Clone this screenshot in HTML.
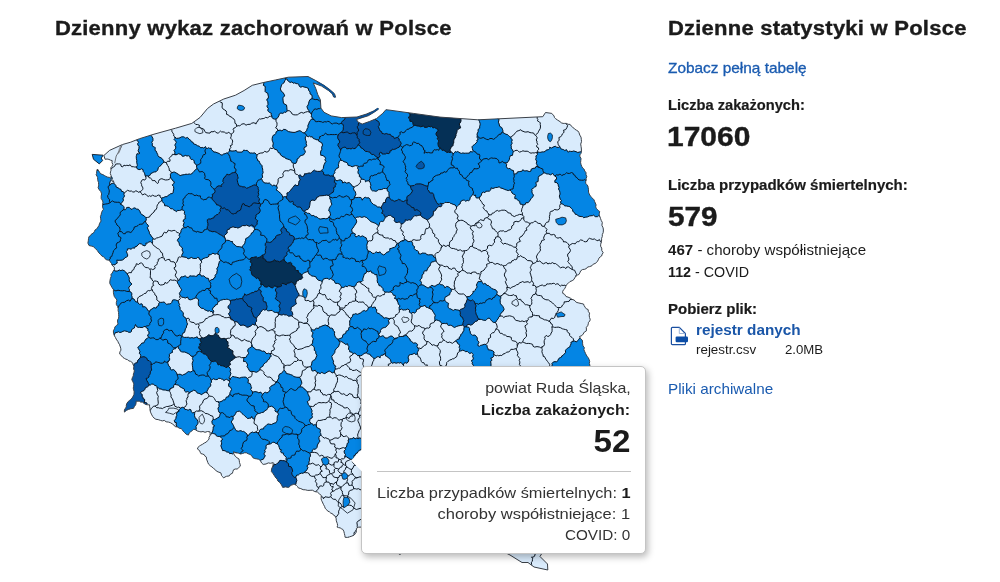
<!DOCTYPE html>
<html lang="pl">
<head>
<meta charset="utf-8">
<title>Dzienny wykaz zachorowań w Polsce</title>
<style>
html,body{margin:0;padding:0;background:#fff;}
body{width:1000px;height:582px;position:relative;overflow:hidden;font-family:"Liberation Sans","DejaVu Sans",sans-serif;color:#1b1b1b;}
.t{position:absolute;white-space:nowrap;line-height:1;margin:0;}
h2.t{font-size:20px;font-weight:bold;letter-spacing:0.2px;color:#1b1b1b;-webkit-text-stroke:0.35px #1b1b1b;}
.b{font-weight:bold;}
.lbl{font-size:14.5px;font-weight:bold;-webkit-text-stroke:0.2px #1b1b1b;}
.big{font-size:28px;font-weight:bold;-webkit-text-stroke:0.4px #1b1b1b;}
.lnk{color:#1a5bb0;}
#map{position:absolute;left:0;top:0;}
#tip{position:absolute;left:361px;top:366px;width:282.5px;height:186px;background:#fff;border:1px solid #c4c4c4;border-radius:5px;box-shadow:2px 3px 7px rgba(0,0,0,.28);}
#tip .r{position:absolute;right:14px;white-space:nowrap;line-height:1;font-size:15px;color:#333;}
#tip hr{position:absolute;left:15px;right:14px;top:103.5px;margin:0;border:0;border-top:1px solid #c4c4c4;}
#arr{position:absolute;left:350px;top:449px;}
</style>
</head>
<body>
<h2 class="t" id="h1" style="left:55px;top:18px;transform:scaleX(1.102);transform-origin:1px 0;">Dzienny wykaz zachorowań w Polsce</h2>
<h2 class="t" id="h2" style="left:668px;top:18px;transform:scaleX(1.102);transform-origin:1px 0;">Dzienne statystyki w Polsce</h2>
<a class="t lnk" id="l1" style="left:668px;top:61px;font-size:14.5px;-webkit-text-stroke:0.3px #1a5bb0;transform:scaleX(1.0615);transform-origin:0 0;">Zobacz pełną tabelę</a>
<div class="t lbl" id="a1" style="left:668px;top:98px;transform:scaleX(1.011);transform-origin:0 0;">Liczba zakażonych:</div>
<div class="t big" id="a2" style="left:667px;top:123px;transform:scaleX(1.07);transform-origin:0 0;">17060</div>
<div class="t lbl" id="a3" style="left:668px;top:178px;transform:scaleX(1.037);transform-origin:0 0;">Liczba przypadków śmiertelnych:</div>
<div class="t big" id="a4" style="left:668px;top:203px;transform:scaleX(1.06);transform-origin:0 0;">579</div>
<div class="t" id="a5" style="left:668px;top:243px;font-size:14.5px;transform:scaleX(1.041);transform-origin:0 0;"><span class="b">467</span> - choroby współistniejące</div>
<div class="t" id="a6" style="left:668px;top:265px;font-size:14.5px;transform:scaleX(0.985);transform-origin:0 0;"><span class="b">112</span> - COVID</div>
<div class="t lbl" id="a7" style="left:668px;top:302px;transform:scaleX(1.033);transform-origin:0 0;">Pobierz plik:</div>
<svg id="ico" style="position:absolute;left:670px;top:325px;" width="20" height="22" viewBox="0 0 20 22"><path d="M2.4 2.4h6.9l6.1 6.1v10.2a1 1 0 0 1-1 1h-12a1 1 0 0 1-1-1v-15.3a1 1 0 0 1 1-1z" fill="#fff" stroke="#1a4fa0" stroke-width="1.2"/><path d="M9.3 2.6v5.9h5.9" fill="none" stroke="#9db4d8" stroke-width="1"/><rect x="5.6" y="11.6" width="12.4" height="5.7" rx="1.2" fill="#0b4da6"/></svg>
<a class="t lnk b" id="a8" style="left:696px;top:322px;font-size:15px;color:#1a56a8;transform:scaleX(1.02);transform-origin:0 0;">rejestr danych</a>
<div class="t" id="a9" style="left:696px;top:344px;font-size:12px;transform:scaleX(1.113);transform-origin:0 0;">rejestr.csv</div>
<div class="t" id="a10" style="left:785px;top:344px;font-size:12px;transform:scaleX(1.10);transform-origin:0 0;">2.0MB</div>
<a class="t lnk" id="a11" style="left:668px;top:382px;font-size:14.5px;transform:scaleX(1.052);transform-origin:0 0;">Pliki archiwalne</a>
<svg id="map" width="1000" height="582" viewBox="0 0 1000 582">
<defs><clipPath id="pl"><path d="M103.9,155.5L109.7,150.3L122.5,144.5L130.3,142.3L139.5,138.7L154.0,134.2L175.6,128.2L191.8,123.4L200.0,117.5L207.5,108.5L213.5,104.0L223.8,99.0L235.5,95.2L244.1,90.5L252.3,85.3L263.1,82.6L275.8,79.9L288.4,77.2L308.0,76.5L315.8,80.6L324.0,85.3L330.2,89.9L334.5,93.7L335.6,97.2L333.6,97.0L332.4,93.9L328.7,90.7L321.6,86.1L313.2,82.9L315.8,88.6L317.8,94.7L320.4,99.9L320.9,108.1L324.0,112.3L331.2,115.9L341.5,117.6L357.0,117.0L366.3,114.1L373.5,111.0L377.8,108.2L378.4,109.3L374.0,112.3L368.4,115.7L361.1,118.0L356.5,119.5L358.0,122.0L362.2,124.1L369.4,121.5L376.6,118.5L382.8,113.3L385.9,109.7L390.0,110.2L413.3,113.4L440.0,117.1L477.9,119.8L542.8,116.7L545.5,112.5L551.8,113.4L552.6,114.6L554.0,115.7L554.4,117.4L555.5,118.6L557.6,120.1L560.0,121.6L561.3,122.8L563.1,123.4L564.7,123.4L566.4,123.4L568.1,124.3L570.1,124.4L571.1,125.9L572.6,127.0L574.5,129.0L576.4,130.2L577.9,131.0L578.9,132.5L579.8,135.1L581.0,137.1L581.3,139.3L581.5,141.7L580.7,144.1L581.1,146.7L581.4,149.0L581.4,151.9L580.9,153.6L579.8,154.9L580.0,156.7L581.0,158.5L580.8,160.5L580.6,162.7L581.1,164.7L581.7,166.3L582.8,168.2L584.3,169.4L584.7,171.0L586.0,172.6L586.0,174.6L586.8,176.7L586.1,178.5L586.2,180.1L585.7,181.7L585.7,183.3L586.9,184.7L587.9,186.0L588.2,187.8L588.5,189.3L588.5,192.1L589.1,193.6L589.7,195.0L590.8,196.4L591.9,197.7L594.0,199.8L594.6,201.5L595.3,203.0L596.1,204.9L595.7,206.9L596.4,208.5L597.5,209.5L598.5,210.7L599.7,211.5L599.3,213.2L599.2,215.0L599.9,216.7L600.5,218.4L601.2,220.4L602.3,222.4L601.9,225.3L603.1,227.8L603.4,230.0L603.2,232.6L602.3,234.6L602.3,236.5L601.6,238.3L601.6,239.9L601.4,241.9L600.7,244.2L600.6,246.2L601.7,248.1L601.8,250.6L603.2,252.7L602.2,254.1L601.6,256.0L600.2,256.9L599.0,258.1L598.3,259.8L597.5,261.2L596.5,262.5L595.1,263.5L593.3,264.1L592.0,265.7L589.7,266.6L587.6,267.0L586.6,268.4L584.7,269.3L582.6,269.5L580.7,270.8L579.9,272.7L578.9,274.5L577.4,275.1L575.9,276.3L574.8,277.7L574.0,279.4L572.2,280.7L569.9,281.6L567.8,283.7L566.5,284.7L565.7,286.5L564.9,288.5L563.6,289.7L562.7,291.3L562.7,293.3L564.6,294.3L566.0,296.5L568.0,297.1L570.3,298.1L572.0,299.4L574.0,300.0L575.3,301.1L576.2,302.3L578.9,303.0L581.1,303.5L583.5,304.0L584.1,305.6L585.1,307.2L586.3,308.8L588.1,309.5L588.4,311.7L589.6,313.1L589.2,315.1L589.5,317.5L590.2,319.3L589.8,321.0L588.5,322.3L588.3,323.8L587.7,325.8L586.3,327.3L586.4,329.0L586.4,330.9L584.3,332.1L583.2,334.0L581.9,335.6L579.5,336.5L580.6,338.7L582.2,340.0L582.6,342.1L582.6,343.8L583.0,345.9L584.3,347.5L583.9,349.7L584.7,351.6L585.5,353.4L586.3,355.0L587.0,356.2L588.0,357.4L589.0,359.2L589.7,361.4L589.3,363.4L589.9,365.3L589.6,367.0L590.0,368.5L590.1,370.5L589.1,372.3L589.0,374.6L589.7,376.8L590.4,378.8L592.0,380.0L600.0,400.0L607.0,420.0L600.0,440.0L585.0,470.0L570.0,500.0L560.0,530.0L545.0,548.0L540.0,556.5L547.5,564.0L547.8,570.0L534.0,567.0L528.0,562.5L522.0,562.5L510.0,555.0L490.0,545.0L470.0,548.0L450.0,540.0L430.0,545.0L415.0,540.0L400.0,554.5L385.0,545.0L375.0,535.0L361.0,527.1L358.4,527.2L356.4,528.3L356.4,530.4L356.2,532.2L355.3,533.7L354.1,535.1L351.9,536.1L349.4,536.9L347.5,537.4L345.1,537.3L344.8,535.3L344.4,533.6L343.8,531.2L342.8,529.4L341.3,528.7L340.2,527.9L338.5,527.6L337.1,527.1L337.6,525.5L337.3,523.6L336.3,520.8L336.1,518.1L334.9,515.8L333.4,515.1L332.5,513.7L330.8,513.2L329.4,511.8L327.7,511.1L326.5,509.5L325.2,508.4L324.7,506.7L323.4,504.3L322.3,501.9L321.5,500.3L321.1,498.6L321.2,497.1L321.3,495.4L319.4,493.9L317.4,492.0L314.8,491.6L312.4,490.2L310.1,490.3L307.8,490.4L305.3,489.8L303.1,489.7L300.8,488.6L298.3,487.9L297.6,486.6L296.5,485.5L294.0,484.0L292.5,484.8L290.8,485.2L289.9,486.5L288.4,487.4L285.5,486.9L282.7,487.4L281.5,484.9L279.8,482.6L277.7,480.8L277.2,479.1L276.0,478.0L275.0,476.7L274.0,475.1L272.7,473.1L271.4,471.6L271.5,469.1L272.5,466.8L273.1,465.0L273.2,462.6L270.5,463.3L268.3,462.9L266.0,464.0L263.2,464.4L261.6,463.0L260.6,460.9L258.9,459.3L256.9,458.9L254.8,458.6L253.1,457.9L251.8,455.9L250.1,454.4L248.2,453.8L246.7,452.9L244.8,452.7L242.5,453.5L240.5,454.0L238.2,453.0L235.9,452.9L233.5,451.7L233.8,454.0L235.2,456.2L236.9,457.7L238.9,458.9L239.3,460.8L239.5,462.6L240.1,464.2L240.3,466.2L238.8,467.6L237.2,469.0L235.2,469.0L233.5,469.8L232.9,471.6L232.4,473.3L230.5,474.1L229.3,475.9L226.5,476.3L225.0,477.0L223.6,477.9L222.6,476.7L221.6,475.6L220.9,472.9L218.1,471.9L216.5,471.2L215.4,469.8L213.4,468.3L211.9,466.9L210.3,465.8L208.6,464.2L207.8,462.5L207.3,461.0L206.5,459.1L206.4,457.1L205.1,456.3L204.3,454.8L202.8,454.1L200.9,453.6L200.2,452.2L199.6,450.6L197.4,449.0L198.1,447.2L199.4,446.1L200.8,445.2L202.5,444.3L204.4,443.0L206.3,442.1L207.6,440.5L209.1,439.1L209.0,437.4L210.0,435.8L210.2,433.8L210.0,431.9L207.5,431.5L205.0,432.3L203.0,431.5L201.0,431.9L199.2,431.5L197.1,430.9L195.5,429.8L193.8,429.2L192.3,430.6L190.7,431.7L189.2,433.0L188.4,435.1L186.0,434.1L184.3,432.2L183.1,431.1L182.3,429.7L181.1,428.5L179.4,428.3L177.3,426.9L175.2,426.7L173.9,425.0L172.2,423.8L170.4,422.7L168.6,422.1L166.1,421.8L164.3,420.4L162.3,420.9L160.5,420.4L158.2,419.6L155.9,419.3L154.1,418.1L152.7,416.5L151.4,414.1L150.5,412.1L150.0,410.0L150.0,408.1L149.5,406.3L149.6,404.8L147.7,404.8L145.7,404.5L144.0,403.4L142.4,402.1L140.6,402.1L139.2,401.1L137.8,401.3L136.1,401.2L136.1,402.9L135.7,404.7L134.4,406.6L133.4,408.4L130.9,408.7L128.5,409.4L126.4,410.4L124.4,412.1L124.4,410.0L125.4,408.3L126.3,407.0L126.3,405.1L126.9,403.3L128.2,401.5L129.4,400.5L130.7,399.4L132.1,398.1L132.9,396.5L133.9,394.7L134.1,393.0L134.1,391.2L133.6,389.8L133.3,388.2L133.5,386.6L133.8,384.8L133.6,383.2L132.6,381.3L131.8,379.6L132.4,377.5L133.3,375.9L133.4,373.9L134.1,372.2L134.3,370.5L133.6,369.0L133.9,366.3L133.0,364.6L132.8,363.0L130.5,361.3L128.8,360.9L127.6,359.7L125.9,359.2L124.6,358.5L123.0,357.5L121.9,356.1L119.7,354.1L119.9,351.9L120.9,350.2L120.8,348.7L120.4,347.0L119.4,344.3L118.5,343.0L117.9,341.5L116.2,339.1L115.5,337.6L114.5,336.0L113.5,333.4L113.4,330.7L114.5,328.8L114.9,327.0L116.4,325.4L118.1,324.2L117.6,322.1L117.6,320.0L118.6,318.2L118.8,316.2L118.6,314.5L118.6,312.5L118.1,310.5L118.2,308.7L117.6,306.4L116.4,304.7L116.3,302.5L117.0,300.0L115.7,298.4L114.2,296.3L113.7,294.1L113.4,292.3L113.4,289.5L112.0,287.5L110.8,285.3L109.8,283.4L109.9,280.9L110.4,278.5L111.2,276.4L111.0,274.3L112.2,273.1L113.1,271.3L114.4,269.4L114.3,267.1L112.0,265.2L111.5,263.5L110.5,262.2L109.8,260.9L108.3,260.1L106.8,259.9L105.3,259.0L104.6,257.6L103.3,256.7L101.8,256.0L100.8,254.7L98.9,252.9L97.5,250.7L95.6,248.8L94.5,247.9L93.6,246.6L91.4,246.1L89.0,245.5L87.9,243.1L88.3,240.8L88.5,238.6L89.0,236.5L90.6,235.6L91.4,234.1L93.4,233.1L94.4,231.5L95.1,229.9L96.8,228.9L97.9,227.1L98.9,225.7L99.6,223.3L101.0,221.1L100.7,218.8L100.4,216.7L101.1,214.8L101.5,212.8L102.3,210.8L103.4,209.4L102.6,207.0L102.6,204.5L103.0,202.1L102.2,200.1L101.2,198.5L101.2,196.2L101.6,193.9L100.8,191.6L99.2,189.7L98.1,187.7L98.6,185.9L98.6,184.3L98.5,182.4L97.9,180.8L97.7,179.2L97.6,177.5L97.0,176.1L96.1,174.8L96.7,173.3L96.6,171.6L97.4,169.0L98.5,170.5L99.5,172.2L100.7,173.8L102.8,174.6L104.5,175.5L105.9,176.4L107.8,177.2L109.7,177.4L110.8,178.8L111.5,180.7L112.7,181.6L114.2,182.5L112.7,180.0L110.8,178.3L111.1,175.6L110.3,173.5L110.5,171.9L111.0,170.3L110.9,167.7L112.0,166.3L112.9,164.5L112.0,162.6L112.2,160.6L110.6,160.2L108.9,159.4L107.1,159.0L105.1,159.3Z"/></clipPath></defs>
<g clip-path="url(#pl)" stroke-linejoin="round">
<rect x="80" y="70" width="540" height="512" fill="#d9ebfc"/>
<path d="M152.1,136.8L151.2,135.9L150.9,134.2L150.1,132.5L149.0,130.9L147.6,129.7L147.8,128.2L148.9,126.1L148.0,124.4L145.8,123.9L145.5,122.3L145.3,120.5L144.1,121.3L142.6,121.9L140.5,120.8L139.4,121.2L138.4,122.4L136.3,123.0L134.5,123.3L133.1,124.9L130.7,124.7L129.4,126.6L129.0,128.6L130.5,130.6L131.6,131.8L131.2,133.8L131.1,136.1L132.0,137.6L133.2,138.3L133.9,140.2L135.7,139.4L137.2,140.3L138.6,142.3L137.7,143.5L137.8,144.9L139.1,146.5L138.9,148.5L138.2,150.3L138.6,152.3L140.0,153.0L138.5,153.9L137.0,153.7L136.5,155.3L136.3,156.4L136.4,158.8L136.8,160.4L136.7,162.4L137.2,164.3L137.3,165.7L136.4,167.0L137.3,168.9L138.9,169.6L140.3,169.5L141.2,168.7L143.1,169.7L143.2,171.4L144.2,172.5L144.7,173.8L145.3,176.0L147.0,175.9L148.3,176.0L149.8,175.5L150.8,173.5L152.1,173.0L153.1,172.3L154.6,171.9L156.0,171.8L157.7,170.1L158.3,167.7L159.5,166.4L161.0,165.4L161.9,164.1L162.6,163.3L164.1,162.1L163.5,160.9L162.6,159.2L161.0,157.8L159.0,157.0L157.9,155.6L157.7,154.5L156.8,152.8L156.3,151.2L155.2,150.6L155.0,149.0L155.3,147.8L154.6,147.1L152.8,146.5L152.1,145.0L152.5,143.7L151.7,142.3L152.9,140.6L152.9,138.5ZM175.0,152.1L174.7,153.7L176.0,154.8L177.4,154.3L178.8,153.6L179.9,154.2L181.2,154.4L182.2,156.2L183.8,156.2L185.3,155.4L187.0,156.0L188.4,155.7L189.9,156.5L190.3,158.4L191.2,159.5L192.6,159.3L194.2,160.9L194.3,163.1L195.8,164.0L196.5,165.5L196.6,167.1L197.2,168.5L195.7,169.4L194.1,171.3L193.0,172.6L192.0,173.5L190.7,174.3L189.4,174.0L187.4,174.4L186.0,174.2L184.4,174.6L182.0,175.0L180.1,175.6L178.5,174.4L176.4,173.1L174.4,172.1L173.2,172.2L171.5,172.9L170.4,174.2L170.5,176.4L170.7,178.0L171.7,178.9L172.6,180.7L174.4,181.8L173.8,183.7L172.2,184.9L173.5,186.5L173.8,188.8L173.3,191.1L173.1,192.9L172.2,193.6L170.7,193.7L169.5,194.6L168.5,195.0L167.1,196.7L165.1,196.7L163.8,197.5L161.5,198.0L161.9,199.9L162.1,201.3L163.3,202.8L164.5,203.8L164.6,205.7L166.7,205.8L168.6,206.6L169.9,207.8L170.8,208.8L172.4,208.7L173.9,210.1L175.1,210.6L176.6,211.7L177.3,210.4L179.4,210.5L181.7,209.8L183.5,210.2L184.6,211.7L184.3,213.5L185.4,215.5L185.1,217.2L185.6,218.5L184.1,219.2L183.0,221.1L184.2,222.4L183.7,224.0L183.2,225.8L184.5,227.7L182.3,228.3L181.1,230.4L180.9,232.1L179.7,233.9L179.0,235.3L179.8,236.7L179.7,237.2L178.0,239.0L177.4,240.5L178.1,241.7L179.1,242.5L179.3,244.2L179.6,245.3L180.7,246.5L182.6,248.0L182.0,250.0L182.8,251.4L183.1,252.8L182.3,254.0L181.7,255.5L181.8,256.6L184.0,257.0L186.3,257.4L188.1,258.8L189.9,258.2L191.3,257.4L193.2,258.4L195.1,258.5L196.6,258.4L197.5,257.4L198.9,257.7L199.5,259.2L200.6,260.2L201.9,260.1L202.7,258.7L204.4,258.2L205.5,257.7L207.2,257.5L209.0,256.2L208.8,254.5L210.1,254.8L211.4,254.3L212.9,253.2L215.1,254.2L216.3,253.6L217.8,254.1L219.3,255.0L219.3,257.0L219.6,258.9L220.9,260.4L219.3,261.5L219.1,263.1L218.5,264.1L218.5,265.2L218.0,266.8L216.7,268.9L217.5,270.0L216.9,271.8L217.0,273.4L215.6,274.5L215.1,275.5L215.3,277.1L213.8,278.1L213.4,279.3L211.1,279.8L209.3,281.4L208.8,280.0L208.4,278.4L206.1,278.1L205.0,276.8L203.2,275.7L201.6,276.4L200.9,274.9L199.5,274.4L197.9,274.6L197.1,276.1L195.5,276.4L194.2,276.0L191.7,276.1L189.8,275.8L188.4,277.6L186.6,277.1L185.1,275.7L184.0,276.5L182.5,276.8L181.0,276.9L180.0,278.6L179.6,280.0L177.9,280.5L177.3,281.6L177.7,283.5L178.9,284.7L179.6,287.0L181.0,288.4L181.6,289.9L180.5,291.5L179.4,293.4L180.1,295.6L181.9,297.2L183.8,297.5L185.5,298.0L187.5,297.0L188.1,298.1L188.7,299.3L190.2,299.8L191.7,299.5L193.7,298.6L195.9,297.8L197.7,298.8L198.6,299.9L198.4,301.5L198.3,302.8L198.4,305.1L199.9,307.1L201.5,308.3L203.4,308.4L204.4,309.6L206.1,310.3L208.0,311.2L209.6,310.7L210.7,311.7L212.1,311.3L213.0,313.1L213.8,311.1L212.3,309.2L213.5,307.2L215.0,306.2L215.5,304.8L217.3,304.5L217.6,303.2L218.2,301.6L219.5,301.3L220.4,300.2L222.1,299.9L223.6,299.4L225.6,299.5L226.9,299.1L228.5,299.6L230.4,300.5L232.1,300.1L233.9,299.9L235.1,299.9L236.2,298.8L238.0,299.3L239.3,298.7L241.1,298.6L242.6,298.5L243.2,296.3L244.4,295.6L244.6,293.8L246.2,295.3L247.2,294.8L248.9,294.3L250.5,293.4L252.1,292.6L253.7,292.6L254.8,291.3L257.2,291.3L258.6,289.5L260.1,290.0L261.3,291.0L260.6,293.2L261.5,294.8L262.1,296.2L263.3,297.4L263.2,298.9L263.1,300.0L263.1,300.2L263.7,301.7L265.9,302.0L266.4,304.3L267.0,306.5L266.8,307.7L266.4,309.5L267.5,310.7L268.7,310.8L270.1,310.6L272.1,310.4L273.5,311.8L275.4,312.5L277.3,312.2L278.2,313.4L279.1,311.8L279.8,310.7L280.0,308.3L279.0,306.4L279.5,304.8L280.4,303.3L279.8,301.9L278.6,301.0L276.7,300.0L275.1,298.2L276.5,297.1L276.2,295.2L276.6,294.2L277.0,292.6L275.9,291.7L275.3,290.0L276.1,288.5L277.1,287.3L278.2,286.9L276.2,286.5L274.8,285.9L273.7,286.5L272.6,288.0L270.6,287.3L268.8,285.9L267.0,287.1L264.7,286.7L263.6,285.7L262.9,284.6L260.7,284.2L260.9,282.8L261.2,281.3L259.5,280.7L259.0,278.6L257.6,277.9L256.4,278.6L255.4,277.4L254.0,276.2L252.2,275.1L251.4,273.2L251.4,271.6L249.7,269.9L250.6,268.7L250.3,266.9L251.6,265.5L251.9,263.2L250.1,261.9L250.7,260.4L250.1,259.2L251.2,257.6L253.7,257.4L254.8,257.1L256.3,256.8L257.6,257.9L259.5,257.3L261.4,256.4L262.3,255.0L264.2,254.8L265.5,252.8L265.3,250.6L265.7,248.6L266.1,246.7L265.3,245.5L265.3,243.4L266.5,242.4L268.0,242.0L269.7,242.5L270.9,242.2L272.8,240.7L274.0,238.9L275.6,238.2L275.6,236.9L276.6,235.5L278.2,235.0L280.4,234.5L281.6,233.3L281.9,232.1L280.7,230.9L281.2,229.1L282.6,227.6L283.8,226.2L284.1,227.9L286.2,229.0L286.5,231.3L288.6,232.2L289.7,233.7L289.6,235.0L291.0,235.4L292.4,235.6L294.0,236.8L294.4,238.2L294.0,239.4L293.3,241.4L292.7,243.0L291.5,243.8L290.7,245.7L288.7,246.6L288.1,248.4L289.3,250.1L288.5,250.6L287.6,251.6L286.7,252.6L287.0,254.6L286.1,255.9L284.2,257.2L284.1,258.2L284.2,259.7L284.9,261.3L286.1,262.1L287.4,263.2L289.1,262.8L290.6,262.4L291.8,263.5L291.6,265.3L293.2,266.1L294.4,266.6L295.2,267.7L295.2,269.3L296.2,270.4L298.3,270.6L298.3,272.4L299.9,273.3L301.8,274.8L303.5,273.3L304.9,272.5L306.6,271.9L308.2,271.5L308.5,272.7L309.1,274.1L310.3,274.5L311.4,275.9L313.6,276.2L315.8,276.7L316.7,278.7L318.6,280.3L320.6,280.7L322.3,281.6L323.1,279.3L325.0,278.5L326.3,278.4L328.0,278.4L328.9,279.5L330.9,278.5L331.2,278.6L332.5,280.1L334.1,280.5L334.6,281.9L335.5,283.4L337.6,283.4L339.6,284.0L340.5,285.5L341.5,286.9L341.1,288.1L342.2,287.5L343.8,287.4L345.4,286.2L347.3,286.7L348.6,285.6L350.7,285.9L352.0,286.5L353.8,286.6L355.6,285.8L356.5,283.5L357.9,282.0L359.9,281.8L361.8,281.6L363.0,280.4L362.6,279.1L363.3,277.4L363.9,275.4L364.4,273.7L366.0,273.2L366.7,271.3L368.8,271.8L370.9,270.8L371.7,272.8L373.7,273.2L374.9,274.7L377.0,274.6L376.9,275.9L377.1,277.4L377.4,279.1L377.2,280.7L377.7,283.0L378.7,283.9L379.0,285.6L380.6,285.8L381.7,287.2L383.0,288.6L383.2,290.5L384.0,291.4L385.3,292.1L387.4,292.1L388.5,292.3L390.2,291.9L391.8,292.5L392.6,293.6L393.5,295.3L395.1,295.3L395.4,296.7L394.5,298.5L396.5,298.9L397.2,300.9L398.1,302.8L398.3,304.2L400.2,305.9L399.1,307.0L399.2,308.3L399.3,310.1L401.5,309.0L403.1,310.1L404.2,309.8L405.8,309.9L407.7,309.0L409.5,310.1L409.4,312.2L411.4,313.3L413.0,312.3L414.6,313.2L416.3,311.4L416.5,309.6L418.6,308.8L420.0,308.0L420.3,306.5L422.7,306.3L424.0,305.7L425.2,305.4L426.1,307.2L427.8,307.6L429.9,308.7L431.9,309.5L432.8,311.3L433.7,312.7L434.7,314.3L435.3,315.5L434.7,317.3L434.9,319.2L434.8,320.9L436.5,319.9L438.3,320.5L440.2,321.2L441.1,322.8L442.0,323.6L444.2,323.4L445.7,323.6L447.1,323.1L447.3,324.5L448.4,325.4L450.4,325.2L451.9,325.7L452.9,326.5L454.4,327.5L456.3,326.6L458.1,325.9L460.2,325.5L462.6,325.1L462.9,324.0L463.1,322.6L463.8,320.7L463.1,319.2L462.5,317.3L460.9,316.6L460.2,314.8L460.4,312.9L459.7,310.5L457.7,310.0L456.3,309.8L454.9,309.4L453.7,310.4L452.2,309.9L450.9,309.0L449.6,308.7L448.3,307.7L448.0,306.2L448.2,304.8L448.6,303.4L447.6,303.1L446.5,302.0L444.7,300.4L444.8,298.1L445.7,296.5L446.9,296.4L448.0,295.3L449.6,294.8L450.0,292.8L451.2,291.6L451.3,289.1L450.1,288.4L448.7,286.9L446.6,286.4L444.9,287.9L444.3,286.4L442.7,284.9L440.5,284.7L439.5,283.3L438.7,284.3L437.2,284.7L436.1,285.5L435.0,286.3L433.3,286.0L431.9,285.2L430.7,286.2L429.6,287.0L428.1,288.1L426.8,287.4L424.8,286.1L423.1,285.0L421.1,284.8L421.3,283.6L421.4,282.3L420.5,281.0L419.8,280.1L421.6,278.4L422.0,276.8L422.1,274.9L423.8,273.5L423.7,271.7L425.0,270.7L426.6,271.0L427.5,268.9L428.5,267.0L429.9,266.0L430.5,264.4L430.8,263.1L431.7,261.9L433.2,261.8L434.3,261.3L436.1,260.9L435.8,259.1L435.5,257.6L433.8,257.1L432.8,255.0L430.8,254.7L428.6,254.9L426.7,254.6L425.8,253.3L424.1,253.2L422.1,253.1L420.9,254.1L418.6,253.7L418.6,251.8L417.6,250.9L415.9,250.3L414.2,248.5L414.5,246.6L412.7,245.3L412.6,243.3L411.7,241.5L410.4,241.3L408.9,241.7L407.0,241.0L406.3,239.9L404.6,239.5L403.9,240.8L402.1,240.8L399.9,241.9L398.8,243.2L397.4,243.3L396.2,245.0L395.9,246.3L394.7,247.2L392.7,247.8L391.1,248.5L389.9,248.5L389.7,250.5L388.9,251.7L386.6,252.4L385.1,254.2L383.5,254.9L381.8,253.9L380.5,253.0L380.1,251.9L378.0,252.8L376.4,251.9L375.3,252.4L374.2,253.5L372.2,253.2L370.6,251.6L368.2,251.0L367.0,248.9L367.0,246.6L366.7,245.4L367.1,243.9L367.8,241.7L366.7,239.7L366.2,237.9L364.5,237.1L362.7,235.9L360.4,236.7L359.2,235.7L358.1,235.5L357.3,236.5L355.9,236.9L354.9,235.8L355.4,234.1L353.5,233.1L352.3,232.2L351.8,231.1L351.8,229.0L353.1,227.9L354.0,226.3L354.8,225.2L355.6,224.0L356.7,221.9L356.3,219.7L355.4,218.4L356.7,217.0L358.4,217.1L359.8,216.6L361.8,217.4L362.9,217.1L364.2,216.5L365.6,217.2L366.8,217.6L368.5,219.4L369.8,220.7L370.9,221.6L372.3,222.2L374.4,222.9L375.9,223.6L377.0,224.5L378.7,225.8L379.4,224.0L379.7,222.6L381.1,221.2L382.8,221.5L384.0,220.6L384.3,219.3L385.1,218.1L385.2,216.9L384.4,216.2L383.9,214.7L383.0,213.5L381.5,212.9L382.8,212.0L382.7,210.2L381.5,209.1L381.3,207.7L379.4,207.0L377.7,207.1L375.8,205.5L374.8,205.0L373.4,204.4L371.6,202.6L370.4,201.0L370.2,199.5L368.8,197.8L366.8,197.9L365.4,197.3L364.1,197.7L362.8,199.0L362.3,200.2L361.6,198.6L360.9,197.5L358.4,197.4L356.1,197.6L354.5,196.7L355.8,194.9L355.7,193.5L355.4,191.9L353.8,190.0L353.5,188.1L354.5,187.0L352.3,186.2L351.3,184.4L350.0,183.4L349.1,182.5L346.7,183.2L344.8,182.0L342.6,183.0L342.1,180.8L340.2,179.8L338.4,180.3L337.0,180.9L334.9,179.6L334.4,180.8L334.4,182.4L335.7,183.0L336.2,184.4L335.1,185.3L335.4,186.9L333.5,187.6L333.8,189.5L333.5,190.8L333.3,192.1L332.0,192.8L330.5,193.7L328.9,195.5L329.9,197.1L329.9,199.2L331.0,200.0L330.9,201.9L331.8,204.1L331.3,205.4L330.3,206.3L329.3,208.4L328.7,210.8L329.9,211.6L330.2,213.2L330.6,215.0L329.1,216.8L328.0,218.2L326.9,218.6L325.5,218.8L324.1,218.4L321.8,218.8L320.2,219.1L318.6,218.5L317.0,216.9L314.8,216.8L313.9,215.4L311.6,215.8L310.8,214.7L310.0,213.7L308.6,213.3L307.4,213.4L306.6,212.4L305.1,212.4L304.8,211.1L303.3,211.2L302.2,209.7L301.0,207.6L299.2,206.9L297.3,207.1L296.4,206.0L295.1,205.1L293.0,204.1L293.4,202.5L292.7,201.3L290.7,202.1L289.2,201.6L288.2,199.6L286.5,198.5L286.3,196.9L284.7,196.6L282.8,197.3L282.2,195.5L281.4,194.1L280.3,193.1L278.6,191.6L277.5,190.6L276.1,190.0L277.1,188.4L277.2,187.1L276.4,186.0L275.3,185.8L274.0,185.0L272.3,185.9L271.4,185.2L270.3,183.8L269.4,183.0L267.9,183.3L266.3,183.0L265.0,183.1L263.1,181.9L262.2,180.2L261.5,178.5L262.7,177.1L262.4,176.0L262.2,174.6L263.1,172.5L262.7,170.5L262.7,169.0L262.2,167.5L262.0,165.7L261.3,164.7L260.1,163.8L259.7,162.7L259.2,161.2L257.5,160.5L257.5,159.1L256.5,158.1L256.9,156.4L256.9,155.1L256.4,154.5L254.9,152.9L252.7,153.2L251.6,153.0L250.1,153.1L248.7,152.1L247.3,150.4L245.4,150.5L243.6,150.1L243.2,151.1L242.0,152.1L239.9,152.2L238.4,152.1L237.4,152.2L236.2,150.4L234.4,150.9L232.1,151.1L230.1,150.8L229.5,149.1L229.5,151.1L228.4,152.3L227.5,153.0L226.4,153.0L225.1,153.7L223.4,154.1L222.1,155.2L220.8,154.8L219.4,153.6L217.1,152.7L215.1,152.0L213.8,152.1L212.8,150.7L211.5,149.8L211.2,148.3L209.7,148.4L208.7,147.7L207.8,148.4L206.2,148.4L205.5,146.5L203.8,148.1L202.2,147.4L200.8,147.9L199.4,146.3L197.4,145.7L195.9,144.6L193.6,143.9L193.0,142.3L191.4,141.8L190.7,140.3L189.1,139.2L187.5,137.4L185.7,138.2L184.6,137.4L183.4,136.8L181.4,136.9L179.9,137.8L178.6,138.2L176.5,138.4L174.9,137.0L174.9,138.6L174.1,139.5L175.7,141.1L176.3,142.7L175.4,143.8L174.9,145.3L175.9,147.0L175.4,148.9L174.0,150.4ZM212.1,194.5L214.2,193.4L215.2,191.3L214.4,189.3L215.8,187.8L216.9,186.9L218.0,186.0L219.5,185.8L221.6,186.5L221.1,185.2L222.3,183.9L223.8,182.6L222.8,181.5L223.2,179.6L223.8,177.9L225.0,177.0L226.0,175.6L226.9,174.2L228.4,174.7L229.9,174.5L231.9,173.0L233.5,172.6L235.3,172.1L236.2,173.2L237.4,174.6L237.6,176.3L238.2,178.0L237.2,179.5L237.4,180.8L237.7,182.5L238.2,183.9L239.2,186.0L241.5,186.4L242.9,186.9L244.4,186.8L245.5,187.3L246.5,188.4L248.6,187.5L249.9,186.9L251.2,186.4L253.3,185.3L254.9,184.9L256.5,185.6L258.2,187.3L258.1,188.8L258.7,190.5L258.2,192.2L258.7,194.5L257.8,196.6L258.6,197.8L259.5,198.7L259.2,200.1L258.7,201.3L259.9,203.5L260.6,204.1L260.2,206.4L259.2,207.6L259.8,209.2L260.3,210.4L259.8,211.9L259.2,213.0L257.7,213.8L255.9,215.1L256.0,216.8L255.2,218.1L256.3,219.7L257.7,220.7L257.0,222.2L257.2,224.1L255.9,225.4L255.2,226.6L254.2,227.5L254.5,229.5L253.6,231.1L252.9,232.5L251.5,233.0L251.0,234.4L250.2,235.3L249.4,236.4L247.8,237.5L245.7,238.7L245.5,240.7L245.0,241.8L245.0,243.3L244.0,244.2L243.1,245.4L241.8,247.3L239.4,246.7L236.9,246.6L235.7,245.8L235.0,244.9L233.3,243.9L232.6,242.8L232.5,241.5L230.9,241.6L229.7,240.7L228.0,240.3L226.5,240.3L225.6,240.8L225.2,238.5L223.7,236.8L221.7,235.4L220.4,234.7L218.7,233.7L217.6,233.2L216.6,232.2L214.3,231.5L212.1,231.7L210.8,231.1L209.4,231.0L208.6,229.7L207.2,228.9L207.4,226.6L207.9,225.4L207.9,223.6L207.4,221.5L207.4,219.7L208.7,219.0L210.7,219.0L212.1,218.3L213.9,217.8L214.4,216.2L215.7,215.7L216.5,214.6L217.9,214.5L219.0,213.4L219.5,212.1L220.5,211.3L220.1,209.5L221.1,207.5L220.9,206.1L219.4,206.1L218.4,204.9L216.7,204.9L215.7,202.8L214.2,201.6L213.5,200.4L212.3,199.6L212.0,197.8L212.6,195.9ZM81.9,181.2L80.8,182.2L81.1,184.3L82.2,185.6L82.0,187.4L81.5,188.8L80.2,189.9L81.7,191.9L81.8,193.8L81.8,195.7L81.5,197.3L81.6,198.9L82.7,200.0L83.9,200.6L83.3,203.0L83.9,204.9L84.8,206.1L85.7,208.0L87.1,209.5L88.3,211.3L88.2,212.8L86.9,214.1L86.4,215.8L86.1,217.7L86.3,219.7L84.8,221.6L83.0,222.6L80.7,222.2L79.3,223.0L79.1,224.4L79.6,226.7L78.8,228.3L77.1,229.8L76.5,231.8L76.2,233.8L75.5,235.2L74.3,235.9L73.6,237.0L73.5,238.4L72.6,240.4L72.4,242.4L73.1,244.0L73.9,245.6L74.2,247.1L75.4,247.8L74.5,249.4L75.4,251.5L76.1,252.9L75.6,254.5L75.7,256.4L77.6,257.4L77.6,258.8L76.8,260.2L78.2,262.2L79.3,263.8L81.4,263.8L82.9,263.6L84.2,263.1L85.6,264.2L87.1,265.6L87.6,266.7L88.4,267.8L89.3,269.8L91.2,269.9L92.9,270.9L94.0,272.3L95.5,271.5L96.9,271.6L96.7,273.1L95.6,273.9L94.7,275.2L94.1,276.2L93.3,277.3L93.6,278.8L94.6,280.6L94.7,282.8L95.9,284.5L96.0,285.8L96.6,287.0L96.1,288.7L96.6,289.5L96.3,291.0L96.4,292.3L97.3,294.2L98.0,296.1L98.0,298.4L97.1,299.7L97.6,301.2L97.4,302.3L99.5,303.5L99.7,305.6L100.6,306.5L100.3,308.2L101.5,310.0L102.0,312.3L102.7,314.5L102.0,315.9L101.8,317.0L101.1,318.6L102.4,320.6L100.8,321.7L100.0,322.4L99.1,323.6L100.2,324.9L99.8,326.4L100.4,328.1L101.7,329.1L101.1,330.7L100.6,332.3L100.3,333.9L101.5,335.8L103.9,336.1L105.2,337.3L106.7,335.8L108.5,336.0L110.0,336.6L111.1,335.8L112.2,335.8L113.6,335.9L114.7,334.1L115.4,332.5L117.1,332.4L118.3,331.7L119.8,332.5L121.3,332.2L122.9,331.4L124.4,330.8L125.5,331.1L127.4,331.5L128.5,332.2L130.3,332.3L131.4,331.6L131.6,329.6L133.2,328.6L134.4,328.0L134.8,326.3L135.5,324.5L136.7,326.7L138.3,327.4L139.7,327.3L141.0,327.5L142.9,327.4L143.8,326.6L145.4,326.5L146.7,328.2L148.1,328.8L147.8,330.6L148.9,331.7L149.1,333.7L147.6,334.9L147.9,336.2L148.8,337.1L147.2,338.4L145.9,339.1L145.3,340.1L144.5,341.3L143.9,342.9L141.9,343.1L140.9,344.2L139.6,346.0L137.8,347.3L138.4,348.6L139.4,350.3L140.0,351.7L139.2,353.2L140.2,354.0L140.8,355.7L140.2,357.8L141.9,357.0L144.0,356.7L145.2,357.2L146.8,358.2L147.6,360.4L149.1,360.6L150.1,361.7L151.3,362.7L151.0,364.6L151.3,365.7L151.2,367.1L151.5,368.9L151.6,370.1L150.3,371.8L150.3,373.3L150.1,374.4L148.8,375.4L149.0,377.0L147.5,378.1L146.1,378.4L146.8,380.6L147.9,382.2L148.3,383.3L149.0,384.8L150.4,385.0L151.6,384.1L153.5,384.1L154.7,385.5L156.3,385.7L156.9,386.6L157.2,388.2L158.3,387.6L159.5,389.1L161.0,388.9L162.8,389.9L165.3,390.0L167.1,390.5L168.5,390.9L169.8,389.1L171.5,388.1L173.6,387.3L173.6,385.8L174.5,384.4L176.4,384.7L178.6,385.1L179.8,386.7L181.1,387.3L181.9,387.9L183.1,388.3L184.3,389.0L184.5,390.9L185.8,392.1L187.8,391.6L189.1,392.4L189.9,392.9L190.5,391.7L192.0,391.3L193.6,390.2L195.6,390.7L197.0,392.8L198.7,393.4L200.1,393.7L201.2,394.7L203.2,393.5L205.3,392.2L207.2,392.9L206.9,391.2L207.8,389.8L208.5,387.8L210.3,386.5L210.8,385.1L210.4,383.3L211.6,382.1L211.2,380.4L212.3,379.7L213.2,378.7L215.5,379.6L217.5,379.5L218.4,378.3L220.3,378.4L221.6,379.1L222.7,379.0L223.8,380.7L225.2,379.8L226.5,379.0L227.5,380.1L229.3,380.6L229.6,382.6L228.6,384.0L228.7,386.3L230.5,387.2L231.6,389.3L230.6,391.5L230.0,392.7L229.8,394.6L228.8,395.2L228.7,396.8L226.5,397.0L225.7,398.6L225.1,399.9L223.5,399.9L222.1,401.1L219.7,402.0L217.7,401.6L219.2,403.4L218.9,404.8L219.1,406.6L218.0,408.1L218.4,410.3L218.9,412.1L220.4,413.0L219.8,415.3L219.1,417.2L217.6,417.9L215.9,419.0L214.5,419.6L213.1,419.4L211.9,421.3L212.2,423.4L213.4,425.1L214.8,425.8L213.2,426.9L213.2,428.8L212.8,430.9L211.8,432.9L213.8,433.7L215.6,434.1L216.2,435.7L217.4,436.3L219.8,436.5L221.2,437.6L222.7,439.0L222.0,440.0L220.9,440.8L221.6,442.6L221.6,444.0L220.9,445.7L221.6,447.9L222.2,449.1L222.6,450.6L224.0,450.5L225.4,451.0L226.9,452.1L228.6,452.0L229.7,453.7L231.0,453.4L232.5,453.9L234.1,452.5L236.3,452.6L236.9,454.1L238.7,454.3L240.4,455.4L241.5,456.5L241.8,458.6L242.4,460.1L242.8,461.3L243.7,462.6L245.0,463.8L246.6,464.0L247.4,464.9L247.4,466.6L248.4,468.1L249.4,470.1L250.1,471.5L251.0,472.4L251.1,472.8L252.9,471.7L253.8,472.6L255.4,472.2L257.0,470.4L258.2,469.0L259.7,467.9L260.2,465.9L259.7,464.3L258.9,463.5L259.3,461.2L261.1,459.9L263.3,459.2L264.4,457.2L265.3,455.5L264.0,454.5L264.2,453.2L265.3,451.8L264.5,450.0L266.2,448.5L265.9,446.0L266.9,444.5L269.1,444.1L270.8,443.7L272.4,442.5L274.0,442.1L275.4,443.2L277.3,443.8L278.6,445.4L279.3,447.5L279.8,449.3L281.6,449.9L280.6,451.1L281.3,452.7L283.6,453.2L283.5,454.5L284.6,455.8L286.4,457.4L285.9,459.1L286.8,460.5L286.5,462.2L287.7,462.8L288.6,463.8L288.5,466.3L291.0,466.7L292.1,468.9L292.7,471.2L291.6,472.8L292.1,474.6L293.3,476.3L294.1,477.4L295.7,477.1L296.8,475.0L298.3,475.0L299.5,473.9L301.6,473.1L303.0,473.3L304.0,472.5L304.8,471.8L306.1,470.9L307.1,469.4L307.9,467.5L306.8,465.8L308.2,464.9L309.0,464.0L308.8,462.0L309.5,460.6L309.4,459.0L309.4,457.7L310.2,456.8L310.5,455.0L309.8,453.1L311.2,452.5L312.3,451.5L312.3,450.1L313.4,449.2L315.4,449.2L317.0,447.4L317.4,445.0L318.6,442.9L320.0,441.1L319.1,439.5L318.8,437.6L319.6,436.0L320.9,435.2L320.8,433.8L320.0,432.3L320.5,430.6L320.1,429.2L318.0,428.1L316.5,427.3L316.4,425.2L314.8,424.6L313.4,425.5L312.8,424.0L311.2,423.5L309.7,421.6L309.8,419.2L311.9,418.0L312.5,416.7L311.8,415.3L312.5,413.8L311.7,412.7L312.0,410.7L311.2,408.7L310.5,407.4L309.9,406.3L308.3,404.8L308.0,403.0L307.2,401.8L308.3,400.8L309.6,400.1L309.7,397.6L309.0,396.1L308.2,394.4L307.8,393.3L307.7,391.8L305.8,390.6L305.1,389.3L304.0,388.9L302.6,387.1L301.1,386.9L299.9,386.9L300.9,384.8L301.7,383.5L301.7,381.9L300.8,379.8L300.5,378.6L299.1,377.3L296.9,377.3L295.2,376.9L293.9,376.6L292.6,375.4L290.4,374.5L288.7,374.0L286.3,373.5L285.7,371.6L284.0,370.3L282.9,371.5L281.5,373.4L279.7,373.9L278.6,376.1L278.9,377.9L277.8,379.9L277.1,381.3L275.5,382.1L275.5,382.5L274.7,384.5L273.2,384.9L271.0,386.2L269.6,387.7L270.1,389.5L269.5,390.9L268.3,392.3L266.9,392.9L265.5,392.3L264.4,392.5L262.8,394.3L261.4,393.3L260.8,392.1L258.8,392.8L257.1,392.0L255.0,391.6L254.0,391.9L252.5,392.1L251.9,390.9L250.6,389.4L251.6,387.8L251.0,386.5L250.8,385.3L250.1,383.6L247.8,382.7L248.3,381.0L248.4,379.8L247.3,378.6L246.5,377.5L245.2,377.1L243.4,377.2L241.3,377.4L239.7,378.1L238.2,377.7L236.2,377.2L234.5,376.9L232.6,376.4L231.6,377.4L230.5,378.2L230.2,379.7L229.0,377.9L229.8,376.4L230.4,375.1L230.9,373.2L230.0,371.7L230.6,369.6L230.0,368.1L228.7,366.6L227.0,366.8L226.3,367.9L225.3,366.8L223.9,366.2L222.3,365.7L220.8,365.7L219.5,364.5L218.1,364.9L217.4,362.9L216.4,361.7L215.1,360.9L213.5,361.6L211.3,361.3L209.6,359.7L208.3,357.9L208.1,356.4L207.0,355.6L205.4,354.2L203.2,353.7L201.8,352.3L201.3,350.0L199.5,349.1L198.7,347.5L199.2,346.4L200.0,345.5L199.5,343.9L201.5,342.6L200.3,340.8L200.5,338.8L198.2,338.6L197.2,336.8L195.2,337.6L193.7,338.1L191.9,337.6L189.9,338.1L188.6,337.3L186.4,337.4L184.2,337.4L182.9,336.9L181.9,336.3L182.3,334.7L183.1,332.9L184.5,332.4L184.9,331.0L185.4,328.8L186.3,327.8L186.6,325.9L187.6,323.9L186.9,322.7L186.7,321.3L186.2,319.0L185.5,317.7L184.0,317.0L182.9,315.0L183.5,314.0L182.9,312.4L181.7,311.1L180.1,309.5L180.0,307.1L179.0,305.7L179.6,304.5L178.7,303.0L178.6,301.3L177.5,300.7L175.4,299.9L174.1,299.8L172.6,300.1L171.8,302.4L171.0,303.5L169.4,303.9L167.9,304.0L166.8,304.5L165.3,303.2L164.1,302.0L162.3,302.3L160.7,302.4L159.6,302.3L158.6,303.9L158.8,305.4L157.2,306.2L156.1,308.2L153.9,307.6L152.0,309.0L150.3,309.9L149.7,311.3L148.1,310.9L147.1,309.0L145.6,307.1L144.0,306.6L142.8,307.1L142.6,305.2L141.8,303.8L139.5,304.3L138.0,303.0L137.6,302.0L135.9,301.9L135.1,301.0L134.0,299.0L132.2,298.5L132.0,296.5L131.6,295.3L131.9,293.8L130.8,291.9L129.2,291.5L129.5,289.7L128.8,288.4L128.9,287.0L130.6,285.4L131.9,284.0L131.1,283.1L129.8,282.1L129.1,279.8L129.4,278.2L128.8,276.9L128.4,275.8L127.1,273.9L125.7,272.0L124.2,270.7L122.2,270.0L120.9,270.7L119.5,270.0L117.6,270.9L116.0,271.2L114.8,270.9L114.3,269.7L113.2,268.5L111.4,269.0L109.8,267.8L111.5,266.5L112.1,264.9L113.6,264.6L115.0,264.9L115.6,263.8L117.2,263.1L117.0,261.5L116.8,260.0L118.0,260.3L119.8,260.3L122.2,260.1L123.9,259.1L125.0,257.6L126.4,257.1L127.5,256.4L127.7,254.8L127.1,253.4L126.3,251.4L127.5,250.3L127.3,249.0L129.4,248.7L131.3,249.2L132.6,247.8L134.6,248.2L135.1,246.7L137.0,246.2L138.0,244.8L139.7,243.5L141.7,244.1L142.8,245.2L145.0,245.9L145.9,244.7L145.8,243.2L147.3,243.1L148.4,242.3L150.2,241.5L151.4,242.5L152.3,243.1L152.6,241.7L152.3,240.5L153.2,238.8L152.4,237.2L151.1,236.3L150.8,235.1L149.5,233.7L149.4,232.3L148.9,231.2L148.1,229.5L147.3,227.7L148.3,226.8L148.2,225.2L146.4,223.5L145.9,222.5L145.4,221.0L146.3,220.1L146.1,218.4L145.9,217.7L144.4,216.1L142.9,215.1L141.9,214.6L140.7,213.5L139.8,211.2L138.4,209.3L136.3,209.0L135.0,207.9L133.4,208.1L132.2,209.3L131.0,209.2L129.3,207.4L127.9,207.4L126.7,207.5L126.3,208.6L125.4,209.7L123.4,209.7L124.2,208.0L123.7,206.5L122.4,205.1L120.7,204.5L121.3,203.1L122.3,202.1L123.4,200.5L123.0,198.1L123.8,197.3L124.5,195.9L123.8,194.3L124.2,193.0L123.1,191.5L121.6,191.5L121.0,189.5L119.6,188.9L118.0,187.8L116.1,187.0L115.8,185.4L115.1,184.4L113.8,183.4L112.2,183.4L110.7,184.0L109.9,185.1L109.6,183.1L110.1,181.8L110.7,180.5L112.2,178.8L111.9,177.1L110.6,176.3L110.1,174.8L109.0,173.9L108.9,172.0L107.1,171.8L105.2,170.4L104.3,171.1L102.8,171.6L100.9,171.7L99.8,170.5L98.0,170.7L96.6,169.9L96.2,168.3L94.5,167.8L93.1,167.6L91.9,166.5L90.2,164.9L88.1,163.8L86.5,162.6L85.0,162.9L84.0,164.9L83.0,165.8L81.5,166.5L81.4,168.5L80.2,169.6L79.1,170.8L78.7,172.7L79.6,174.0L79.8,175.4L80.2,176.8L81.7,177.3L81.8,179.5ZM275.9,422.8L274.1,423.2L272.9,423.8L271.4,424.5L269.8,424.3L268.2,424.0L267.1,424.5L266.3,425.5L264.8,426.7L263.6,427.7L263.7,428.9L261.7,429.0L260.3,429.5L259.3,430.6L259.5,431.9L258.0,432.9L255.7,432.2L253.7,432.6L252.3,432.0L250.8,432.9L249.7,433.6L249.1,434.8L247.6,436.0L247.0,434.1L245.3,432.6L243.6,431.4L242.3,431.5L241.0,430.7L239.3,430.9L238.3,431.3L236.2,430.7L235.3,429.2L234.1,427.3L233.6,425.8L232.6,424.1L231.3,422.1L232.0,420.4L233.2,419.4L233.1,417.6L232.8,416.5L234.3,415.7L235.6,413.6L236.2,412.0L237.5,411.5L239.6,411.0L240.9,412.3L241.9,413.4L243.2,414.4L244.6,415.8L246.3,417.3L247.6,418.5L249.5,418.2L251.0,418.0L251.7,416.4L252.5,418.3L254.6,419.4L255.0,417.0L255.9,415.5L257.0,414.0L258.2,413.5L259.7,413.4L261.4,412.6L263.7,412.2L264.6,410.8L266.5,410.0L267.5,408.6L268.1,407.3L269.7,406.6L271.6,406.2L273.0,407.0L273.9,407.7L275.3,409.2L275.0,410.8L276.0,412.0L277.9,411.7L277.6,412.8L278.6,414.1L277.4,416.2L277.2,418.4L277.2,420.3L276.6,421.4L276.3,422.0ZM190.8,372.0L189.4,371.7L188.4,371.5L186.9,372.7L185.1,374.1L183.6,374.5L182.3,375.3L180.1,374.2L178.6,374.4L177.0,374.4L176.4,372.5L174.9,370.6L173.3,369.5L171.8,370.1L170.2,369.1L170.3,367.5L168.8,365.9L167.9,363.7L167.7,361.9L169.0,361.0L169.8,359.0L169.0,357.3L169.5,356.1L169.4,354.3L170.7,353.0L172.5,352.4L172.2,350.5L174.0,348.8L175.5,348.8L176.3,347.4L178.3,346.3L178.4,348.5L180.0,349.6L180.2,351.0L181.7,351.8L182.8,352.0L184.7,352.0L186.9,352.9L188.9,353.9L190.1,354.8L191.1,356.2L193.2,356.4L192.4,358.6L193.2,360.3L192.7,361.8L192.2,363.3L192.4,365.6L192.7,367.7L192.9,369.9L194.4,370.9L192.7,370.7ZM176.1,418.5L175.0,419.5L174.3,420.7L174.9,422.4L176.4,422.6L176.2,424.9L176.9,427.1L175.9,428.8L174.8,430.1L174.2,431.2L172.0,431.6L170.9,432.9L170.1,434.0L169.1,434.6L168.4,436.4L169.8,438.1L168.9,438.9L167.7,440.0L168.6,441.3L168.7,442.3L169.5,444.3L171.0,445.3L172.8,445.8L174.3,447.6L175.5,448.6L177.0,449.9L178.7,449.5L180.1,449.4L182.4,448.9L184.1,450.0L184.7,448.3L186.4,446.5L187.5,445.1L188.8,444.8L190.8,445.1L192.3,443.4L192.9,442.5L192.9,441.0L194.3,440.6L194.7,439.2L193.6,437.6L193.0,435.9L193.9,433.8L193.1,432.0L194.4,431.2L196.1,429.7L196.2,427.9L195.9,426.3L197.2,424.7L198.0,423.2L197.9,421.3L196.9,419.3L195.0,417.8L194.5,415.4L194.6,413.7L194.7,412.3L192.7,412.9L191.1,411.5L191.0,409.9L189.8,409.3L188.1,410.3L186.5,409.5L184.9,409.4L183.8,407.5L182.2,407.3L180.7,408.1L179.3,409.6L178.1,411.7L176.6,413.1L176.6,414.6L176.8,415.7L176.0,416.9ZM248.2,368.3L249.2,370.2L249.9,371.3L251.7,371.4L254.1,371.6L256.2,372.3L258.4,371.3L259.8,369.7L260.0,368.3L261.1,367.3L262.8,366.3L263.7,364.2L265.4,362.7L266.9,361.8L267.5,360.3L269.5,358.9L269.7,357.2L271.2,356.4L270.8,355.0L269.8,353.7L268.5,353.2L267.2,353.6L266.0,353.4L265.2,351.9L263.9,351.1L262.2,351.3L261.2,350.7L260.0,350.0L257.7,349.7L256.0,349.7L255.0,348.9L254.2,347.8L252.5,346.9L251.8,344.6L251.5,346.8L249.4,348.2L248.0,349.2L247.7,351.1L248.4,352.4L248.5,353.7L247.1,355.4L245.8,357.5L243.9,357.5L243.6,359.8L243.5,361.5L245.3,361.3L246.6,362.8L247.7,364.9L247.0,366.5ZM293.0,54.8L291.9,55.3L290.7,56.0L289.0,56.8L287.1,57.5L285.7,58.2L284.6,60.2L284.0,61.6L282.5,61.8L280.2,62.8L278.1,62.2L277.4,60.5L276.1,61.5L274.6,61.5L273.4,60.8L272.2,60.3L270.1,61.0L269.2,61.9L268.5,63.3L266.7,64.7L265.6,66.4L263.8,67.2L262.3,66.3L260.3,66.0L260.8,67.5L262.1,68.0L263.9,68.5L263.8,70.8L263.6,72.8L263.1,74.8L264.1,76.3L264.6,78.7L264.8,80.1L264.2,81.7L263.7,83.7L263.4,85.4L265.3,86.5L265.2,88.3L265.2,90.0L265.2,91.7L265.8,92.3L267.7,93.1L268.1,95.1L268.5,96.9L268.1,98.6L266.9,99.1L267.1,100.7L267.9,101.8L267.9,103.3L268.1,104.4L267.3,105.3L267.1,106.8L268.4,108.6L267.7,110.1L268.4,111.5L269.7,112.5L271.4,113.3L271.2,114.6L271.9,116.1L271.9,117.2L272.8,118.5L274.6,119.1L276.0,119.1L277.9,117.6L278.9,115.7L279.2,114.1L280.9,113.0L282.8,113.4L284.5,112.1L285.9,112.4L287.2,110.9L286.9,109.0L286.8,107.3L286.5,105.0L285.1,104.3L283.5,103.4L283.1,100.9L282.9,98.6L283.2,97.3L284.6,95.9L284.1,94.2L282.7,92.2L281.2,91.2L280.4,88.9L280.9,87.2L281.6,84.8L282.6,83.6L284.0,82.8L284.9,80.6L285.7,79.2L285.1,78.2L285.6,78.8L287.2,79.2L287.6,80.6L288.9,81.5L290.1,82.5L291.8,81.9L293.3,83.2L294.8,82.8L296.1,83.6L297.3,83.6L298.8,84.3L299.2,85.9L300.4,87.2L302.7,86.5L304.7,87.2L306.2,87.4L308.5,88.5L308.5,90.1L309.4,91.1L310.0,92.3L310.1,93.9L312.0,95.2L312.2,96.9L312.0,98.6L310.0,99.6L309.2,101.2L308.6,103.3L308.2,104.8L307.0,106.6L307.6,108.8L308.8,110.5L309.5,112.0L310.2,113.1L311.4,114.1L311.5,115.4L311.2,116.9L312.6,117.7L313.0,119.2L311.4,119.1L310.5,120.4L309.4,121.9L308.7,123.9L307.9,125.5L308.0,127.4L306.9,129.1L307.0,130.4L305.6,131.4L304.3,133.1L302.7,132.6L301.8,131.8L299.9,130.7L298.2,131.1L296.1,131.9L295.1,132.4L293.0,132.4L290.8,132.1L288.5,131.6L286.9,130.6L285.9,129.7L283.5,129.3L282.0,131.0L280.1,130.1L277.7,130.7L276.2,131.8L275.8,133.4L274.9,134.7L273.5,135.1L272.6,136.5L272.2,138.5L272.2,140.1L272.5,141.2L273.3,143.1L273.0,145.0L272.7,146.2L273.5,147.7L274.7,149.3L276.9,149.8L277.8,151.4L278.3,152.6L279.9,153.0L280.5,154.9L282.0,156.0L283.2,157.0L284.3,156.8L285.5,158.4L287.4,159.0L289.5,159.7L291.1,160.5L291.5,161.7L292.3,162.9L294.4,163.4L295.9,163.3L296.5,162.0L297.1,160.6L297.0,159.0L298.1,158.7L299.1,157.4L300.2,156.0L301.8,155.4L303.9,154.6L304.5,153.1L305.4,152.3L304.8,150.4L303.8,149.0L304.6,147.0L305.9,146.9L306.7,145.4L306.1,143.4L306.4,141.9L305.7,140.3L305.2,138.0L305.7,136.5L306.6,135.8L308.2,136.8L309.7,136.0L310.8,137.0L312.2,136.6L313.3,138.5L314.9,139.0L317.0,139.9L318.5,139.6L318.6,141.1L320.1,141.9L321.8,142.8L322.6,145.1L321.6,147.2L321.9,149.3L320.8,151.1L320.5,153.2L320.9,155.4L321.9,155.2L323.4,155.9L324.7,156.6L325.6,158.4L324.9,159.9L326.0,161.4L325.0,162.8L324.1,164.7L323.4,166.9L323.4,168.4L322.3,169.5L321.8,170.7L323.6,172.4L323.5,174.3L325.4,175.1L327.1,175.1L328.8,175.0L330.1,176.2L331.4,175.8L333.2,176.3L333.4,174.6L334.9,172.6L334.6,171.5L335.3,170.1L336.6,168.3L338.2,167.9L338.6,166.5L338.4,164.3L338.8,163.3L339.0,161.7L340.6,160.3L342.5,160.6L344.0,161.7L345.9,162.2L347.5,163.1L348.1,165.3L350.3,165.8L352.1,166.8L354.0,166.0L355.6,165.6L357.8,166.0L358.3,166.3L357.5,168.1L358.6,169.9L358.0,171.6L358.1,173.5L359.5,174.6L359.3,176.6L361.0,177.4L361.3,179.2L362.8,179.3L364.3,179.5L365.2,180.4L365.5,181.8L366.8,180.9L368.9,180.8L370.0,182.1L370.4,183.3L370.9,185.4L370.3,186.8L370.8,188.1L371.2,189.7L372.4,190.8L373.9,190.8L375.9,191.3L377.4,190.7L378.3,189.7L379.8,189.6L381.7,189.5L383.7,188.5L385.6,188.6L387.2,188.6L387.3,190.9L389.1,192.2L388.9,193.4L389.0,194.9L389.3,197.4L390.4,199.3L391.3,200.0L392.9,200.3L394.1,201.4L396.1,200.7L397.5,200.2L398.4,199.4L400.4,200.0L401.8,201.2L403.7,201.5L405.6,200.3L407.3,200.1L406.7,198.1L407.3,196.2L409.5,195.1L410.5,193.8L412.1,191.9L412.7,190.3L411.5,189.9L411.0,188.4L410.3,186.0L412.0,185.8L414.2,185.5L415.2,184.5L416.7,184.0L418.8,183.9L420.6,183.9L422.9,184.6L424.8,185.5L426.2,186.0L427.9,186.0L427.6,187.8L427.5,189.6L428.9,190.9L429.5,192.5L431.0,193.2L432.4,192.8L433.6,194.5L434.0,196.9L434.9,199.1L435.8,200.8L436.5,202.3L437.1,203.4L439.0,204.5L440.2,203.3L441.7,203.6L443.8,203.6L445.1,202.3L446.3,202.5L448.0,202.5L449.5,202.5L450.8,203.5L451.9,203.7L453.2,204.4L455.1,204.9L456.5,206.9L457.6,205.8L458.8,204.7L460.1,203.9L460.5,202.2L461.3,200.9L463.1,200.1L464.5,200.2L465.8,201.3L467.1,200.3L468.7,200.7L470.0,199.5L470.0,197.9L471.1,196.3L472.2,195.4L472.8,194.3L474.0,195.5L475.6,195.0L475.6,196.5L476.4,198.0L478.3,197.9L480.0,196.9L481.4,195.1L481.8,193.1L483.3,192.0L484.9,192.7L485.9,191.2L487.3,191.2L489.4,191.1L490.8,189.8L491.0,187.8L492.9,188.5L495.2,187.6L497.6,187.4L499.1,186.7L500.6,187.9L503.0,188.6L504.6,189.4L506.5,190.0L508.2,190.6L509.9,190.0L511.6,191.7L512.0,193.0L513.4,194.1L514.9,194.6L515.4,195.7L514.8,197.1L514.9,198.7L516.6,198.7L517.3,199.7L518.5,200.9L519.7,201.3L519.9,203.0L520.5,204.3L521.9,204.3L523.0,205.0L525.2,204.5L525.9,202.7L528.1,202.7L529.3,201.4L530.2,200.1L531.2,198.5L532.6,197.1L533.5,195.2L532.4,193.5L531.8,191.9L532.1,190.6L531.6,189.3L533.5,188.0L534.7,186.9L536.0,186.5L536.3,184.4L535.8,182.9L536.5,181.8L538.0,181.7L538.2,179.8L538.3,177.4L539.0,176.0L540.7,175.2L542.6,174.1L543.7,172.7L545.2,173.0L546.1,173.7L547.3,173.9L548.7,174.0L550.7,174.8L552.7,173.4L553.7,174.9L554.8,176.1L556.5,177.2L556.5,179.3L555.0,180.1L554.8,182.3L556.9,182.7L558.1,184.2L558.4,185.9L559.1,187.4L558.5,189.0L559.6,190.9L559.9,192.3L560.1,194.1L559.3,196.0L559.9,198.0L560.3,199.3L561.5,200.4L560.5,202.0L561.1,203.7L562.8,204.0L563.7,205.0L564.9,205.9L566.3,205.9L568.4,206.4L569.9,206.7L571.4,208.5L572.6,209.5L572.8,211.4L573.8,212.1L574.9,213.1L575.3,214.3L576.9,214.6L577.8,215.4L579.0,216.2L581.1,216.6L582.5,216.5L583.5,217.7L585.6,217.2L587.8,216.8L589.3,216.0L591.0,215.7L592.3,215.7L593.6,215.1L595.2,216.6L597.4,216.7L598.8,215.6L599.8,216.4L601.3,216.1L602.6,215.0L604.1,213.3L605.8,212.7L607.1,212.4L608.5,212.2L610.3,211.5L612.3,211.7L611.8,209.8L612.3,208.8L613.6,207.9L613.9,205.9L612.4,204.3L611.6,202.3L610.6,200.7L611.5,198.4L611.1,197.1L611.4,195.7L611.9,194.1L610.8,192.7L609.0,192.1L608.1,190.0L607.8,188.2L606.4,186.4L604.5,186.5L603.4,185.6L601.7,184.8L600.6,183.4L600.6,182.1L599.3,181.0L599.1,179.4L600.1,178.4L601.0,176.3L600.3,174.9L601.9,174.4L602.5,173.0L601.1,171.6L600.5,169.2L600.9,167.8L601.5,166.3L602.6,164.7L602.3,163.2L600.1,162.5L599.7,160.7L598.0,159.1L598.1,156.7L597.0,155.8L596.3,154.9L596.8,152.7L595.9,150.4L594.5,150.4L592.8,149.8L590.9,148.4L588.6,148.5L588.2,150.4L587.1,151.5L585.5,151.4L583.3,151.1L581.8,150.5L580.8,151.9L579.2,152.1L577.8,152.5L576.1,151.7L573.7,151.0L572.1,151.5L570.7,151.4L569.1,151.2L568.3,152.3L567.3,151.2L566.6,149.7L564.8,150.5L563.3,149.5L562.2,149.3L560.7,148.7L559.7,146.5L558.3,147.5L556.6,147.2L555.2,146.2L553.1,147.1L551.3,148.1L549.7,147.2L549.7,148.6L548.3,149.7L546.2,150.1L545.3,151.4L543.7,151.9L542.1,151.9L540.9,152.3L539.7,152.4L538.2,152.1L537.0,152.8L537.5,154.4L535.9,156.0L536.2,157.6L535.7,159.7L536.8,161.1L536.3,163.3L537.2,165.1L537.4,166.6L539.0,167.3L537.3,166.6L536.1,166.4L535.3,168.1L533.0,168.4L531.1,169.3L531.0,171.1L529.2,171.6L526.9,170.7L524.8,171.0L522.7,169.8L521.9,171.3L519.7,171.5L517.3,172.0L516.8,173.7L515.1,173.9L514.0,174.3L513.7,172.5L513.4,170.5L511.4,170.1L510.0,168.4L508.4,168.7L507.3,168.3L506.3,166.3L506.7,164.4L505.3,163.1L505.3,162.9L507.1,162.9L508.1,161.5L509.3,159.7L509.6,157.6L510.3,155.7L512.5,155.3L512.8,153.2L513.3,151.6L512.2,149.5L511.1,148.0L511.4,146.5L510.9,145.1L512.1,143.4L511.6,141.7L512.3,139.7L511.1,138.9L510.9,137.3L509.3,136.3L508.5,135.5L507.4,134.5L505.9,134.3L504.9,133.6L503.3,133.0L502.9,131.9L502.8,130.2L502.4,129.1L501.7,127.5L499.7,126.4L499.1,124.0L498.4,122.2L498.7,120.9L499.0,119.1L497.4,118.6L497.0,116.9L497.0,114.7L497.4,113.0L498.4,111.7L499.7,111.6L500.3,109.8L499.7,108.8L499.3,107.3L498.8,105.2L496.5,104.2L495.3,103.6L494.0,102.8L492.8,102.8L491.2,102.5L489.4,104.0L487.9,105.2L485.6,105.1L484.3,104.0L483.5,103.2L481.4,102.2L480.2,103.5L478.8,103.5L477.0,104.4L477.2,106.2L476.4,107.5L478.3,108.8L478.8,110.2L478.3,111.5L477.8,112.9L478.5,114.1L477.3,114.9L477.5,116.6L478.1,118.4L478.8,120.0L479.4,121.3L480.1,123.3L480.2,124.9L479.7,126.2L479.7,128.2L478.1,129.4L478.2,131.8L477.4,133.0L477.0,135.0L477.3,135.4L477.0,137.7L478.5,139.1L476.8,140.2L477.3,141.4L476.2,142.9L474.5,144.6L473.1,145.5L472.0,146.8L472.4,148.5L472.7,150.0L473.4,151.0L472.3,152.0L470.3,151.5L469.5,153.1L467.9,153.2L465.5,153.2L464.0,153.3L463.0,152.9L461.4,153.4L460.2,153.0L458.8,152.2L457.7,151.5L456.6,152.1L455.2,151.6L454.4,152.8L453.0,154.0L452.3,152.5L451.1,152.0L450.0,152.7L448.6,152.1L446.7,152.5L445.2,151.0L443.5,150.2L442.1,150.4L441.4,149.6L440.6,148.2L439.2,147.4L438.4,146.2L438.2,144.8L438.0,143.3L438.5,141.6L438.6,140.1L437.1,138.8L437.9,137.4L437.3,136.2L436.2,135.0L436.1,133.0L437.1,131.8L438.0,130.8L437.8,129.3L436.3,128.5L434.6,127.5L432.9,127.9L431.7,126.3L430.2,126.9L428.9,126.2L426.9,127.3L424.5,127.4L423.5,125.8L422.0,126.5L420.3,126.7L419.1,126.1L417.0,125.9L415.0,125.2L413.6,125.5L413.2,124.4L412.8,122.7L411.8,121.5L409.9,121.2L409.8,119.1L408.1,117.5L409.8,116.5L410.1,114.4L408.4,112.8L408.4,110.9L407.9,109.4L407.2,108.1L407.4,106.2L407.9,104.1L408.4,102.7L408.3,101.5L409.1,100.1L408.3,98.8L406.1,98.4L404.6,99.2L403.4,99.3L402.6,97.4L401.6,96.9L400.1,96.4L398.2,95.1L397.5,93.7L396.9,92.4L395.4,93.2L394.2,93.5L392.3,92.4L391.4,93.4L389.5,93.7L387.5,93.7L385.5,94.2L383.8,95.1L382.6,94.8L381.3,94.0L379.8,94.7L378.8,96.6L377.4,97.8L375.5,98.0L373.4,97.7L372.0,98.3L370.9,99.4L369.5,99.4L368.5,98.0L366.4,98.3L366.4,100.4L367.9,102.2L368.8,102.9L369.6,104.5L371.1,106.3L371.0,108.4L372.5,108.6L373.3,110.2L372.8,112.3L373.8,113.1L373.5,114.7L374.6,115.9L375.4,117.2L375.1,118.8L376.1,120.3L377.9,121.0L379.0,122.5L379.4,124.1L379.2,125.3L378.3,126.6L378.9,128.1L379.6,129.7L380.0,131.0L381.6,131.6L382.0,133.5L383.5,133.6L384.7,134.1L386.2,133.5L388.3,134.3L390.4,134.4L391.4,136.2L393.4,136.6L394.4,138.6L396.0,137.8L397.3,137.4L399.1,138.8L399.3,140.6L400.4,141.7L401.2,143.5L400.1,145.6L399.1,147.2L397.2,147.9L396.1,148.7L394.9,149.2L393.4,149.5L392.4,149.0L391.5,150.7L390.0,150.8L389.7,153.0L388.1,153.7L386.9,153.1L385.5,153.9L383.5,154.0L382.1,154.0L381.8,152.7L380.3,152.2L379.2,154.2L380.1,155.7L379.2,157.3L378.0,157.8L375.9,156.5L374.9,155.7L373.7,154.5L372.1,154.5L370.5,153.5L369.9,152.0L368.6,151.8L367.3,151.5L365.5,151.4L364.0,150.0L362.8,148.6L361.2,148.0L360.2,146.1L358.2,144.7L357.6,146.1L356.4,146.9L355.3,148.5L353.7,148.6L352.4,148.1L351.1,148.9L349.3,148.5L346.8,148.8L345.2,147.0L343.7,147.4L342.3,147.9L341.1,148.8L340.8,150.0L340.0,148.9L339.2,147.4L338.0,145.7L338.2,143.7L339.5,142.8L339.6,141.1L339.0,140.0L338.0,138.9L337.6,137.1L338.0,135.6L338.6,134.1L339.7,133.3L341.3,132.1L343.1,130.5L343.3,129.0L343.3,127.8L343.5,126.4L343.2,124.9L342.5,123.9L340.8,123.4L341.5,122.5L342.3,121.2L344.3,119.8L344.9,118.6L345.4,117.5L344.9,116.1L344.0,115.1L343.7,113.4L343.6,111.5L344.4,109.4L345.8,109.1L346.9,108.2L346.7,105.9L347.9,103.7L349.4,102.2L351.5,101.7L352.8,100.0L353.5,97.9L353.4,96.0L354.4,94.7L353.1,93.9L352.0,93.3L350.2,92.8L348.7,91.4L346.4,91.6L346.0,90.2L344.5,89.7L344.8,87.6L344.4,85.8L343.6,84.4L342.8,82.9L340.8,82.4L339.6,81.4L339.6,79.6L337.5,79.0L336.1,78.4L334.8,77.3L334.6,75.1L335.0,73.3L334.5,71.9L332.9,70.4L330.7,70.2L329.3,69.6L328.0,70.0L326.5,68.9L324.9,68.0L323.5,67.8L323.6,66.2L323.0,65.0L322.2,63.9L321.0,63.4L319.1,63.7L317.5,62.4L317.4,61.3L317.1,59.9L316.0,58.1L314.4,59.9L312.6,59.2L311.0,60.2L309.8,58.9L308.7,58.4L307.1,58.1L305.2,58.4L303.7,56.8L302.9,55.4L301.1,55.5L299.8,55.6L297.8,56.1L296.5,55.4L294.9,55.7ZM312.7,343.0L311.2,344.8L312.9,345.6L313.6,346.5L314.4,347.8L314.3,350.3L315.9,351.6L315.7,353.2L316.9,355.3L316.0,357.6L315.3,359.4L313.6,360.3L312.1,361.5L311.7,363.8L311.4,365.3L310.1,366.7L311.4,367.5L311.4,369.1L312.2,371.0L313.7,370.8L315.2,370.2L316.1,371.7L318.0,372.7L320.2,373.6L321.8,372.3L323.4,373.3L324.8,373.6L325.9,372.9L327.0,372.2L328.0,371.5L329.2,371.0L330.8,371.8L332.2,372.9L334.4,371.9L334.7,370.1L335.4,369.1L335.1,367.2L336.0,366.2L334.5,365.7L334.1,364.6L333.2,362.8L333.6,361.1L333.0,360.2L332.4,358.8L332.1,357.4L331.7,356.3L333.2,354.6L334.7,352.6L335.0,350.4L336.2,348.7L337.1,347.8L338.5,346.7L339.0,345.1L339.6,343.5L340.0,342.2L338.8,340.9L340.4,341.2L341.9,341.8L343.9,343.1L345.8,344.5L347.5,343.7L348.0,345.4L349.0,346.8L348.4,349.1L349.5,350.4L349.7,351.8L351.9,352.2L353.1,353.8L354.8,353.1L356.6,354.6L357.7,355.7L359.1,355.5L360.8,355.8L362.2,355.0L364.1,353.5L366.2,352.8L367.5,353.7L368.5,354.0L370.2,354.4L370.6,355.7L372.2,356.6L373.7,358.4L375.3,358.3L377.1,356.8L378.6,356.7L380.1,357.9L380.2,356.3L381.9,355.1L383.1,355.2L384.0,353.8L385.2,354.0L385.6,356.0L386.8,356.4L388.1,357.5L389.7,358.7L390.5,359.8L390.8,361.2L391.2,362.4L392.8,363.3L394.0,362.5L396.2,363.2L398.2,362.6L399.8,363.1L401.0,362.3L402.2,363.9L403.3,365.0L403.8,363.5L405.1,362.6L406.7,363.2L408.1,362.1L408.8,359.8L408.1,357.9L408.5,356.2L409.0,355.1L410.3,354.6L412.2,354.4L413.1,353.9L414.5,353.2L415.4,354.4L417.5,354.1L417.3,352.7L417.8,351.5L418.8,349.6L418.0,348.2L416.9,346.4L417.6,344.7L416.7,343.5L415.4,342.9L413.4,343.1L411.7,341.5L410.4,340.9L410.0,339.1L409.0,338.5L408.1,337.2L407.0,335.7L405.7,335.5L404.5,335.8L403.0,336.4L400.8,336.5L399.0,336.6L398.1,337.5L396.7,338.1L395.7,338.2L394.2,338.4L393.2,337.1L392.3,336.3L390.9,336.0L389.7,336.6L388.2,337.4L387.3,338.0L385.0,338.0L384.0,336.5L382.9,335.7L380.6,336.6L379.1,335.7L378.6,334.7L379.6,332.9L380.6,331.9L380.4,330.7L381.1,329.2L383.0,327.8L384.4,327.6L385.8,327.2L386.8,326.1L387.9,324.6L389.2,323.4L388.9,322.0L388.3,320.8L389.0,319.5L391.0,318.2L389.4,318.7L387.1,318.1L385.7,317.7L383.9,318.3L382.5,316.2L380.6,315.3L379.1,313.4L377.5,313.4L376.5,311.8L376.8,309.7L375.6,309.0L375.5,307.4L373.9,307.1L372.7,307.9L371.4,306.3L370.2,307.1L368.4,307.5L367.8,309.8L365.8,311.3L364.4,310.4L362.3,311.4L360.8,312.8L358.6,313.8L357.2,314.4L355.8,313.6L354.7,314.2L352.9,314.4L352.4,316.7L350.6,318.2L350.9,319.6L349.6,320.7L349.8,323.1L349.6,325.2L350.7,326.6L349.5,326.9L348.7,328.3L348.6,330.1L347.2,330.8L346.2,331.2L345.6,333.5L344.3,334.0L343.1,334.5L342.6,336.0L342.3,337.6L341.0,338.2L339.8,338.6L338.1,339.3L336.6,338.5L335.6,337.2L334.8,335.9L334.4,333.7L334.7,332.0L333.2,330.3L333.0,329.0L331.8,328.2L329.9,328.2L329.0,326.5L327.0,325.9L325.8,325.0L324.0,325.3L322.0,326.0L320.8,326.7L319.5,326.8L318.6,328.5L316.5,328.2L315.2,328.9L314.6,330.2L312.8,329.9L311.3,329.1L311.3,331.2L313.1,332.7L312.4,334.5L311.9,336.2L312.4,337.4L313.5,338.8L312.6,340.9ZM344.4,453.1L345.5,454.5L344.7,456.6L346.6,456.8L348.1,458.0L349.5,458.4L350.3,459.4L352.6,459.2L354.0,457.8L353.9,455.6L355.2,455.3L355.6,453.7L357.2,453.1L357.6,451.9L358.7,451.1L359.8,449.8L361.4,449.9L363.0,448.5L364.9,448.3L366.5,448.3L366.7,447.6L365.1,446.4L365.0,444.8L365.3,443.1L364.4,442.0L363.1,441.1L362.3,439.1L361.0,438.7L360.0,437.8L358.2,438.6L356.5,438.1L355.0,439.0L353.5,437.2L352.8,438.5L351.3,438.7L349.7,438.9L348.1,440.4L348.6,442.6L347.3,443.2L347.0,444.9L346.4,447.1L344.9,448.1L345.6,449.4L344.1,450.9ZM475.4,290.2L474.3,291.2L472.9,291.5L473.1,292.6L472.3,293.9L471.2,295.1L469.8,296.3L468.0,296.7L466.4,296.7L467.3,298.0L467.3,299.3L469.1,300.0L470.1,300.8L471.3,300.6L472.6,299.9L473.7,300.9L474.5,301.8L475.0,303.8L476.1,305.9L475.4,308.0L475.7,309.9L475.5,311.6L475.8,312.7L476.1,314.1L477.1,315.9L477.9,318.0L478.6,318.9L480.2,319.4L481.6,319.5L483.4,320.2L485.8,320.4L486.8,319.4L487.5,318.5L489.0,318.1L490.1,318.6L490.6,319.6L491.5,320.8L493.2,322.3L495.0,322.5L496.2,321.7L496.8,320.3L498.1,318.8L498.6,317.2L500.2,316.1L500.1,314.8L500.8,313.3L502.3,312.2L503.1,311.0L504.0,309.9L503.8,308.4L502.8,306.4L501.6,305.0L500.5,303.8L500.3,302.5L500.2,301.0L500.0,299.9L500.7,298.5L500.8,296.0L498.9,296.1L497.9,294.8L496.7,294.8L496.8,293.3L497.3,292.1L496.4,290.5L495.0,289.6L493.4,289.2L491.7,288.5L491.0,287.6L489.7,286.7L488.3,285.4L486.9,285.5L486.1,284.1L484.6,283.4L483.4,284.2L482.4,282.6L481.7,281.4L480.0,281.7L478.3,281.4L477.2,283.4L476.4,285.1L477.0,286.3L476.8,287.8L475.5,289.0ZM460.7,351.0L462.7,350.2L464.3,350.7L465.7,351.7L467.3,351.4L468.4,352.5L469.9,353.5L471.6,352.6L472.3,353.6L473.3,354.5L472.5,356.3L473.4,358.1L472.9,359.8L471.2,360.8L472.5,362.1L472.2,363.6L473.5,365.7L473.1,367.1L472.0,368.5L472.9,369.6L472.7,371.1L473.8,372.1L474.2,373.2L476.6,373.3L477.8,375.5L479.7,375.2L481.2,374.9L482.7,374.6L484.2,374.3L486.3,374.9L488.5,374.5L490.4,373.8L491.8,373.5L491.9,372.0L490.4,370.8L490.5,369.5L490.6,367.7L491.0,365.3L490.9,363.4L490.6,361.3L491.9,360.4L491.5,359.2L490.7,358.1L492.1,357.8L493.3,356.9L493.9,355.6L493.6,354.2L494.1,352.0L492.5,350.7L490.1,350.0L488.2,349.8L488.0,348.2L487.2,347.5L487.0,345.6L486.0,344.5L484.2,344.3L481.9,345.2L480.6,345.3L479.6,346.3L477.9,345.6L478.0,344.1L478.9,342.5L478.4,341.2L477.1,340.0L477.4,338.2L476.4,336.4L474.9,335.1L472.5,335.3L471.6,334.4L470.4,333.5L470.1,331.2L469.4,330.2L469.6,328.6L468.6,327.1L466.2,326.9L464.4,326.7L463.8,328.8L464.0,330.7L462.9,331.6L462.5,333.3L460.7,334.6L460.7,336.2L459.3,337.0L459.3,339.0L457.1,339.4L455.4,341.2L457.2,342.0L457.5,343.4L458.7,344.0L459.6,345.3L459.2,347.6L460.0,348.8L459.4,350.2ZM585.2,338.1L583.6,338.1L581.3,337.7L579.7,338.1L578.7,339.6L577.5,340.7L576.4,342.0L574.7,341.0L573.2,341.3L570.9,342.3L571.1,343.8L570.2,345.7L569.8,347.0L568.4,347.6L567.4,348.3L566.1,349.6L565.4,350.6L565.6,352.4L564.3,353.9L563.1,355.3L561.7,356.0L561.4,357.2L560.3,357.6L558.8,358.5L557.7,360.7L556.5,362.0L555.0,361.6L553.2,362.1L551.9,363.6L552.5,365.3L551.4,366.1L549.6,366.8L550.1,368.5L549.0,370.1L550.2,371.7L550.8,373.2L552.8,373.5L554.0,373.8L555.6,373.4L557.6,373.4L559.7,374.4L562.0,374.9L562.9,375.9L564.7,376.1L566.7,376.5L567.8,377.4L569.7,378.7L570.9,376.6L572.8,376.3L574.1,375.3L574.0,374.0L574.8,372.0L577.1,371.0L579.2,372.3L580.9,371.5L582.9,372.0L584.2,373.3L585.8,373.2L586.6,371.9L588.4,372.1L590.3,371.5L591.9,372.1L593.1,373.5L594.3,374.2L596.0,373.8L597.2,371.9L598.7,370.7L600.3,369.5L602.0,369.9L602.9,371.5L605.2,371.5L604.9,369.5L605.2,367.3L604.3,365.6L603.0,365.0L603.8,363.0L605.2,362.2L605.1,361.1L605.4,359.6L606.0,357.6L605.3,355.7L607.0,355.2L607.5,353.5L607.4,351.9L606.1,351.0L606.3,348.7L606.4,346.8L605.9,345.3L605.6,344.1L604.3,342.8L602.4,343.0L601.4,341.9L601.2,340.3L600.2,338.6L598.4,339.3L597.1,338.6L596.0,339.0L595.0,337.9L593.5,337.4L592.3,337.5L590.9,337.6L589.1,336.6L587.9,337.1L587.1,338.6Z" fill="#0485e4" fill-rule="evenodd" stroke="#0485e4" stroke-width="0.4"/>
<path d="M237.6,176.3L237.4,174.6L236.2,173.2L235.3,172.1L233.5,172.6L231.9,173.0L229.9,174.5L228.4,174.7L226.9,174.2L226.0,175.6L225.0,177.0L223.8,177.9L223.2,179.6L222.8,181.5L223.8,182.6L222.3,183.9L221.1,185.2L221.6,186.5L219.5,185.8L218.0,186.0L216.9,186.9L215.8,187.8L214.4,189.3L215.2,191.3L214.2,193.4L212.1,194.5L212.6,195.9L212.0,197.8L212.3,199.6L213.5,200.4L214.2,201.6L215.7,202.8L216.7,204.9L218.4,204.9L219.4,206.1L220.9,206.1L221.1,207.5L220.1,209.5L220.5,211.3L219.5,212.1L219.0,213.4L217.9,214.5L216.5,214.6L215.7,215.7L214.4,216.2L213.9,217.8L212.1,218.3L210.7,219.0L208.7,219.0L207.4,219.7L207.4,221.5L207.9,223.6L207.9,225.4L207.4,226.6L207.2,228.9L208.6,229.7L209.4,231.0L210.8,231.1L212.1,231.7L214.3,231.5L216.6,232.2L217.6,233.2L218.7,233.7L220.4,234.7L221.7,235.4L223.7,236.8L225.2,238.5L224.5,236.9L224.5,235.5L226.0,234.0L227.3,232.9L226.9,231.0L227.7,229.4L229.3,229.3L229.9,227.8L231.4,227.5L233.0,226.7L234.9,227.5L236.5,227.5L237.9,228.0L239.2,227.5L240.5,226.9L241.8,226.0L242.7,225.5L245.2,225.7L246.5,225.1L248.1,225.8L249.8,226.3L250.3,225.9L251.1,226.0L252.4,227.1L254.2,227.5L255.2,226.6L255.9,225.4L257.2,224.1L257.0,222.2L257.7,220.7L256.3,219.7L255.2,218.1L256.0,216.8L255.9,215.1L257.7,213.8L259.2,213.0L259.8,211.9L260.3,210.4L259.8,209.2L259.2,207.6L260.2,206.4L260.6,204.1L259.9,203.5L258.7,201.3L259.2,200.1L259.5,198.7L258.6,197.8L257.8,196.6L258.7,194.5L258.2,192.2L258.7,190.5L258.1,188.8L258.2,187.3L256.5,185.6L254.9,184.9L253.3,185.3L251.2,186.4L249.9,186.9L248.6,187.5L246.5,188.4L245.5,187.3L244.4,186.8L242.9,186.9L241.5,186.4L239.2,186.0L238.2,183.9L237.7,182.5L237.4,180.8L237.2,179.5L238.2,178.0ZM270.7,242.2L269.8,242.5L269.8,242.5ZM239.3,298.7L238.0,299.3L236.2,298.8L235.1,299.9L233.9,299.9L232.1,300.1L230.4,300.5L230.5,302.8L230.1,304.2L229.2,305.3L228.0,306.3L228.2,308.2L229.7,309.1L230.1,310.4L230.0,312.1L228.5,313.6L229.0,314.7L229.9,316.1L230.5,317.1L230.4,318.8L232.2,319.2L233.8,320.8L234.3,321.3L234.6,322.1L235.9,321.6L236.1,321.6L237.2,320.8L236.1,321.6L237.8,322.3L238.6,323.5L240.0,325.2L241.3,325.4L243.1,324.9L245.4,325.9L246.7,327.0L248.0,327.2L250.0,326.3L251.5,325.5L252.7,324.1L254.3,325.0L255.7,324.9L255.3,322.7L256.5,321.4L256.6,319.7L256.4,318.5L257.2,316.6L258.8,315.3L259.7,314.2L260.6,312.4L261.8,310.9L263.2,309.3L264.5,310.1L266.4,309.5L266.8,307.7L267.0,306.5L266.4,304.3L265.9,302.0L263.7,301.7L263.1,300.2L263.1,300.0L263.2,298.9L263.3,297.4L262.1,296.2L261.5,294.8L260.6,293.2L261.3,291.0L260.1,290.0L258.6,289.5L257.2,291.3L254.8,291.3L253.7,292.6L252.1,292.6L250.5,293.4L248.9,294.3L247.2,294.8L246.2,295.3L244.6,293.8L244.4,295.6L243.2,296.3L242.6,298.5L241.1,298.6ZM135.5,363.1L133.8,364.5L133.7,366.3L132.6,367.6L131.9,368.7L130.6,369.1L128.8,370.9L127.6,371.5L126.4,372.9L125.3,373.9L124.0,374.0L123.1,375.6L120.9,375.7L119.3,376.6L117.2,376.7L117.8,378.3L117.1,379.4L116.9,380.6L117.3,382.1L116.9,384.1L117.5,385.7L117.4,387.0L116.0,387.6L115.3,389.1L115.7,391.1L115.4,393.0L113.9,394.4L111.7,395.2L111.1,397.0L110.7,398.7L110.0,400.7L109.8,402.2L108.0,402.8L107.4,404.3L108.8,406.2L109.8,407.7L109.2,409.4L108.9,410.8L109.2,412.0L108.7,413.3L108.6,415.4L107.8,416.5L108.1,418.5L107.6,420.1L108.7,422.0L109.7,423.1L111.1,423.2L112.7,423.8L114.3,425.1L113.8,427.3L115.1,428.5L116.5,428.3L116.8,430.5L118.4,431.2L120.4,431.7L121.8,430.9L123.3,431.0L124.2,432.3L125.9,430.7L127.9,431.2L129.8,430.9L131.9,431.4L132.0,432.9L133.6,434.0L134.2,432.5L135.5,432.0L137.8,432.3L139.2,432.8L140.9,432.7L143.2,432.4L145.0,431.9L146.0,430.1L144.9,428.8L144.6,426.9L144.4,425.5L144.4,424.3L145.2,422.2L144.8,421.0L145.0,419.4L144.6,417.6L146.6,417.4L147.5,415.5L148.1,413.6L148.2,412.2L149.4,411.3L148.5,410.2L147.9,408.5L148.0,407.3L147.7,405.9L146.9,404.7L147.1,403.3L145.8,402.5L144.0,402.4L144.6,401.0L144.6,399.3L143.0,398.5L142.8,397.1L142.0,396.2L142.3,394.6L140.4,393.1L141.3,391.6L142.5,391.2L144.0,390.5L144.8,389.4L145.5,387.5L147.2,387.0L148.6,386.0L149.0,384.8L148.3,383.3L147.9,382.2L146.8,380.6L146.1,378.4L147.5,378.1L149.0,377.0L148.8,375.4L150.1,374.4L150.3,373.3L150.3,371.8L151.6,370.1L151.5,368.9L151.2,367.1L151.3,365.7L151.0,364.6L151.3,362.7L150.1,361.7L149.1,360.6L147.6,360.4L146.8,358.2L145.2,357.2L144.0,356.7L141.9,357.0L140.2,357.8L139.0,359.0L138.0,360.0L137.5,361.1L137.3,362.6ZM250.9,473.9L251.0,475.5L250.0,476.8L248.6,476.9L248.3,478.8L249.4,479.8L249.2,481.3L249.4,482.9L249.5,484.4L251.6,485.3L252.3,486.4L252.8,487.9L253.9,488.0L255.4,487.8L257.0,488.9L258.1,490.0L259.5,491.2L261.7,491.9L263.2,493.5L264.0,494.5L265.5,495.2L267.5,495.0L269.4,494.6L271.6,495.1L273.0,496.3L273.6,498.0L274.8,499.4L276.3,498.9L277.5,499.8L278.8,500.1L280.6,499.6L282.0,499.5L284.3,499.8L285.9,499.6L287.3,500.1L288.7,499.0L290.5,499.1L290.5,497.0L291.5,495.2L293.1,494.6L294.4,494.3L295.1,493.1L294.7,491.4L294.9,490.2L294.5,488.8L295.6,487.0L294.8,485.4L295.9,484.1L296.0,482.9L296.8,480.5L296.3,478.6L295.7,477.1L294.1,477.4L293.3,476.3L292.1,474.6L291.6,472.8L292.7,471.2L292.1,468.9L291.0,466.7L288.5,466.3L288.6,463.8L287.7,462.8L286.5,462.2L285.8,461.1L284.3,460.7L282.5,460.6L281.1,460.4L279.7,460.5L279.0,462.1L277.7,462.9L276.0,464.6L274.0,464.2L273.4,466.4L271.3,467.0L269.7,466.6L268.2,466.3L267.3,465.7L266.0,465.8L264.6,465.6L263.3,467.1L262.2,468.2L260.5,469.3L258.3,469.7L257.0,470.4L255.4,472.2L253.8,472.6L252.9,471.7L251.1,472.8ZM343.3,129.0L343.1,130.5L341.3,132.1L339.7,133.3L338.6,134.1L338.0,135.6L337.6,137.1L338.0,138.9L339.0,140.0L339.6,141.1L339.5,142.8L338.2,143.7L338.0,145.7L339.2,147.4L340.0,148.9L340.8,150.0L341.1,148.8L342.3,147.9L343.7,147.4L345.2,147.0L346.8,148.8L349.3,148.5L351.1,148.9L352.4,148.1L353.7,148.6L355.3,148.5L356.4,146.9L357.6,146.1L358.2,144.7L360.2,146.1L361.2,148.0L362.8,148.6L364.0,150.0L365.5,151.4L367.3,151.5L368.6,151.8L369.9,152.0L370.5,153.5L372.1,154.5L373.7,154.5L374.9,155.7L375.9,156.5L378.0,157.8L379.2,157.3L380.1,155.7L379.2,154.2L380.3,152.2L381.8,152.7L382.1,154.0L383.5,154.0L385.5,153.9L386.9,153.1L388.1,153.7L389.7,153.0L390.0,150.8L391.5,150.7L392.4,149.0L393.4,149.5L394.9,149.2L396.1,148.7L397.2,147.9L399.1,147.2L400.1,145.6L401.2,143.5L400.4,141.7L399.3,140.6L399.1,138.8L397.3,137.4L396.0,137.8L394.4,138.6L393.4,136.6L391.4,136.2L390.4,134.4L388.3,134.3L386.2,133.5L384.7,134.1L383.5,133.6L382.0,133.5L381.6,131.6L380.0,131.0L379.6,129.7L378.9,128.1L378.3,126.6L379.2,125.3L379.4,124.1L379.0,122.5L377.9,121.0L376.1,120.3L375.1,118.8L375.4,117.2L374.6,115.9L373.5,114.7L373.8,113.1L372.8,112.3L373.3,110.2L372.5,108.6L371.0,108.4L371.1,106.3L369.6,104.5L368.8,102.9L367.9,102.2L366.4,100.4L366.4,98.3L365.5,98.1L364.4,97.5L363.6,96.4L362.1,96.3L360.8,95.5L359.7,95.6L358.3,94.8L355.9,95.5L354.4,94.7L353.4,96.0L353.5,97.9L352.8,100.0L351.5,101.7L349.4,102.2L347.9,103.7L346.7,105.9L346.9,108.2L345.8,109.1L344.4,109.4L343.6,111.5L343.7,113.4L344.0,115.1L344.9,116.1L345.4,117.5L344.9,118.6L344.3,119.8L342.3,121.2L341.5,122.5L340.8,123.4L342.5,123.9L343.2,124.9L343.5,126.4L343.3,127.8ZM310.9,173.2L309.1,173.0L307.5,173.4L306.0,173.9L304.6,173.7L304.2,175.6L302.6,176.5L301.3,176.5L300.5,174.9L298.5,175.5L299.1,176.9L299.2,178.1L300.5,180.0L299.0,181.1L298.8,182.8L298.5,185.2L296.9,185.7L295.3,184.8L294.1,185.7L293.3,187.2L291.8,188.6L290.7,190.3L289.3,191.6L288.4,192.5L286.9,193.1L287.2,195.2L286.3,196.9L286.5,198.5L288.2,199.6L289.2,201.6L290.7,202.1L292.7,201.3L293.4,202.5L293.0,204.1L295.1,205.1L296.4,206.0L297.3,207.1L299.2,206.9L301.0,207.6L302.2,209.7L303.3,211.2L304.8,211.1L305.8,209.8L307.8,209.5L308.5,208.5L309.4,207.1L309.7,205.5L309.9,204.2L310.1,202.0L311.0,200.6L312.9,200.0L314.8,200.6L316.2,199.0L316.5,197.5L318.1,196.9L319.7,195.8L322.0,195.7L324.4,195.5L326.5,195.1L328.9,195.5L330.5,193.7L332.0,192.8L333.3,192.1L333.5,190.8L333.8,189.5L333.5,187.6L335.4,186.9L335.1,185.3L336.2,184.4L335.7,183.0L334.4,182.4L334.4,180.8L334.9,179.6L334.8,177.5L333.2,176.3L331.4,175.8L330.1,176.2L328.8,175.0L327.1,175.1L325.4,175.1L323.5,174.3L323.6,172.4L321.8,170.7L320.0,171.4L317.6,171.4L315.7,171.1L314.5,170.2L312.7,171.2L311.6,172.4ZM410.5,193.8L409.5,195.1L407.3,196.2L406.7,198.1L407.3,200.1L405.6,200.3L403.7,201.5L401.8,201.2L400.4,200.0L398.4,199.4L397.5,200.2L396.1,200.7L394.1,201.4L392.9,200.3L391.3,200.0L390.4,199.3L389.3,197.4L387.2,197.3L386.0,199.2L385.4,200.9L385.7,202.3L383.4,202.7L382.6,204.9L381.6,206.2L381.3,207.7L381.5,209.1L382.7,210.2L382.8,212.0L381.5,212.9L383.0,213.5L383.9,214.7L384.4,216.2L385.2,216.9L387.1,216.7L388.1,215.5L389.5,215.5L390.7,215.3L392.2,216.9L394.2,217.7L394.7,219.1L394.2,220.3L394.8,221.6L396.0,222.4L397.6,222.5L399.1,221.8L400.2,222.6L401.3,223.9L402.9,223.7L404.0,222.5L405.1,221.4L405.3,219.7L407.4,220.4L409.0,219.6L410.5,220.1L411.6,219.3L412.5,217.6L413.6,216.8L414.8,215.5L416.4,215.9L417.5,215.6L418.8,215.3L420.3,215.0L421.8,216.8L423.8,218.0L425.8,219.0L427.4,220.1L428.3,219.1L429.7,218.6L431.3,216.8L432.6,216.0L433.2,214.8L433.4,212.9L433.4,211.1L434.7,211.0L435.9,210.0L436.1,208.8L437.5,207.8L438.7,206.5L440.9,206.7L442.0,205.6L441.7,203.6L440.2,203.3L439.0,204.5L437.1,203.4L436.5,202.3L435.8,200.8L434.9,199.1L434.0,196.9L433.6,194.5L432.4,192.8L431.0,193.2L429.5,192.5L428.9,190.9L427.5,189.6L427.6,187.8L427.9,186.0L426.2,186.0L424.8,185.5L422.9,184.6L420.6,183.9L418.8,183.9L416.7,184.0L415.2,184.5L414.2,185.5L412.0,185.8L410.3,186.0L411.0,188.4L411.5,189.9L412.7,190.3L412.1,191.9ZM265.3,243.4L265.3,245.5L266.1,246.7L265.7,248.6L265.3,250.6L265.5,252.8L264.2,254.8L262.3,255.0L263.3,257.0L262.6,258.4L263.9,258.7L265.6,259.8L265.8,261.1L267.4,261.8L269.2,262.1L270.9,261.9L273.1,261.1L274.6,259.7L275.9,261.1L277.8,261.2L279.6,261.8L281.2,261.0L282.8,259.9L284.2,259.7L284.1,258.2L284.2,257.2L286.1,255.9L287.0,254.6L286.7,252.6L287.6,251.6L288.5,250.6L289.3,250.1L288.1,248.4L288.7,246.6L290.7,245.7L291.5,243.8L292.7,243.0L293.3,241.4L294.0,239.4L294.4,238.2L294.0,236.8L292.4,235.6L291.0,235.4L289.6,235.0L289.7,233.7L288.6,232.2L286.5,231.3L286.2,229.0L284.1,227.9L283.8,226.2L282.6,227.6L281.2,229.1L280.7,230.9L281.9,232.1L281.6,233.3L280.4,234.5L278.2,235.0L276.6,235.5L275.6,236.9L275.6,238.2L274.0,238.9L272.8,240.7L270.9,242.2L271.6,242.0L269.8,242.5L268.0,242.0L266.5,242.4ZM297.2,291.1L296.7,289.9L296.1,288.5L295.7,287.4L295.4,285.7L294.4,285.0L294.0,283.5L292.8,282.8L291.3,281.9L289.2,282.9L287.2,283.3L286.2,284.9L284.1,283.7L282.1,283.4L281.3,284.4L281.6,286.0L280.3,286.6L278.2,286.9L277.1,287.3L276.1,288.5L275.3,290.0L275.9,291.7L277.0,292.6L276.6,294.2L276.2,295.2L276.5,297.1L275.1,298.2L276.7,300.0L278.6,301.0L279.8,301.9L280.4,303.3L279.5,304.8L279.0,306.4L280.0,308.3L279.8,310.7L279.1,311.8L278.2,313.4L278.6,314.0L280.0,314.6L282.1,315.1L283.2,314.2L284.8,314.9L286.4,314.8L287.5,315.5L288.9,316.3L290.0,315.9L291.8,315.9L292.7,314.7L292.5,312.5L291.6,311.3L290.6,310.2L291.2,309.2L291.1,307.6L292.8,306.3L294.5,305.3L295.4,304.3L296.5,303.7L295.7,302.1L295.7,300.8L295.6,299.0L296.7,298.1L297.5,296.8L298.5,295.8L299.1,294.1L298.0,292.7ZM463.8,320.7L463.1,322.6L462.9,324.0L462.6,325.1L464.4,326.7L466.2,326.9L467.3,324.7L469.1,324.3L470.3,325.1L472.2,324.6L473.9,323.0L475.2,321.5L477.2,321.0L478.2,319.5L480.2,319.4L478.6,318.9L477.9,318.0L477.1,315.9L476.1,314.1L475.8,312.7L475.5,311.6L475.7,309.9L475.4,308.0L476.1,305.9L475.0,303.8L474.5,301.8L473.7,300.9L472.6,299.9L471.3,300.6L470.1,300.8L469.1,300.0L467.3,299.3L466.6,300.7L466.3,302.3L464.8,304.3L464.9,306.7L463.7,308.3L461.7,309.0L460.6,309.3L459.7,310.5L460.4,312.9L460.2,314.8L460.9,316.6L462.5,317.3L463.1,319.2Z" fill="#0457a9" fill-rule="evenodd" stroke="#0457a9" stroke-width="0.4"/>
<path d="M265.8,261.1L265.6,259.8L263.9,258.7L262.6,258.4L263.3,257.0L262.3,255.0L261.4,256.4L259.5,257.3L257.6,257.9L256.3,256.8L254.8,257.1L253.7,257.4L251.2,257.6L250.1,259.2L250.7,260.4L250.1,261.9L251.9,263.2L251.6,265.5L250.3,266.9L250.6,268.7L249.7,269.9L251.4,271.6L251.4,273.2L252.2,275.1L254.0,276.2L255.4,277.4L256.4,278.6L257.6,277.9L259.0,278.6L259.5,280.7L261.2,281.3L260.9,282.8L260.7,284.2L262.9,284.6L263.6,285.7L264.7,286.7L267.0,287.1L268.8,285.9L270.6,287.3L272.6,288.0L273.7,286.5L274.8,285.9L276.2,286.5L278.2,286.9L280.3,286.6L281.6,286.0L281.3,284.4L282.1,283.4L284.1,283.7L286.2,284.9L287.2,283.3L289.2,282.9L291.3,281.9L292.8,282.8L294.0,283.5L294.4,285.0L295.8,284.2L296.2,282.4L296.6,281.0L298.4,280.6L299.3,279.4L301.4,279.2L302.8,277.2L302.0,276.3L301.8,274.8L299.9,273.3L298.3,272.4L298.3,270.6L296.2,270.4L295.2,269.3L295.2,267.7L294.4,266.6L293.2,266.1L291.6,265.3L291.8,263.5L290.6,262.4L289.1,262.8L287.4,263.2L286.1,262.1L284.9,261.3L284.2,259.7L282.8,259.9L281.2,261.0L279.6,261.8L277.8,261.2L275.9,261.1L274.6,259.7L273.1,261.1L270.9,261.9L269.2,262.1L267.4,261.8ZM219.0,337.3L218.5,335.4L217.0,334.9L215.5,333.1L214.2,334.6L213.0,335.8L210.9,335.7L208.7,334.8L206.8,336.4L205.2,337.3L203.7,338.0L201.3,337.6L200.5,338.8L200.3,340.8L201.5,342.6L199.5,343.9L200.0,345.5L199.2,346.4L198.7,347.5L199.5,349.1L201.3,350.0L201.8,352.3L203.2,353.7L205.4,354.2L207.0,355.6L208.1,356.4L208.3,357.9L209.6,359.7L211.3,361.3L213.5,361.6L215.1,360.9L216.4,361.7L217.4,362.9L218.1,364.9L219.5,364.5L220.8,365.7L222.3,365.7L223.9,366.2L225.3,366.8L226.3,367.9L227.0,366.8L228.7,366.6L229.1,365.1L230.6,364.6L229.7,362.7L230.6,360.8L232.5,360.1L233.6,358.7L235.7,357.5L234.5,355.8L233.1,354.9L232.7,353.1L233.0,351.0L230.9,349.9L229.3,348.4L227.8,348.2L227.6,347.0L228.7,345.7L227.9,344.6L228.0,343.3L227.9,341.7L226.7,341.1L226.0,338.9L225.8,338.9L224.1,338.3L221.8,338.8L220.2,338.1ZM428.1,96.6L426.8,94.9L425.6,94.6L424.0,95.1L422.1,94.2L420.4,95.3L419.4,96.0L417.8,96.2L416.6,95.5L414.6,95.2L412.3,95.1L410.7,95.2L410.2,97.5L408.3,98.8L409.1,100.1L408.3,101.5L408.4,102.7L407.9,104.1L407.4,106.2L407.2,108.1L407.9,109.4L408.4,110.9L408.4,112.8L410.1,114.4L409.8,116.5L408.1,117.5L409.8,119.1L409.9,121.2L411.8,121.5L412.8,122.7L413.2,124.4L413.6,125.5L415.0,125.2L417.0,125.9L419.1,126.1L420.3,126.7L422.0,126.5L423.5,125.8L424.5,127.4L426.9,127.3L428.9,126.2L430.2,126.9L431.7,126.3L432.9,127.9L434.6,127.5L436.3,128.5L437.8,129.3L438.0,130.8L437.1,131.8L436.1,133.0L436.2,135.0L437.3,136.2L437.9,137.4L437.1,138.8L438.6,140.1L438.5,141.6L438.0,143.3L438.2,144.8L438.4,146.2L439.2,147.4L440.6,148.2L441.4,149.6L442.1,150.4L443.5,150.2L445.2,151.0L446.7,152.5L448.6,152.1L450.0,152.7L451.1,152.0L450.2,150.9L450.1,149.4L450.9,148.0L451.1,146.8L453.1,145.6L453.0,143.9L453.7,143.1L453.7,140.8L454.1,139.2L455.4,137.4L455.7,136.1L456.2,135.0L455.9,134.3L456.8,132.3L457.0,130.6L457.9,129.5L458.9,128.6L460.7,127.8L459.8,125.7L459.3,123.9L460.7,122.0L461.0,120.0L460.5,118.3L460.1,116.0L460.1,114.5L460.8,113.2L461.7,111.1L463.3,109.4L463.7,107.9L464.6,106.4L465.1,104.4L462.8,103.9L460.6,103.1L458.6,104.0L456.3,103.8L454.4,102.5L453.1,102.7L452.0,101.7L451.2,100.0L449.2,99.6L448.3,99.9L446.8,101.5L445.1,102.1L443.0,102.7L441.0,101.5L440.5,100.2L439.4,99.3L437.2,98.8L435.6,98.9L433.8,100.2L431.8,100.5L429.5,99.5L428.3,98.3Z" fill="#053056" fill-rule="evenodd" stroke="#053056" stroke-width="0.4"/>
<path d="M558.9,137.5L560.6,136.9L561.8,135.3L562.3,134.0L563.3,133.2L564.1,132.0L563.4,130.3L565.7,129.6L566.9,127.6L567.6,125.6L566.4,124.0L567.0,122.6L568.2,121.2L569.1,120.1L570.5,120.0L571.6,118.0L571.7,116.3L572.2,114.7L574.2,113.6L574.2,111.4M260.3,66.0L260.8,67.5L262.1,68.0L263.9,68.5L263.8,70.8L263.6,72.8L263.1,74.8L264.1,76.3L264.6,78.7L264.8,80.1L264.2,81.7L263.7,83.7L263.4,85.4L265.3,86.5L265.2,88.3L265.2,90.0L265.2,91.7M280.2,62.8L280.6,64.6L282.0,66.6L281.0,68.0L280.7,69.5L281.4,70.8L281.4,72.0L281.6,73.9L283.5,74.8M265.8,92.3L265.2,91.7M280.4,88.9L280.9,87.2L281.6,84.8L282.6,83.6L284.0,82.8L284.9,80.6L285.7,79.2L285.1,78.1L285.0,76.5L283.5,74.8M413.6,125.5L415.0,125.2L417.0,125.9L419.1,126.1L420.3,126.7L422.0,126.5L423.5,125.8L424.5,127.4L426.9,127.3M413.6,125.5L413.2,124.4L412.8,122.7L411.8,121.5L409.9,121.2L409.8,119.1L408.1,117.5L409.8,116.5L410.1,114.4L408.4,112.8L408.4,110.9L407.9,109.4L407.2,108.1L407.4,106.2L407.9,104.1M407.9,104.1L408.4,102.7L408.3,101.5L409.1,100.1L408.3,98.8M426.9,127.3L428.9,126.2M366.4,98.3L366.4,100.4L367.9,102.2L368.8,102.9L369.6,104.5L371.1,106.3L371.0,108.4L372.5,108.6L373.3,110.2L372.8,112.3L373.8,113.1L373.5,114.7L374.6,115.9L375.4,117.2L375.1,118.8L376.1,120.3L377.9,121.0L379.0,122.5M505.3,163.1L506.7,164.4L506.3,166.3L507.3,168.3L508.4,168.7L510.0,168.4L511.4,170.1L513.4,170.5L513.7,172.5L514.0,174.3M514.0,174.3L514.3,176.8L513.5,178.3L514.0,180.2M514.0,180.2L513.7,181.6L514.6,183.2L513.8,184.5L513.7,185.7L513.4,187.2L513.0,189.0L511.5,189.2L509.9,190.0M491.0,187.8L492.9,188.5L495.2,187.6L497.6,187.4L499.1,186.7L500.6,187.9L503.0,188.6L504.6,189.4L506.5,190.0L508.2,190.6M508.2,190.6L509.9,190.0M533.5,188.0L534.7,186.9L536.0,186.5L536.3,184.4L535.8,182.9L536.5,181.8L538.0,181.7L538.2,179.8L538.3,177.4L539.0,176.0L540.7,175.2L542.6,174.1L543.7,172.7M543.7,172.7L542.9,170.6L542.8,169.0L540.6,168.2L539.0,167.3M539.0,167.3L537.3,166.6L536.1,166.4L535.3,168.1L533.0,168.4L531.1,169.3L531.0,171.1L529.2,171.6L526.9,170.7L524.8,171.0L522.7,169.8L521.9,171.3L519.7,171.5L517.3,172.0L516.8,173.7L515.1,173.9L514.0,174.3M566.6,172.7L565.6,173.6L564.3,174.6L563.1,174.7L561.9,175.7L560.8,174.5L559.7,174.3L558.0,175.2L556.6,174.7M585.5,151.4L583.3,151.1L581.8,150.5L580.8,151.9L579.2,152.1L577.8,152.5L576.1,151.7L573.7,151.0L572.1,151.5L570.7,151.4L569.1,151.2L568.3,152.3L567.3,151.2L566.6,149.7L564.8,150.5L563.3,149.5M558.9,137.5L559.1,138.9L559.2,140.1L557.7,141.9L558.0,143.4L558.3,144.8L559.7,146.5M592.8,149.8L590.9,148.4L588.6,148.5L588.2,150.4L587.1,151.5L585.5,151.4M559.7,146.5L560.7,148.7L562.2,149.3L563.3,149.5M465.1,104.4L464.6,106.4L463.7,107.9L463.3,109.4L461.7,111.1L460.8,113.2L460.1,114.5L460.1,116.0L460.5,118.3L461.0,120.0L460.7,122.0L459.3,123.9L459.8,125.7L460.7,127.8L458.9,128.6L457.9,129.5L457.0,130.6L456.8,132.3L455.9,134.3M477.0,104.4L477.2,106.2L476.4,107.5L478.3,108.8L478.8,110.2L478.3,111.5L477.8,112.9L478.5,114.1L477.3,114.9L477.5,116.6L478.1,118.4L478.8,120.0L479.4,121.3L480.1,123.3L480.2,124.9L479.7,126.2L479.7,128.2L478.1,129.4L478.2,131.8L477.4,133.0L477.0,135.0M455.9,134.3L456.2,135.0M473.4,151.0L472.3,152.0L470.3,151.5L469.5,153.1L467.9,153.2L465.5,153.2L464.0,153.3L463.0,152.9L461.4,153.4L460.2,153.0L458.8,152.2L457.7,151.5L456.6,152.1L455.2,151.6L454.4,152.8L453.0,154.0M473.4,151.0L472.7,150.0L472.4,148.5L472.0,146.8L473.1,145.5L474.5,144.6L476.2,142.9L477.3,141.4L476.8,140.2L478.5,139.1L477.0,137.7L477.3,135.4M477.0,135.0L477.3,135.4M453.0,154.0L452.3,152.5L451.1,152.0M456.2,135.0L455.7,136.1L455.4,137.4L454.1,139.2L453.7,140.8L453.7,143.1L453.0,143.9L453.1,145.6L451.1,146.8L450.9,148.0L450.1,149.4L450.2,150.9L451.1,152.0M428.9,126.2L430.2,126.9L431.7,126.3L432.9,127.9L434.6,127.5L436.3,128.5L437.8,129.3L438.0,130.8M438.0,130.8L437.1,131.8L436.1,133.0L436.2,135.0L437.3,136.2L437.9,137.4L437.1,138.8L438.6,140.1L438.5,141.6L438.0,143.3M477.3,135.4L478.6,137.5L480.1,138.3L482.0,138.0L483.2,137.4L485.1,138.6L486.7,139.4L488.3,139.7L489.9,138.5L492.0,138.5M498.8,105.2L499.3,107.3L499.7,108.8L500.3,109.8L499.7,111.6L498.4,111.7L497.4,113.0L497.0,114.7L497.0,116.9L497.4,118.6L499.0,119.1L498.7,120.9L498.4,122.2L499.1,124.0L499.7,126.4L501.7,127.5L502.4,129.1L502.8,130.2L502.9,131.9M492.0,138.5L493.4,139.4L495.1,138.4L496.5,136.9L497.9,135.9L498.9,134.4L501.0,134.1L501.5,132.5L502.9,131.9M481.9,160.6L480.0,159.4L479.4,158.0L479.9,155.9L479.4,154.3L477.3,154.2L476.0,152.3L474.9,151.8L473.4,151.0M481.9,160.6L483.2,159.0L484.9,158.7L486.9,158.5L488.4,159.6L490.3,158.3L491.5,157.9L493.3,158.3M481.9,160.6L480.3,162.4L479.1,163.0L478.1,163.7L479.5,165.7L479.6,167.4L478.4,168.4M505.3,163.1L505.3,162.9M493.3,158.3L494.8,158.2L496.9,158.7L498.4,160.2L498.8,161.7L499.1,163.0L500.8,162.5L502.6,161.3L503.4,162.5L505.3,162.9M561.5,200.4L560.5,202.0L561.1,203.7M561.1,203.7L562.8,204.0L563.7,205.0L564.9,205.9L566.3,205.9L568.4,206.4L569.9,206.7L571.4,208.5L572.6,209.5M586.7,181.1L587.7,179.6L589.2,179.0L590.8,179.0L592.8,178.6L594.9,178.1L596.8,176.9L598.0,178.1L600.1,178.4M554.8,176.1L556.6,174.7M554.8,176.1L556.5,177.2L556.5,179.3L555.0,180.1L554.8,182.3L556.9,182.7L558.1,184.2L558.4,185.9L559.1,187.4L558.5,189.0L559.6,190.9L559.9,192.3L560.1,194.1L559.3,196.0L559.9,198.0L560.3,199.3L561.5,200.4M566.6,172.7L567.9,173.4L569.7,173.4L571.5,172.5L573.2,173.3L573.4,174.6L575.0,175.3L575.5,176.9L577.0,177.6L577.8,178.9L579.0,179.9L581.3,180.2L583.4,180.2L584.7,179.6L586.7,181.1M379.2,125.3L378.3,126.6L378.9,128.1L379.6,129.7L380.0,131.0L381.6,131.6L382.0,133.5L383.5,133.6L384.7,134.1M365.5,98.1L364.5,99.5L362.3,99.3L361.9,100.8L361.7,102.7L362.1,103.8L361.7,105.4L361.1,107.2L360.7,109.0L360.8,111.2L360.2,112.5L360.3,114.1L361.5,115.9L361.8,118.3L361.1,119.9L360.4,121.1L359.1,122.6L358.2,124.1L358.7,125.2L357.3,126.4L357.5,127.8L358.7,129.9L358.3,131.3L356.7,132.7L357.4,133.8L356.8,135.2M356.8,135.2L357.4,136.2L357.1,137.8L358.5,138.6L359.3,139.7M379.0,122.5L379.4,124.1L379.2,125.3M418.7,143.3L419.8,144.9L421.8,145.6L422.2,146.9L423.4,147.7L423.6,149.9L425.1,150.6L424.4,152.0L424.1,153.3M438.0,143.3L438.2,144.8L438.4,146.2L439.2,147.4L440.6,148.2M424.1,153.3L425.6,152.2L427.1,152.8L428.4,152.4L430.2,152.9L432.5,152.9L433.2,150.8L434.2,149.7L435.8,150.0L437.5,149.6L438.9,150.3L439.3,148.6L440.6,148.2M451.1,152.0L450.0,152.7L448.6,152.1L446.7,152.5L445.2,151.0M440.6,148.2L441.4,149.6L442.1,150.4L443.5,150.2L445.2,151.0M412.7,127.0L411.0,127.8L409.5,128.1L408.8,129.2L407.0,129.3L406.0,130.3L405.1,131.8L403.8,132.5L402.9,132.9L401.6,131.8L399.8,132.4M415.2,142.4L413.7,142.0L412.6,142.8L412.6,144.6L411.6,145.2L409.6,145.8L408.3,145.0L406.3,144.6L404.8,145.6L403.1,146.4L402.8,147.8M399.8,132.4L400.3,134.2L399.0,135.6L398.6,136.8L397.3,137.4M397.3,137.4L399.1,138.8L399.3,140.6L400.4,141.7L401.2,143.5L400.1,145.6M400.1,145.6L401.6,146.4L402.8,147.8M413.6,125.5L412.7,127.0M418.7,143.3L416.9,143.5L415.2,142.4M384.7,134.1L386.2,133.5L388.3,134.3L390.4,134.4L391.4,136.2L393.4,136.6L394.4,138.6L396.0,137.8L397.3,137.4M380.3,152.2L381.8,152.7L382.1,154.0L383.5,154.0L385.5,153.9L386.9,153.1L388.1,153.7L389.7,153.0L390.0,150.8L391.5,150.7L392.4,149.0L393.4,149.5L394.9,149.2L396.1,148.7L397.2,147.9L399.1,147.2L400.1,145.6M535.9,99.2L535.8,100.8L534.4,102.6L534.9,104.4L535.9,105.2L535.4,107.3L537.1,108.2L537.5,109.4L537.7,110.7L538.7,112.5L537.8,113.9L537.5,116.3L537.0,118.1L537.9,119.5L537.4,120.8L539.5,122.0L540.3,122.9L540.2,124.4L540.5,126.0L540.3,128.4L539.4,130.0L538.6,131.2L538.2,132.4M513.3,151.6L512.2,149.5L511.1,148.0L511.4,146.5L510.9,145.1L512.1,143.4L511.6,141.7L512.3,139.7L511.1,138.9L510.9,137.3M513.3,151.6L514.6,151.0L516.0,150.3L517.4,150.4L518.3,151.3L519.6,152.1L521.5,151.5L522.9,150.8L524.8,151.3L527.2,151.2L528.7,151.8L529.7,152.7L531.0,153.2L532.7,152.8L534.2,153.0L535.3,152.6L537.0,152.8M510.9,137.3L511.8,136.2L513.4,135.3L514.4,134.0L516.0,132.2L516.9,131.2L518.9,130.6L520.8,129.7L521.7,130.9L523.0,131.2M523.0,131.2L524.1,131.8L525.8,132.1L528.1,131.7L530.0,132.6L531.5,132.8L533.6,133.0L534.4,134.6L535.5,135.2M535.5,135.2L536.3,136.2L537.1,137.4L536.8,139.0L536.0,140.0L537.0,141.0L536.9,142.5L537.7,144.5L536.5,145.7L536.9,147.1L538.4,147.8L538.7,149.3L537.6,150.5L537.0,152.8M537.0,152.8L537.0,152.8M502.9,131.9L503.3,133.0L504.9,133.6L505.9,134.3L507.4,134.5L508.5,135.5L509.3,136.3L510.9,137.3M505.3,162.9L507.1,162.9L508.1,161.5L509.3,159.7L509.6,157.6L510.3,155.7L512.5,155.3L512.8,153.2L513.3,151.6M539.0,167.3L537.4,166.6L537.2,165.1L536.3,163.3L536.8,161.1L535.7,159.7L536.2,157.6L535.9,156.0L537.5,154.4L537.0,152.8M538.2,132.4L536.8,134.0L535.5,135.2M559.7,146.5L558.3,147.5L556.6,147.2L555.2,146.2L553.1,147.1L551.3,148.1L549.7,147.2L549.7,148.6L548.3,149.7L546.2,150.1L545.3,151.4L543.7,151.9L542.1,151.9L540.9,152.3L539.7,152.4L538.2,152.1L537.0,152.8M543.7,172.7L545.2,173.0L546.1,173.7L547.3,173.9L548.7,174.0L550.7,174.8L552.7,173.4L553.7,174.9L554.8,176.1M356.8,135.2L356.0,134.0L355.2,132.8L353.6,132.9L352.5,132.9L350.7,133.7L349.0,133.4L347.2,131.9L345.2,132.4L343.0,132.8L341.3,132.1M354.4,94.7L353.4,96.0L353.5,97.9L352.8,100.0L351.5,101.7L349.4,102.2L347.9,103.7L346.7,105.9L346.9,108.2L345.8,109.1L344.4,109.4L343.6,111.5L343.7,113.4L344.0,115.1L344.9,116.1L345.4,117.5L344.9,118.6L344.3,119.8L342.3,121.2L341.5,122.5L340.8,123.4M340.8,123.4L342.5,123.9L343.2,124.9L343.5,126.4L343.3,127.8L343.3,129.0L343.1,130.5L341.3,132.1M362.4,260.3L361.0,260.6L359.5,262.0L358.1,261.3L355.8,261.5L355.2,259.3L353.6,258.6L351.7,258.0L349.6,259.2M362.4,260.3L364.2,260.4L366.3,259.2L367.1,257.4L367.2,255.9L367.5,254.6L368.2,253.2L368.2,251.0M368.2,251.0L367.0,248.9L367.0,246.6L366.7,245.4L367.1,243.9L367.8,241.7M367.8,241.7L366.7,239.7L366.2,237.9L364.5,237.1L362.7,235.9L360.4,236.7L359.2,235.7L358.1,235.5L357.3,236.5L355.9,236.9L354.9,235.8L355.4,234.1L353.5,233.1M342.0,254.2L343.1,255.4L342.9,257.3L344.5,257.4L345.7,258.3L347.6,258.1L349.6,259.2M342.0,254.2L341.6,252.2L340.3,250.7L340.7,249.2L340.0,248.1L341.3,246.4L341.8,244.6L341.1,243.7L341.0,242.1L341.2,240.8L340.8,239.2M353.5,233.1L351.2,233.4L350.5,235.0L350.1,236.6L348.6,237.3L347.5,238.4L345.3,238.3L344.6,240.7L342.4,241.0L340.8,239.2M329.3,217.0L330.8,218.7L332.5,219.7L334.7,219.8L335.9,218.7L337.7,218.2L339.6,218.6L340.1,217.4L341.3,216.3L342.8,216.7L343.9,216.6L344.9,215.4L346.2,214.3L348.1,214.7L349.5,215.3L350.8,214.6L352.0,214.3M329.3,217.0L330.0,218.6L329.6,220.2L330.4,221.5L332.3,221.6L333.5,223.2L333.7,224.9L334.5,226.6L335.7,227.3L336.3,228.9L336.2,230.3L336.8,232.2L336.8,233.8L338.3,234.9L339.0,236.3L339.4,238.4M353.5,233.1L352.3,232.2L351.8,231.1L351.8,229.0L353.1,227.9L354.0,226.3L354.8,225.2L355.6,224.0L356.7,221.9L356.3,219.7L355.4,218.4M339.4,238.4L340.8,239.2M355.4,218.4L353.8,216.9L353.4,215.6L352.0,214.3M342.0,254.2L339.9,253.8L338.1,254.3L337.7,256.0L336.4,257.3L336.0,259.3L334.5,259.7L333.1,259.6L331.9,260.0M315.7,242.6L316.6,243.8L316.6,245.7L317.3,248.0L318.4,249.7L318.2,252.0L316.9,253.3L316.2,254.7M315.7,242.6L317.0,242.3L318.2,243.6L319.7,243.0L320.9,241.8L322.5,240.6L324.1,240.6L326.4,240.2L327.7,241.6L328.8,242.4L330.5,241.9L331.5,241.0L333.1,239.5L334.4,240.0L335.7,239.1L337.0,240.7L337.7,239.5L339.4,238.4M331.9,260.0L329.7,260.0L328.4,259.5L327.3,258.5L325.3,258.3L324.2,258.9L323.1,259.5L322.7,258.3L321.5,257.6L321.3,255.8L320.0,254.9L318.2,255.4L316.2,254.7M351.4,550.0L352.6,548.5L354.2,547.1L354.9,548.6L356.6,548.7L357.7,548.2L359.2,548.0L360.2,546.7L361.3,545.3L362.7,543.7L364.4,543.6L365.9,544.6L368.2,543.7L369.6,543.4L370.9,543.0L371.5,541.8L371.6,540.1L373.7,540.2L374.6,538.8L376.4,539.2L377.6,539.1L379.0,538.5M387.9,571.5L387.2,569.7L385.7,568.8L386.5,566.6L386.9,564.9L388.0,563.5L388.8,562.2L389.4,560.6L390.4,558.9L389.4,557.5L389.6,556.3L388.7,555.1L388.9,553.4L388.7,551.5L387.8,550.0L388.4,548.0L390.1,547.6L391.0,546.5M379.0,538.5L380.6,539.1L381.9,540.6L383.6,541.5L385.8,540.5L387.4,541.4L388.8,542.8L389.3,545.1L391.0,546.5M412.4,570.6L412.9,569.0L412.2,567.7L414.1,566.9L414.6,565.8L414.6,564.4L414.3,562.5L413.8,561.3L413.3,559.2L415.0,557.6L415.1,556.3L414.9,554.6L415.4,552.6L414.9,551.2L415.0,549.5M415.0,549.5L413.9,548.1L412.0,548.2L410.4,546.4L409.9,544.7L408.3,543.2L407.2,541.8L404.9,541.8L403.0,541.5M403.0,541.5L401.0,542.5L400.9,544.2L398.7,543.8L397.0,545.6L395.1,545.1L393.7,544.4L392.2,545.4L391.0,546.5M225.4,451.0L226.9,452.1L228.6,452.0L229.7,453.7L231.0,453.4L232.5,453.9L234.1,452.5L236.3,452.6L236.9,454.1L238.7,454.3L240.4,455.4M225.4,451.0L224.0,450.5L222.6,450.6L222.2,449.1L221.6,447.9L220.9,445.7L221.6,444.0L221.6,442.6L220.9,440.8L222.0,440.0L222.7,439.0L221.2,437.6L219.8,436.5M240.4,455.4L240.7,454.0L240.9,452.7L242.1,451.2L243.2,450.6L242.0,449.4L241.2,448.3L242.4,446.9L242.7,444.5L243.5,442.1L245.0,441.0L246.5,440.6L247.2,438.7L246.7,437.2L247.6,436.0M219.8,436.5L221.2,436.0L222.4,436.0L224.7,435.9L225.6,434.4L227.9,433.6L229.2,431.8L229.8,430.5L231.5,430.2L232.9,428.7L234.1,427.3M234.1,427.3L235.3,429.2L236.2,430.7L238.3,431.3L239.3,430.9L241.0,430.7L242.3,431.5L243.6,431.4L245.3,432.6L247.0,434.1L247.6,436.0M249.5,484.4L249.4,482.9L249.2,481.3L249.4,479.8L248.3,478.8L248.6,476.9L250.0,476.8L251.0,475.5M251.0,475.5L251.7,474.2L251.0,472.4L250.1,471.5L249.4,470.1L248.4,468.1L247.4,466.6L247.4,464.9L246.6,464.0L245.0,463.8L243.7,462.6L242.8,461.3L242.4,460.1L241.8,458.6L241.5,456.5L240.4,455.4M184.1,450.0L184.7,448.3L186.4,446.5L187.5,445.1L188.8,444.8L190.8,445.1L192.3,443.4L192.9,442.5L192.9,441.0L194.3,440.6L194.7,439.2M211.8,432.9L211.6,434.0L210.3,434.8L208.0,435.7L207.3,436.6L206.4,437.8L204.4,437.7L202.5,437.2L201.6,437.8L200.4,438.8L198.7,438.4L197.4,438.4L195.8,438.9L194.7,439.2M211.8,432.9L213.8,433.7L215.6,434.1L216.2,435.7L217.4,436.3L219.8,436.5M566.9,242.5L568.0,243.7L569.2,245.5M569.2,245.5L568.6,247.2L570.0,249.1L570.5,250.4L569.9,251.9L569.2,252.9L567.8,253.9L567.6,256.1L568.6,257.7L568.8,259.9L567.7,261.5L568.6,262.6L569.5,263.9L570.8,265.1L572.0,266.7L572.4,268.1L571.9,269.3M547.6,233.4L549.5,233.3L550.4,234.7L552.0,234.9L553.5,234.4L555.1,235.1L555.3,236.7L556.5,237.6L558.0,238.2L559.5,237.6L560.8,237.6L561.3,238.8L562.5,239.4L563.2,240.7L563.6,242.0L565.0,241.7L566.9,242.5M547.6,233.4L545.4,234.0L544.4,235.8L543.5,238.2L544.6,239.7L542.9,240.2L541.8,240.5L541.0,242.8L539.7,244.9L540.4,246.9L540.1,248.7L540.6,250.1L539.8,251.3L539.1,252.3L538.0,253.6L537.2,254.9L536.4,256.9L536.7,257.9L537.4,259.3L536.9,261.2M536.9,261.2L538.4,261.5L539.9,260.9L540.8,261.8L541.5,262.8L543.5,263.8L545.6,262.7L546.9,262.7L547.9,264.1L549.1,263.2L550.6,263.6L552.6,262.6L554.0,263.7L555.4,263.5L556.6,264.4L557.7,265.2L559.1,266.5L560.5,267.8L562.7,267.1L564.4,267.4L565.9,268.6L566.7,267.1L568.4,266.9L570.2,268.3L571.9,269.3M118.3,234.9L118.8,236.6L119.9,236.8L121.1,237.8L120.4,239.7L120.3,241.3M120.3,241.3L118.6,242.3L117.0,242.9L116.1,245.0L116.4,246.2L116.7,247.9L115.1,248.8L114.6,249.7L113.5,250.7L113.1,252.5L112.3,254.6L111.7,256.6L110.1,257.2L110.3,258.9L109.0,260.1L109.0,261.6L109.1,263.7L108.7,264.9L108.3,266.2L107.0,267.9M107.0,267.9L105.6,268.4L104.3,269.8L102.1,269.9L100.0,269.7M180.7,408.1L179.3,409.6L178.1,411.7L176.6,413.1L176.6,414.6L176.8,415.7L176.0,416.9L176.1,418.5L175.0,419.5L174.3,420.7L174.9,422.4L176.4,422.6L176.2,424.9L176.9,427.1L175.9,428.8L174.8,430.1L174.2,431.2L172.0,431.6L170.9,432.9L170.1,434.0L169.1,434.6L168.4,436.4L169.8,438.1L168.9,438.9L167.7,440.0M194.7,439.2L193.6,437.6L193.0,435.9L193.9,433.8L193.1,432.0L194.4,431.2L196.1,429.7L196.2,427.9L195.9,426.3L197.2,424.7L198.0,423.2L197.9,421.3L196.9,419.3L195.0,417.8L194.5,415.4L194.6,413.7L194.7,412.3M180.7,408.1L182.2,407.3L183.8,407.5M194.7,412.3L192.7,412.9L191.1,411.5L191.0,409.9L189.8,409.3L188.1,410.3L186.5,409.5L184.9,409.4L183.8,407.5M453.0,154.0L453.1,155.3L451.9,156.6L452.6,158.6L452.1,160.1L451.6,161.5L451.2,162.9L451.3,164.9L453.3,165.5L454.4,167.4M454.4,167.4L453.1,167.9L451.2,167.8L449.5,168.1L448.5,169.2L447.5,170.4L447.0,171.6L445.2,172.3L444.1,171.5L443.0,173.0L440.8,173.0L440.1,174.5L438.7,174.8L436.4,175.4L435.1,176.1L433.6,177.1M334.9,179.6L337.0,180.9L338.4,180.3L340.2,179.8M334.9,179.6L334.8,177.5L333.2,176.3M333.2,176.3L333.4,174.6L334.9,172.6L334.6,171.5L335.3,170.1L336.6,168.3L338.2,167.9L338.6,166.5L338.4,164.3L338.8,163.3L339.0,161.7L340.6,160.3M354.0,166.0L352.1,166.8L350.3,165.8L348.1,165.3L347.5,163.1L345.9,162.2L344.0,161.7L342.5,160.6L340.6,160.3M518.1,256.8L519.6,256.6L520.4,255.6L522.4,257.0L524.7,257.9L526.0,259.1L527.6,260.6L530.0,260.7L532.1,261.4L532.7,263.6M518.1,256.8L517.1,257.4L516.9,259.1L515.7,259.7L514.4,259.3L513.5,260.6L512.0,260.7L510.9,262.9L508.5,262.9L507.3,264.2L505.8,265.4L504.3,265.6L503.2,265.9M503.2,265.9L504.0,267.2L504.3,268.4L505.6,269.2L506.1,271.1L505.3,272.3L504.4,274.1L504.5,276.1L505.3,277.2L506.2,279.0L506.4,280.4L505.4,281.4L505.8,283.0L506.6,284.8L507.5,286.1L506.8,287.5M506.8,287.5L508.9,287.6L510.7,288.4L511.5,287.3L513.1,286.7L515.2,285.9L516.4,284.8L518.4,284.4L519.6,282.7L521.2,282.3L522.6,281.5L524.2,282.4L525.9,282.0L528.1,281.7L529.7,282.9L530.7,281.9L531.7,280.7M531.7,280.7L531.6,279.3L531.8,278.1L531.0,275.9L530.6,274.1L530.0,272.8L530.5,271.3L531.2,270.4L531.2,268.8L530.1,267.8L530.9,266.4L531.3,265.3L532.7,263.6M561.1,203.7L560.4,204.1M572.6,209.5L572.8,211.4L573.8,212.1L574.9,213.1L575.3,214.3L576.9,214.6L577.8,215.4L579.0,216.2M547.6,233.4L546.6,232.7L546.1,231.3L547.0,229.5L545.5,227.7L544.1,226.4M560.4,204.1L559.7,205.6L559.9,207.7L558.9,209.4L557.4,209.9L556.2,209.8L554.3,209.5L553.0,210.9L551.0,211.4L549.9,212.4L550.0,214.2L549.4,216.4L549.5,218.6L549.0,220.3L548.6,221.9L546.6,222.3L545.4,223.8L545.0,225.0L544.1,226.4M533.5,188.0L531.6,189.3L532.1,190.6L531.8,191.9L532.4,193.5L533.5,195.2M509.9,190.0L511.6,191.7L512.0,193.0L513.4,194.1L514.9,194.6L515.4,195.7L514.8,197.1L514.9,198.7L516.6,198.7L517.3,199.7L518.5,200.9L519.7,201.3L519.9,203.0L520.5,204.3L521.9,204.3L523.0,205.0M533.5,195.2L532.6,197.1L531.2,198.5L530.2,200.1L529.3,201.4L528.1,202.7L525.9,202.7L525.2,204.5L523.0,205.0M497.4,210.4L498.6,211.2L500.4,210.7L501.7,210.2L503.1,210.2L504.7,210.2L506.7,211.0L507.8,212.7L509.2,213.0L510.8,213.4L511.6,215.3L512.7,215.7L514.3,216.6L516.3,215.5L517.7,215.2L519.4,214.4L521.4,214.6L522.6,215.2M523.0,205.0L522.7,207.1L522.0,208.3L521.7,209.8L521.4,211.6L522.5,212.7L522.2,214.0L522.6,215.2M312.0,95.2L310.1,93.9L310.0,92.3L309.4,91.1L308.5,90.1L308.5,88.5L306.2,87.4M306.2,87.4L304.7,87.2L302.7,86.5M283.5,74.8L283.8,76.0L284.5,77.3L285.6,78.8L287.2,79.2L287.6,80.6L288.9,81.5L290.1,82.5L291.8,81.9L293.3,83.2L294.8,82.8L296.1,83.6L297.3,83.6L298.8,84.3L299.2,85.9L300.4,87.2M302.7,86.5L300.4,87.2M311.0,200.6L312.9,200.0L314.8,200.6L316.2,199.0L316.5,197.5L318.1,196.9L319.7,195.8L322.0,195.7L324.4,195.5L326.5,195.1M286.3,196.9L287.2,195.2L286.9,193.1L288.4,192.5L289.3,191.6L290.7,190.3L291.8,188.6L293.3,187.2L294.1,185.7L295.3,184.8L296.9,185.7L298.5,185.2M286.3,196.9L286.5,198.5L288.2,199.6L289.2,201.6L290.7,202.1L292.7,201.3L293.4,202.5L293.0,204.1L295.1,205.1L296.4,206.0L297.3,207.1L299.2,206.9L301.0,207.6L302.2,209.7L303.3,211.2L304.8,211.1M311.0,200.6L310.1,202.0L309.9,204.2L309.7,205.5L309.4,207.1L308.5,208.5L307.8,209.5L305.8,209.8L304.8,211.1M329.3,217.0L329.1,216.8M352.0,199.7L351.4,201.0L351.7,202.9L350.8,204.9L350.1,206.5L351.6,207.2L352.6,209.5L352.4,211.2L350.8,212.1L352.0,214.3M352.0,199.7L350.6,200.0L349.5,198.8L349.2,197.4L347.8,196.5L346.4,195.8L345.0,196.5L343.6,197.2L341.2,196.8L340.2,195.6L338.5,195.8L336.8,197.6L335.0,197.3L333.7,197.6L332.3,198.0L331.1,197.3L329.9,197.1M329.1,216.8L330.6,215.0L330.2,213.2L329.9,211.6L328.7,210.8L329.3,208.4L330.3,206.3L331.3,205.4L331.8,204.1L330.9,201.9L331.0,200.0L329.9,199.2L329.9,197.1M334.9,179.6L334.4,180.8L334.4,182.4L335.7,183.0L336.2,184.4L335.1,185.3L335.4,186.9L333.5,187.6L333.8,189.5L333.5,190.8L333.3,192.1L332.0,192.8L330.5,193.7L328.9,195.5M354.5,196.7L354.1,198.9L352.0,199.7M354.5,187.0L352.3,186.2L351.3,184.4L350.0,183.4L349.1,182.5L346.7,183.2L344.8,182.0L342.6,183.0L342.1,180.8L340.2,179.8M354.5,196.7L355.8,194.9L355.7,193.5L355.4,191.9L353.8,190.0L353.5,188.1L354.5,187.0M329.9,197.1L328.9,195.5M361.8,217.4L362.9,217.1L364.2,216.5L365.6,217.2L366.8,217.6L368.5,219.4L369.8,220.7L370.9,221.6L372.3,222.2L374.4,222.9L375.9,223.6L377.0,224.5L378.7,225.8M378.7,225.8L379.4,224.0L379.7,222.6L381.1,221.2L382.8,221.5L384.0,220.6L384.3,219.3L385.1,218.1L385.2,216.9M385.2,216.9L384.4,216.2L383.9,214.7L383.0,213.5L381.5,212.9L382.8,212.0L382.7,210.2L381.5,209.1L381.3,207.7M381.3,207.7L379.4,207.0L377.7,207.1L375.8,205.5L374.8,205.0L373.4,204.4M370.2,199.5L370.4,201.0L371.6,202.6L373.4,204.4M354.5,196.7L356.1,197.6L358.4,197.4L360.9,197.5L361.6,198.6L362.3,200.2L362.8,199.0L364.1,197.7L365.4,197.3L366.8,197.9L368.8,197.8L370.2,199.5M355.4,218.4L356.7,217.0L358.4,217.1L359.8,216.6L361.8,217.4M367.8,241.7L369.4,240.7L370.8,240.9L372.3,240.2L372.9,238.0L372.6,235.6L374.2,234.1L376.1,232.7L378.1,233.1M378.1,233.1L377.6,231.9L378.0,230.5L376.9,229.0L377.6,227.4L378.7,225.8M491.0,187.8L490.8,189.8L489.4,191.1L487.3,191.2L485.9,191.2L484.9,192.7L483.3,192.0L481.8,193.1L481.4,195.1L480.0,196.9M497.4,210.4L495.4,211.4L493.8,212.9L492.3,213.1L491.5,214.8L489.7,214.9L488.4,213.6M488.4,213.6L487.5,212.7L487.0,211.1L485.5,210.7L484.5,209.6L483.1,207.6L484.1,206.3L484.3,205.0L482.5,203.9L481.9,202.4L481.1,201.2L479.7,199.5L479.3,198.1L480.0,196.9M276.4,186.0L277.2,187.1L277.1,188.4L276.1,190.0L277.5,190.6L278.6,191.6L280.3,193.1L281.4,194.1L282.2,195.5L282.8,197.3M286.3,196.9L284.7,196.6L282.8,197.3M298.5,185.2L298.8,182.8L299.0,181.1L300.5,180.0L299.2,178.1L299.1,176.9L298.5,175.5M282.8,173.7L283.7,172.2L284.5,170.9L286.5,170.7L288.4,170.9L290.1,169.7L292.1,169.9L293.1,170.4L294.8,171.1M282.8,173.7L283.3,175.6L282.7,176.9L281.7,177.5L279.7,177.7L278.0,179.2L278.2,181.0L277.8,183.2L277.1,184.3L276.4,186.0M298.5,175.5L297.4,174.5L296.1,174.3L294.8,173.2L294.8,171.1M325.6,158.4L324.7,156.6L323.4,155.9L321.9,155.2L320.9,155.4L320.5,153.2L320.8,151.1M325.6,158.4L324.9,159.9L326.0,161.4L325.0,162.8L324.1,164.7L323.4,166.9L323.4,168.4L322.3,169.5L321.8,170.7M321.8,170.7L320.0,171.4L317.6,171.4M317.6,171.4L315.7,171.1L314.5,170.2M338.0,145.7L339.2,147.4L340.0,148.9L340.8,150.0M321.6,147.2L321.9,149.3L320.8,151.1M340.8,150.0L340.4,151.5L339.9,153.1L339.0,155.4L339.3,157.3M339.3,157.3L340.7,158.7L340.6,160.3M333.2,176.3L331.4,175.8L330.1,176.2L328.8,175.0L327.1,175.1L325.4,175.1L323.5,174.3L323.6,172.4L321.8,170.7M294.4,163.4L293.2,164.8L293.4,167.1L294.3,168.8L294.8,171.1M298.5,175.5L300.5,174.9L301.3,176.5L302.6,176.5L304.2,175.6L304.6,173.7L306.0,173.9L307.5,173.4L309.1,173.0L310.9,173.2L311.6,172.4L312.7,171.2L314.5,170.2M301.8,155.4L303.9,154.6M294.4,163.4L295.9,163.3L296.5,162.0L297.1,160.6L297.0,159.0L298.1,158.7L299.1,157.4L300.3,155.8L301.8,155.4M328.9,195.5L326.5,195.1M313.4,239.6L311.4,239.9L310.1,239.5L308.5,239.7L306.8,238.5L305.8,236.9M305.8,236.9L306.3,235.2L307.9,234.8L308.2,233.4L307.4,231.5L307.8,229.8L307.3,228.1L307.3,226.8L306.9,225.6L306.2,224.0L305.0,222.3L305.1,220.1L306.3,219.5L307.1,218.6L307.2,217.0L306.4,215.9L305.6,214.2L304.2,214.0M324.1,218.4L321.8,218.8L320.2,219.1L318.6,218.5L317.0,216.9L314.8,216.8L313.9,215.4L311.6,215.8L310.8,214.7L310.0,213.7L308.6,213.3L307.4,213.4L306.6,212.4L305.1,212.4M304.2,214.0L305.1,212.4M315.7,242.6L313.8,241.3L313.4,239.6M329.1,216.8L328.0,218.2L326.9,218.6L325.5,218.8L324.1,218.4M294.0,239.4L295.5,239.0L297.7,238.6L299.3,238.1L300.5,238.7L301.8,237.8L303.8,238.5L304.6,237.8L305.8,236.9M294.0,239.4L294.4,238.2L294.0,236.8L292.4,235.6L291.0,235.4L289.6,235.0L289.7,233.7L288.6,232.2L286.5,231.3L286.2,229.0L284.1,227.9L283.8,226.2M283.8,226.2L283.6,225.5M304.8,211.1L305.1,212.4M280.0,221.0L281.9,222.5L282.8,223.8L283.6,225.5M280.0,221.0L279.8,219.1L279.5,217.0L279.6,214.6L279.2,213.1L279.2,211.8L278.6,210.2L278.0,207.8L278.8,205.5L277.8,204.4L278.3,202.5M278.3,202.5L279.6,201.3L281.4,200.4L283.0,199.2L282.8,197.3M251.0,475.5L250.9,473.9L251.1,472.8L252.9,471.7L253.8,472.6L255.4,472.2L257.0,470.4M257.0,470.4L258.3,469.7L260.5,469.3L262.2,468.2L263.3,467.1L264.6,465.6L266.0,465.8L267.3,465.7L268.2,466.3L269.7,466.6L271.3,467.0L273.4,466.4L274.0,464.2L276.0,464.6L277.7,462.9L279.0,462.1L279.7,460.5L281.1,460.4L282.5,460.6L284.3,460.7L285.8,461.1L286.5,462.2M286.5,462.2L287.7,462.8L288.6,463.8L288.5,466.3L291.0,466.7L292.1,468.9L292.7,471.2L291.6,472.8L292.1,474.6L293.3,476.3L294.1,477.4L295.7,477.1M290.5,499.1L290.5,497.0L291.5,495.2L293.1,494.6L294.4,494.3L295.1,493.1L294.7,491.4L294.9,490.2L294.5,488.8L295.6,487.0L294.8,485.4L295.9,484.1L296.0,482.9L296.8,480.5L296.3,478.6L295.7,477.1M415.0,549.5L416.9,548.3L417.7,546.5L419.0,547.2L420.1,547.4L421.1,546.3L422.6,545.1L424.4,544.7L425.6,544.3L426.3,543.0L428.6,542.2L430.7,542.9M440.4,565.5L439.1,564.8L438.2,563.9L437.4,562.2L438.0,560.1L438.0,558.7L437.1,557.4L438.3,556.6L438.3,555.1L438.2,553.3L439.0,552.0L439.1,550.7L438.1,549.6L438.1,548.1L436.9,546.7L435.3,545.1M430.7,542.9L430.8,544.4L432.5,545.1L433.7,544.3L435.3,545.1M451.0,538.5L449.7,539.3L448.2,539.8L445.9,539.5L444.1,540.3L443.7,542.7L441.6,543.0L440.7,545.3L439.4,544.5L438.0,544.9L436.7,545.7L435.3,545.1M451.0,538.5L451.4,540.4L452.7,541.7L454.5,541.4L456.6,542.0L457.5,544.0L459.6,544.5L461.6,544.4L462.6,545.0L463.0,546.5M460.3,568.2L459.8,566.4L460.2,565.0L461.1,564.0L462.0,563.0L461.8,561.2L461.8,559.7L462.3,557.4L463.1,555.6L462.0,554.1L461.7,551.7L462.2,550.8L462.5,549.3L462.5,548.0L463.0,546.5M583.5,217.7L585.6,217.2L587.8,216.8L589.3,216.0L591.0,215.7L592.3,215.7L593.6,215.1L595.2,216.6L597.4,216.7L598.8,215.6L599.8,216.4L601.3,216.1L602.6,215.0L604.1,213.3L605.8,212.7L607.1,212.4L608.5,212.2L610.3,211.5L612.3,211.7M589.4,238.3L590.8,238.8L592.8,239.4L594.4,238.9L595.5,239.7L596.5,240.3L597.9,240.7L599.4,239.5L600.3,241.4L601.5,242.3L602.7,243.2L604.5,243.6L605.8,244.1L606.6,244.9L607.7,246.8L610.0,247.2L611.6,247.6L612.7,247.8L614.3,247.6M569.2,245.5L570.9,244.4L572.3,243.5L573.7,243.6L575.3,243.8L576.1,242.5L577.3,241.7L578.8,241.6L580.6,239.9L582.8,240.4L583.9,241.5L585.5,241.8L587.1,241.4L587.7,239.8L589.4,238.3M579.0,216.2L581.1,216.6L582.5,216.5L583.5,217.7M381.3,520.4L378.8,520.3L377.0,520.3L375.9,520.9L374.2,519.9L371.9,519.1L369.6,518.4L367.6,517.2L366.6,515.5L365.5,513.9M379.0,538.5L379.8,537.4L379.5,535.5L381.2,534.8L381.7,532.9L381.1,530.8L381.0,529.5L379.6,528.6L379.1,527.0L379.6,525.8L378.9,523.9L380.3,522.4L381.3,520.4M365.5,513.9L364.0,515.4L362.5,515.2L363.0,516.6L362.2,518.2L360.9,519.3L359.1,520.5L357.4,521.6L356.9,522.8L357.3,525.1L357.2,526.5L357.9,528.0L357.1,529.2L356.0,530.5L354.7,531.8L354.0,533.0L354.1,534.5L353.2,535.9L351.9,536.7L350.8,538.1L349.6,538.3L348.4,537.3L346.9,538.8L346.5,540.4L346.6,541.6L345.4,542.6L344.2,543.7L344.4,544.9L344.8,546.3M403.0,541.5L404.4,540.0L404.3,538.6L404.4,537.3L404.8,535.2L405.1,533.8L406.3,532.6L407.7,532.1L408.5,530.5L407.4,529.3L407.9,527.5L406.1,525.7L405.3,523.4M381.3,520.4L382.5,518.6L384.1,518.3L386.2,517.8L387.5,517.3L388.7,516.6M405.3,523.4L403.7,523.5L402.5,522.9L401.6,522.4L400.6,521.2L398.7,521.2L396.5,521.8L395.2,522.1L394.1,521.0L393.4,519.4L392.0,518.9L391.4,517.4L389.9,517.8L388.7,516.6M530.1,305.7L529.5,307.2L530.2,308.2L530.6,310.6L532.2,312.1L532.5,313.6L532.5,315.6L531.6,317.1M530.1,305.7L528.1,305.1L526.6,304.7L525.4,304.7L523.9,303.3L522.9,301.8L521.3,301.0L520.7,299.3L518.5,299.5L517.1,298.3L516.6,297.0L516.3,295.7L514.8,295.7L513.8,294.6L512.0,295.4L510.8,295.5L509.5,295.5L507.8,295.0L505.9,293.7L503.8,293.5L502.4,294.9M500.2,316.1L500.1,314.8L500.8,313.3L502.3,312.2L503.1,311.0L504.0,309.9L503.8,308.4L502.8,306.4L501.6,305.0L500.5,303.8L500.3,302.5L500.2,301.0L500.0,299.9L500.7,298.5L500.8,296.0M500.2,316.1L502.2,316.0L503.8,317.6L505.1,316.5L507.3,316.2L509.6,315.8L511.2,316.2L512.4,316.6L514.0,317.4L514.5,319.1L516.1,320.4L518.2,320.8L520.4,321.5L522.1,320.9L524.2,321.7L525.3,321.1L527.1,320.8M527.1,320.8L528.3,319.8L528.2,318.3L529.6,316.9L531.6,317.1M502.4,294.9L500.8,296.0M490.3,262.5L488.5,263.6L486.5,264.3L486.9,266.3L485.3,268.2L484.1,270.0L482.7,270.9L480.7,271.9L481.1,273.2L480.2,274.7M481.7,281.4L480.7,279.7L479.1,278.9L479.8,276.9L480.2,274.7M481.7,281.4L482.4,282.6L483.4,284.2L484.6,283.4L486.1,284.1L486.9,285.5L488.3,285.4L489.7,286.7L491.0,287.6L491.7,288.5L493.4,289.2L495.0,289.6L496.4,290.5L497.3,292.1L496.8,293.3L496.7,294.8M506.8,287.5L506.9,288.9L507.4,290.1L505.7,291.7L504.1,293.3L502.4,294.9M503.2,265.9L502.1,264.8L500.6,265.0L499.0,264.1L497.1,263.4L495.2,264.3L493.9,263.6L492.4,262.4L490.3,262.5M496.7,294.8L497.9,294.8L498.9,296.1L500.8,296.0M592.5,284.9L590.5,285.2L588.3,285.9L586.9,285.6L585.6,284.9L583.6,284.5M571.9,269.3L573.2,269.9L574.6,270.2L575.4,272.1L576.1,273.4L576.6,274.4L575.7,276.1L575.5,277.3L576.0,278.6L576.8,279.5L577.0,281.0L578.9,280.5L580.0,281.3L581.0,282.4L581.8,283.1M583.6,284.5L581.8,283.1M536.9,261.2L535.4,262.8L534.1,263.2L532.7,263.6M531.7,280.7L533.1,282.5L533.6,283.8L532.6,285.4L534.8,285.4L536.1,287.3M581.8,283.1L579.7,283.5L578.5,284.7L577.3,284.1L575.7,284.3L573.7,284.9L571.8,283.8L570.0,283.9L569.2,285.5L567.9,286.3L566.3,286.4L565.0,285.1L563.1,285.5L561.7,285.1L560.3,286.2L559.1,284.8L558.0,283.8L556.7,283.9L555.6,284.6L554.6,283.5L553.2,283.3L551.4,283.9L550.0,283.7L548.7,284.0L546.8,283.9L545.7,285.6L543.7,285.9L542.3,285.0L540.8,285.4L539.4,286.0L538.2,286.8L536.1,287.3M530.1,305.7L531.7,304.2L531.8,302.6L531.6,301.6L532.0,299.9L530.9,298.7L532.0,296.6L533.1,294.7L535.1,294.3L535.7,292.9M536.1,287.3L536.0,288.6L536.4,290.6L535.7,292.9M550.2,371.7L549.0,370.1M550.2,371.7L550.8,373.2L552.8,373.5L554.0,373.8L555.6,373.4L557.6,373.4L559.7,374.4L562.0,374.9L562.9,375.9L564.7,376.1L566.7,376.5L567.8,377.4L569.7,378.7M549.6,366.8L550.1,368.5L549.0,370.1M580.9,371.5L579.2,372.3L577.1,371.0L574.8,372.0L574.0,374.0L574.1,375.3L572.8,376.3L570.9,376.6L569.7,378.7M549.6,366.8L551.4,366.1L552.5,365.3L551.9,363.6L553.2,362.1L555.0,361.6L556.5,362.0L557.7,360.7L558.8,358.5L560.3,357.6L561.4,357.2L561.7,356.0L563.1,355.3L564.3,353.9L565.6,352.4M605.2,371.5L602.9,371.5L602.0,369.9L600.3,369.5L598.7,370.7L597.2,371.9L596.0,373.8L594.3,374.2L593.1,373.5L591.9,372.1L590.3,371.5L588.4,372.1L586.6,371.9L585.8,373.2L584.2,373.3L582.9,372.0L580.9,371.5M597.1,338.6L596.0,339.0M600.2,338.6L598.4,339.3L597.1,338.6M583.6,284.5L582.7,285.7L581.0,286.3L579.6,288.0L580.0,290.4L579.2,292.4L578.5,293.6L578.0,294.8L576.6,296.3L574.9,296.4M535.7,292.9L536.6,294.9L538.2,295.4L540.3,295.6L541.7,295.9L542.5,297.9L543.9,298.8L545.8,299.7L547.2,299.9L548.4,299.7L549.3,300.8L550.9,301.7L552.5,302.9L553.5,304.0L554.8,305.2L556.3,306.6L557.1,307.5L558.7,307.5M574.9,296.4L573.6,297.9L572.3,299.5L570.0,299.6L569.0,301.4L567.2,301.5L566.0,301.8L564.1,301.9L564.2,303.5L562.5,305.0L561.5,307.0L560.3,307.6L558.7,307.5M531.6,317.1L532.5,316.1L533.8,315.0L535.7,315.6L537.1,315.6L539.5,315.9L539.6,317.5L541.1,318.1L542.9,318.9L544.4,319.8L545.7,319.9L547.3,320.3L549.0,321.3M558.7,307.5L558.6,308.6L558.3,310.3L557.5,312.1L556.2,313.3L555.7,314.9L555.0,316.0L554.9,317.3L553.3,318.6L551.5,318.0L550.3,319.9L549.0,321.3M574.7,398.9L574.2,396.6L575.3,394.9L575.7,393.4L574.6,391.8L575.2,390.3L574.3,389.4L573.7,388.2L573.3,385.9L572.3,384.9L570.9,384.3L570.4,382.5L568.9,381.6L569.4,380.0L569.7,378.7M550.2,371.7L550.8,373.9L550.3,376.1L550.0,377.8L548.7,378.7L548.0,380.3L548.8,381.9L549.2,383.1L550.1,384.4L549.0,385.8L548.6,387.3L547.1,388.9L547.5,390.7L547.8,392.5L548.9,394.2L548.2,396.2L547.0,397.5M574.7,398.9L573.6,398.7L572.2,398.8L569.9,399.4L568.8,400.8L568.3,402.2L568.2,403.3L566.1,403.8L564.5,403.5L563.4,402.8L561.1,403.8L559.8,404.4L559.0,405.5M559.0,405.5L558.9,403.2L557.1,402.2L555.6,401.4L554.5,401.9L552.0,402.0L551.6,400.7L549.9,399.8L548.6,398.1L547.0,397.5M523.0,394.5L523.7,396.6L525.7,397.2L527.5,396.1L528.6,396.7L530.0,396.8L531.5,397.9L532.3,398.9L533.4,400.6L535.0,402.5M523.0,394.5L522.2,393.8L521.1,392.6L520.8,391.1L521.7,389.4L521.0,387.7L521.3,385.9L523.3,385.2L523.9,382.9L522.8,380.9L522.8,379.5L523.4,378.3L524.2,376.7L523.6,375.4L524.0,373.8L525.7,373.0M525.7,373.0L528.0,372.5L528.5,370.9L530.4,370.2L531.7,369.0L533.0,368.6L534.3,369.0L535.4,370.0L537.3,369.5L539.5,369.9L541.2,369.7L542.4,370.9L543.6,371.0L544.9,371.4L546.4,371.9L547.3,370.5L549.0,370.1M547.0,397.5L545.7,398.8L544.1,399.4L542.9,399.8L541.5,401.0L539.6,401.8L538.0,402.4L536.4,403.1L535.0,402.5M100.0,269.7L98.1,270.2L96.9,271.6M320.9,435.2L320.8,433.8L320.0,432.3L320.5,430.6L320.1,429.2L318.0,428.1L316.5,427.3L316.4,425.2M316.4,425.2L316.3,423.0L317.3,421.4L318.1,420.3L319.9,420.5L322.0,420.1L323.5,419.6L325.8,419.5L326.5,417.9L327.9,417.2L330.2,417.1M329.6,440.4L331.1,439.9L333.0,439.1L334.1,438.2L335.9,437.9L338.0,438.4L339.5,437.3L340.8,436.0L340.6,434.2M340.6,434.2L340.7,432.2L339.3,430.9L340.5,430.7L341.5,429.2L342.1,427.5L341.0,426.1L341.0,424.3L341.3,422.5L342.4,421.2L342.2,419.9M320.9,435.2L322.5,436.7L324.3,438.2L325.8,437.7L327.1,438.5L328.6,438.8L329.6,440.4M342.2,419.9L340.8,419.5L339.0,420.3L337.6,419.0L336.3,417.9L334.1,417.7L332.5,418.7L331.5,417.7L330.2,417.1M269.1,444.1L270.8,443.7L272.4,442.5L274.0,442.1L275.4,443.2L277.3,443.8M269.1,444.1L269.3,441.7L268.0,440.4L266.0,439.9L264.8,439.3L263.0,439.4L261.4,438.4L260.3,437.2L260.2,436.1L259.1,435.0L258.0,432.9M258.0,432.9L259.5,431.9L259.3,430.6L260.3,429.5L261.7,429.0L263.7,428.9L263.6,427.7L264.8,426.7L266.3,425.5L267.1,424.5L268.2,424.0L269.8,424.3L271.4,424.5L272.9,423.8L274.1,423.2L275.9,422.8L276.6,421.4L277.2,420.3M277.3,443.8L277.5,442.0L279.1,440.5L279.7,439.1L281.0,438.1L282.1,437.0L282.2,435.0L284.1,434.9L286.4,434.1M257.0,470.4L258.2,469.0L259.7,467.9L260.2,465.9L259.7,464.3L258.9,463.5L259.3,461.2L261.1,459.9L263.3,459.2L264.4,457.2L265.3,455.5L264.0,454.5L264.2,453.2L265.3,451.8L264.5,450.0L266.2,448.5L265.9,446.0L266.9,444.5L269.1,444.1M286.5,462.2L286.8,460.5M286.8,460.5L285.9,459.1L286.4,457.4L284.6,455.8L283.5,454.5L283.6,453.2L281.3,452.7L280.6,451.1L281.6,449.9L279.8,449.3L279.3,447.5L278.6,445.4L277.3,443.8M247.6,436.0L249.1,434.8L249.7,433.6L250.8,432.9L252.3,432.0L253.7,432.6L255.7,432.2M255.7,432.2L258.0,432.9M286.8,460.5L287.3,459.3L288.3,458.1L289.6,458.3L291.1,457.8L291.1,456.3L292.3,455.4L293.7,455.2L294.8,455.0L295.6,452.6L296.8,450.9L297.9,451.3L299.6,451.1L301.1,449.1M296.3,434.2L297.6,434.9L297.8,436.3L297.5,438.1L299.0,439.9L299.1,442.2L298.6,444.1L299.6,445.8L299.7,447.7L301.1,449.1M296.3,434.2L294.3,434.2L292.2,433.7L290.6,434.1L289.1,434.2L287.8,433.6L286.4,434.1M211.8,432.9L212.8,430.9L213.2,428.8L213.2,426.9L214.8,425.8L213.4,425.1L212.2,423.4L211.9,421.3L213.1,419.4M194.7,412.3L196.4,411.0L198.5,411.2M213.1,419.4L213.2,417.5L212.4,415.9L211.0,415.8L209.2,414.5L207.3,413.7L205.2,413.4L204.4,412.5L203.3,411.7L201.3,410.7L200.1,410.9L198.5,411.2M373.9,190.8L375.9,191.3L377.4,190.7L378.3,189.7L379.8,189.6L381.7,189.5L383.7,188.5L385.6,188.6L387.2,188.6M381.3,207.7L381.6,206.2L382.6,204.9L383.4,202.7L385.7,202.3L385.4,200.9L386.0,199.2L387.2,197.3L389.3,197.4M387.2,188.6L387.3,190.9L389.1,192.2L388.9,193.4L389.0,194.9L389.3,197.4M402.8,147.8L401.7,148.7L401.4,150.0L402.4,151.2L402.4,153.1L404.0,154.2L404.6,155.7L405.4,156.7L405.0,159.0L403.7,160.6L403.1,161.8L404.7,163.5L405.1,165.5M405.1,165.5L405.8,166.0M359.3,139.7L358.9,141.0L360.0,142.6L358.9,143.6L358.2,144.7M338.0,145.7L338.2,143.7L339.5,142.8L339.6,141.1L339.0,140.0L338.0,138.9L337.6,137.1L338.0,135.6M341.3,132.1L339.7,133.3L338.6,134.1L338.0,135.6M340.8,150.0L341.1,148.8L342.3,147.9L343.7,147.4L345.2,147.0L346.8,148.8L349.3,148.5L351.1,148.9L352.4,148.1L353.7,148.6L355.3,148.5L356.4,146.9M358.2,144.7L357.6,146.1L356.4,146.9M380.3,152.2L379.2,154.2L380.1,155.7L379.2,157.3L378.0,157.8M358.2,144.7L360.2,146.1L361.2,148.0L362.8,148.6L364.0,150.0L365.5,151.4L367.3,151.5L368.6,151.8L369.9,152.0L370.5,153.5L372.1,154.5L373.7,154.5L374.9,155.7L375.9,156.5L378.0,157.8M354.0,166.0L355.6,165.6L357.8,166.0M523.8,217.8L523.8,220.2L525.6,221.9L527.2,222.0L528.3,222.7L530.1,223.5M523.8,217.8L521.7,218.2L521.0,219.6L519.6,221.2L518.1,221.8L516.2,221.3L513.9,222.1L513.8,223.3L513.6,224.8L511.8,226.0L511.6,228.3L510.3,229.7L508.1,230.3L506.9,231.3L505.8,231.6L504.6,231.7L503.4,230.7L501.9,231.1L500.7,230.8L499.0,231.6L497.7,232.9M530.1,223.5L529.5,225.2L527.8,226.5L526.3,228.2L526.9,230.2L525.3,230.7L524.5,232.6L524.1,233.6L522.9,234.6L522.1,236.1L520.4,236.8L519.3,238.6L519.7,240.2L520.6,241.2L518.7,242.0L516.7,243.4L516.7,245.7L515.8,247.4M515.8,247.4L513.6,247.0L512.5,246.2L511.3,245.6L510.2,245.1L508.8,245.0L507.8,244.0L506.4,243.9L505.0,243.2L503.3,244.1L501.8,242.7L500.8,241.7L501.6,240.3L500.7,238.9L499.9,237.4L497.9,236.6M497.9,236.6L498.1,234.4L497.7,232.9M544.1,226.4L541.9,226.1L541.3,224.4L540.0,223.5L538.2,223.3L536.7,222.3L536.0,221.3L534.4,221.3L532.9,222.8L531.2,222.8L530.1,223.5M522.6,215.2L523.8,216.4L523.8,217.8M488.4,213.6L489.0,215.5L488.5,216.6L487.4,217.4M487.4,217.4L488.1,218.7L490.0,219.5L491.2,220.6L491.5,221.9L491.2,223.3L490.7,224.3L491.1,225.3L491.8,226.6L492.5,228.7L494.4,229.1L495.1,230.4L496.6,232.0L497.7,232.9M518.1,256.8L517.5,255.5L518.5,254.2L517.2,253.1L516.3,251.5L517.1,249.3L515.8,247.4M490.3,262.5L488.3,261.0L488.0,258.6L488.8,256.8L488.9,255.5L487.5,254.3L487.6,252.2L486.6,251.2L485.4,250.4M485.4,250.4L486.6,249.4L487.5,248.3L487.5,246.1L489.7,245.2L491.8,245.8L493.0,244.5L493.4,243.4L494.6,242.4L494.5,241.0L494.0,239.8L495.4,238.9L495.6,237.2L497.9,236.6M502.7,398.9L504.1,399.0L505.3,399.6L507.3,401.1M523.0,394.5L521.8,393.8L520.4,393.1L519.7,394.5L518.0,394.6L517.0,395.7L515.4,395.9L514.5,397.8L512.6,398.5L512.0,400.2L510.8,400.6L509.3,400.6L507.3,401.1M525.7,373.0L524.0,371.4L521.6,371.5L519.7,370.6L518.9,368.3M502.7,398.9L501.3,398.1L500.9,396.5L500.9,394.8L501.9,392.5L500.2,392.0L499.5,390.5L499.1,389.1L497.8,387.6L498.1,385.4L497.8,384.1L497.1,382.6L496.1,381.2L495.3,379.7L495.6,378.1L496.6,377.4L497.0,375.9M518.9,368.3L517.6,368.8L516.2,369.3L514.5,369.8L513.1,370.7L512.0,371.6L511.1,372.2L509.5,372.5L508.6,374.1L506.7,373.9L505.3,373.3L503.8,374.3L502.8,375.9L500.8,374.9L499.3,374.7L498.0,374.8L497.0,375.9M294.4,163.4L292.3,162.9L291.5,161.7L291.1,160.5L289.5,159.7L287.4,159.0L285.5,158.4L284.3,156.8L283.2,157.0L282.0,156.0L280.5,154.9M279.9,153.0L280.5,154.9M118.3,234.9L117.8,233.1L119.5,231.5M116.9,225.0L118.7,226.4L119.8,228.0L120.1,229.8L119.5,231.5M485.4,250.4L483.0,250.7L481.4,251.9L480.4,250.2L478.2,249.9L477.1,248.7L475.2,248.1L473.3,247.5L472.4,246.1M462.7,270.3L464.6,271.1L466.1,272.1L466.9,273.1L468.7,273.0L469.9,273.1L471.3,273.9L471.6,272.6L473.2,272.1L475.6,272.0L476.3,273.2L477.8,273.8L479.3,273.6L480.2,274.7M462.7,270.3L462.5,268.4L461.5,267.0L462.5,265.8L462.2,264.5L463.5,262.5L463.4,261.2L463.2,259.8L463.3,258.0L462.1,257.0L463.1,254.8L464.3,253.0L464.3,250.7M464.3,250.7L465.8,250.6L467.2,250.4L468.8,248.7L470.1,246.6L472.4,246.1M487.4,217.4L486.0,217.9L484.6,218.4L483.8,220.7L482.1,220.2L480.6,219.7L479.7,220.4L478.4,221.1L477.8,222.6L475.8,223.1L474.8,224.5L475.2,225.8L473.0,225.5L470.8,226.3M472.4,246.1L472.7,244.7L472.7,243.5L473.8,241.7L473.9,240.0L472.8,238.4L473.3,236.9L473.2,235.7L472.3,233.6L473.4,231.3L472.2,230.4L470.9,229.3L470.3,227.6L470.8,226.3M405.8,166.0L405.3,167.8L406.0,169.8L405.0,171.3L405.7,172.7L407.5,174.3L407.5,176.5L406.0,178.2L407.0,179.4L406.5,180.7L407.7,182.4M410.3,186.0L409.6,185.1L408.0,184.5L407.7,182.4M410.3,186.0L412.0,185.8L414.2,185.5L415.2,184.5L416.7,184.0L418.8,183.9L420.6,183.9L422.9,184.6L424.8,185.5L426.2,186.0L427.9,186.0M433.6,177.1L432.7,178.6L433.1,179.9M433.1,179.9L431.0,181.0L430.0,182.4L428.5,182.2L428.5,184.2L427.9,186.0M449.1,246.0L449.5,243.8L449.7,241.9L451.0,240.8L452.5,239.7L452.6,237.8L453.8,236.6L454.3,235.2L455.0,234.3L456.1,233.2L456.4,231.1L457.3,229.8L456.5,228.1L455.7,226.7L455.7,224.4L456.0,223.1L456.9,222.1M449.1,246.0L450.1,247.4L451.7,248.4L453.7,248.5L455.6,249.2L456.9,249.2L457.7,250.6L459.2,250.1L460.4,249.8L462.1,251.2L464.3,250.7M470.8,226.3L469.4,224.8L467.8,224.5L466.9,222.9L465.1,221.9L463.5,220.8L462.0,220.2L460.4,220.4L458.5,220.9M456.9,222.1L458.5,220.9M368.2,251.0L370.6,251.6L372.2,253.2L374.2,253.5L375.3,252.4L376.4,251.9L378.0,252.8L380.1,251.9L380.5,253.0L381.8,253.9L383.5,254.9M378.1,233.1L378.7,234.2L380.1,234.8L381.3,235.1L382.7,235.0L383.1,236.8L385.2,237.9L386.8,238.0L388.2,237.9L389.5,239.0L390.9,238.6L392.2,239.1L392.9,240.3L395.3,240.7L396.1,242.7L397.4,243.3M383.5,254.9L385.1,254.2L386.6,252.4L388.9,251.7L389.7,250.5L389.9,248.5L391.1,248.5L392.7,247.8L394.7,247.2L395.9,246.3L396.2,245.0L397.4,243.3M303.9,154.6L304.5,153.1L305.4,152.3L304.8,150.4L303.8,149.0L304.6,147.0L305.9,146.9L306.7,145.4L306.1,143.4L306.4,141.9L305.7,140.3L305.2,138.0L305.7,136.5L306.6,135.8M321.6,147.2L322.6,145.1L321.8,142.8L320.1,141.9L318.6,141.1L318.5,139.6M306.6,135.8L308.2,136.8L309.7,136.0L310.8,137.0L312.2,136.6L313.3,138.5L314.9,139.0L317.0,139.9L318.5,139.6M338.0,135.6L336.8,134.4L334.6,134.6L332.2,134.6L331.0,134.5L329.4,134.7L328.2,134.7L326.9,134.6L325.7,133.0M318.5,139.6L319.8,138.4L319.5,136.8L321.0,136.4L321.9,135.4L323.5,135.5L324.2,134.4L325.7,133.0M273.5,147.7L274.7,149.3L276.9,149.8L277.8,151.4L278.3,152.6L279.9,153.0M273.5,135.1L272.6,136.5L272.2,138.5L272.2,140.1L272.5,141.2L273.3,143.1L273.0,145.0L272.7,146.2L273.5,147.7M273.5,135.1L274.9,134.7L275.8,133.4L276.2,131.8L277.7,130.7M295.1,132.4L293.0,132.4L290.8,132.1L288.5,131.6L286.9,130.6L285.9,129.7L283.5,129.3L282.0,131.0L280.1,130.1L277.7,130.7M306.6,135.8L305.9,134.1L304.3,133.1M304.3,133.1L302.7,132.6L301.8,131.8L299.9,130.7L298.2,131.1L296.1,131.9M295.1,132.4L296.1,131.9M271.9,116.1L270.5,116.3L269.1,116.4L267.7,118.0L265.7,117.3L264.5,118.2L263.2,118.6L261.9,118.7L260.6,119.1L259.4,118.9L258.2,119.9L257.5,121.8L256.2,122.4L256.1,124.0M271.9,116.1L271.9,117.2L272.8,118.5L274.6,119.1L276.0,119.1M276.0,119.1L276.0,121.3L277.0,122.9L277.0,124.2L276.9,125.9L275.6,127.8L277.5,129.0L277.7,130.7M301.1,449.1L302.1,450.1L303.2,450.9L304.4,450.6L305.8,451.2L307.7,452.2L309.8,453.1M309.8,453.1L310.5,455.0L310.2,456.8L309.4,457.7L309.4,459.0L309.5,460.6L308.8,462.0L309.0,464.0M295.7,477.1L296.8,475.0L298.3,475.0L299.5,473.9L301.6,473.1L303.0,473.3L304.0,472.5M309.0,464.0L308.2,464.9L306.8,465.8L307.9,467.5L307.1,469.4L306.1,470.9L304.8,471.8L304.0,472.5M582.2,556.8L581.7,554.9L581.0,553.7L581.6,552.0L580.7,550.1L579.5,549.0L579.1,547.7L579.5,546.2M555.2,580.2L556.2,578.7L556.2,576.8L556.5,575.0L555.7,574.0L557.2,572.1L556.6,570.4L554.8,569.2L555.7,566.9L555.4,564.9L557.4,564.5L558.2,563.2L558.4,561.9L557.8,560.5L557.6,559.1L558.8,557.3L559.3,555.6L558.7,554.1L558.5,552.8L559.9,551.8L559.4,550.5L559.0,549.5M578.7,544.8L577.4,544.2L576.5,543.4L574.7,542.9M574.7,542.9L573.0,543.2L571.9,543.9L571.0,544.8L571.4,546.5L569.2,546.9L567.8,547.6L566.5,547.8L564.7,547.6L563.4,546.8L562.2,547.0L560.3,547.9L559.0,549.5M484.3,571.1L485.4,569.6L484.9,568.0L485.7,566.4L487.2,565.4L486.5,564.2L485.0,563.4L484.8,562.2L485.2,560.8L486.7,559.8L487.3,558.5L488.0,556.9L487.4,555.4L488.6,554.2L488.5,552.7L487.9,550.8L487.0,549.5M463.0,546.5L464.9,547.1L466.8,546.5L468.4,545.3L469.8,545.2L471.5,544.7L471.9,542.9L473.7,542.0L475.0,541.5M475.0,541.5L475.7,542.8L477.4,543.1L479.2,543.9L479.8,544.9L479.7,546.4L481.7,547.9L483.3,547.9L484.0,546.9L485.8,548.2L487.0,549.5M487.0,501.5L486.5,499.5L484.5,498.3L482.8,498.1L481.7,497.5L479.5,497.0L477.9,496.9L475.9,496.2L475.1,495.3L475.0,493.5M487.0,501.5L485.4,502.6L484.6,503.6L484.7,504.8L484.4,506.1L484.7,507.2L485.1,508.8L486.1,509.9L486.4,511.1L485.5,512.3L485.1,513.4L483.8,515.2L485.3,516.9L484.8,518.0L484.7,519.6M460.7,516.6L461.4,515.6L461.5,514.1L463.3,513.1L463.0,510.7L461.9,509.4L462.0,507.7L461.9,505.3L461.3,504.3L460.7,502.9L461.7,500.9L462.2,499.5L463.0,498.5M460.7,516.6L463.2,516.2L464.6,516.7L465.9,516.6L468.2,517.4L469.9,518.5L471.8,519.3L472.9,521.5L474.6,521.5L475.7,522.1L477.3,523.4M463.0,498.5L465.1,498.3L466.3,496.3L467.2,495.5L468.8,495.3L470.4,495.0L471.3,493.1L473.2,493.8L475.0,493.5M477.3,523.4L478.4,522.1L480.5,522.3L482.4,521.2L483.7,521.1L484.7,519.6M475.0,541.5L475.7,539.6L476.5,537.6L477.0,535.6L478.4,534.9L478.9,533.5L477.7,532.0L477.9,529.9L478.3,528.0L477.6,525.7L477.3,523.4M451.0,538.5L451.6,536.7L453.1,536.1L453.7,534.7L453.6,533.4L452.9,531.4L453.0,529.9L454.0,529.0L453.2,527.5L453.2,525.2L452.9,523.0L452.5,521.7L453.3,520.4M453.3,520.4L455.1,519.9L456.1,518.1L457.6,517.6L458.2,516.3L459.2,517.0L460.7,516.6M453.3,472.4L454.7,471.6L455.9,471.5L457.1,471.5L458.3,472.1L459.5,470.0L460.7,468.6M451.0,490.5L449.9,489.3L450.3,488.0L450.6,486.0L451.8,484.2L452.8,482.7L452.0,481.1L453.8,479.9L453.8,477.5L453.4,476.4L453.5,475.1L453.7,473.5L453.3,472.4M451.0,490.5L452.5,490.3L453.9,490.5L455.3,491.1L456.7,490.7L458.0,492.3L458.1,494.1L458.6,495.2L459.7,496.0L461.5,496.4L462.7,497.4L463.0,498.5M460.7,468.6L462.4,469.0L462.8,470.3L464.1,470.2L465.5,469.5L467.3,470.3L468.9,470.9L470.6,471.6L471.7,470.9L473.1,472.5L475.6,472.8L476.7,474.3L477.3,475.4M477.3,475.4L476.5,477.3L476.2,478.5L475.4,479.8L476.0,481.1L475.8,482.4L476.1,483.8L476.1,485.1L477.1,486.8L477.2,488.9L476.7,490.6L476.6,491.9L475.0,493.5M362.4,260.3L362.2,262.1L363.3,263.8L362.2,265.2L362.3,266.5L364.1,266.3L365.5,268.0L366.4,269.3L366.7,271.3M366.7,271.3L368.8,271.8L370.9,270.8L371.7,272.8L373.7,273.2M444.0,366.7L442.2,366.3M444.0,366.7L445.9,366.1L446.7,363.9L446.6,362.6L447.7,361.5L448.9,360.9L449.8,359.8L451.1,359.8L452.4,358.8L453.8,358.9L454.7,357.8L456.5,356.9L457.1,355.2L457.7,352.8L459.4,351.7L459.4,350.2M442.2,366.3L440.1,365.5L439.6,364.0L439.4,361.6L440.6,360.2L440.6,358.7L440.5,357.0L439.8,355.9L439.5,354.2L440.2,352.7L440.3,350.5L439.7,349.5L438.6,348.3L437.4,346.5L438.2,344.9M459.4,350.2L460.0,348.8L459.2,347.6L459.6,345.3L458.7,344.0L457.5,343.4L457.2,342.0L455.4,341.2M455.4,341.2L453.9,342.1L452.6,343.3L450.9,342.7L449.8,342.0L447.9,342.6L446.0,341.6L445.1,340.7L443.5,339.9M443.5,339.9L442.4,341.5L441.2,342.4L439.9,342.1L438.8,343.2L438.2,344.9M453.4,375.0L455.0,375.4L456.7,375.2L458.0,375.9L459.7,375.5L460.8,374.3L461.9,373.9L463.1,373.9L464.6,374.9L465.9,375.8L467.2,375.4L468.9,374.5L469.8,373.5L471.9,373.0L474.2,373.2M474.2,373.2L473.8,372.1L472.7,371.1L472.9,369.6L472.0,368.5L473.1,367.1L473.5,365.7L472.2,363.6L472.5,362.1L471.2,360.8L472.9,359.8L473.4,358.1L472.5,356.3L473.3,354.5L472.3,353.6L471.6,352.6M471.6,352.6L469.9,353.5L468.4,352.5L467.3,351.4L465.7,351.7L464.3,350.7L462.7,350.2L460.7,351.0L459.4,350.2M453.4,375.0L452.9,373.0L453.6,371.5L451.4,371.1L450.3,369.2L448.8,368.2L447.9,366.4L445.8,367.5L444.0,366.7M422.1,274.9L422.0,276.8L421.6,278.4L419.8,280.1L420.5,281.0L421.4,282.3L421.3,283.6L421.1,284.8M422.1,274.9L423.8,273.5L423.7,271.7L425.0,270.7L426.6,271.0L427.5,268.9L428.5,267.0L429.9,266.0L430.5,264.4L430.8,263.1L431.7,261.9L433.2,261.8L434.3,261.3L436.1,260.9M439.5,283.3L440.1,282.2L441.2,280.6L441.8,279.1L441.1,277.8L441.6,276.2L441.5,274.9L440.6,272.9L439.6,271.0L438.7,269.7L439.0,268.0L440.1,266.8L439.9,265.6L438.4,263.8M439.5,283.3L438.7,284.3L437.2,284.7L436.1,285.5L435.0,286.3L433.3,286.0L431.9,285.2L430.7,286.2L429.6,287.0M429.6,287.0L428.1,288.1L426.8,287.4L424.8,286.1L423.1,285.0L421.1,284.8M436.1,260.9L437.0,262.8L438.4,263.8M460.0,272.1L458.4,271.9L456.9,271.3L455.6,269.6L454.7,268.0L452.6,268.2L451.7,269.5L450.2,268.8L448.7,268.4L448.2,266.9L446.7,266.3L445.3,266.7L443.6,266.3L442.7,265.3L440.8,265.1L439.1,264.9L438.4,263.8M462.7,270.3L461.3,270.7L460.0,272.1M435.5,257.6L435.2,256.5L434.9,254.8L435.6,253.8L436.7,252.7L438.3,252.5L439.4,251.5L440.7,249.6L441.1,247.9M441.1,247.9L442.1,246.5L443.9,244.9L444.8,246.2L446.2,246.3L447.8,245.3L449.1,246.0M435.5,257.6L435.8,259.1L436.1,260.9M464.4,326.7L463.8,328.8L464.0,330.7L462.9,331.6L462.5,333.3L460.7,334.6L460.7,336.2L459.3,337.0L459.3,339.0L457.1,339.4L455.4,341.2M464.4,326.7L462.6,325.1M443.5,339.9L442.4,338.2L441.6,337.1L442.1,335.5L441.5,334.1L442.8,332.5L444.2,331.0L443.0,329.9L441.9,328.1L440.7,327.2L440.9,325.4L442.0,323.6M442.0,323.6L444.2,323.4L445.7,323.6L447.1,323.1L447.3,324.5L448.4,325.4L450.4,325.2L451.9,325.7L452.9,326.5L454.4,327.5L456.3,326.6L458.1,325.9L460.2,325.5L462.6,325.1M336.2,448.9L336.0,447.6L334.4,446.8L335.0,445.3L334.5,443.9L332.1,443.9L330.7,443.6L330.0,442.0M336.2,448.9L335.7,450.2L336.5,451.5L336.6,452.8L335.3,453.9M335.3,453.9L334.7,455.9L333.4,457.2L332.0,458.3L330.1,457.9L328.7,457.2L327.4,456.7L326.1,457.2L325.1,458.3M323.1,455.9L324.3,457.0L325.1,458.3M329.6,440.4L330.0,442.0M348.1,440.4L348.6,442.6L347.3,443.2L347.0,444.9L346.4,447.1L344.9,448.1M344.9,448.1L343.3,447.6L341.0,448.3L339.0,449.2L337.8,448.3L336.2,448.9M340.6,434.2L342.0,434.8L343.0,436.5L344.7,436.5L346.3,435.8L347.6,437.0L348.7,437.9L348.7,439.1L348.1,440.4M320.9,435.2L319.6,436.0L318.8,437.6L319.1,439.5L320.0,441.1L318.6,442.9L317.4,445.0L317.0,447.4L315.4,449.2L313.4,449.2L312.3,450.1L312.3,451.5L311.2,452.5M311.2,452.5L312.9,452.4L314.4,452.4L316.0,452.7L317.6,453.2L318.2,454.6L319.8,456.1L321.7,455.2L323.1,455.9M453.3,520.4L451.3,520.5L449.3,521.7L447.0,521.5L446.5,520.2L445.6,519.4L444.5,517.9L443.7,516.8L441.6,516.7L441.3,515.4L439.7,514.8M451.0,490.5L450.1,491.3L448.5,490.9L446.2,490.7L444.2,491.0L442.9,492.1L441.8,493.1L440.6,493.2L439.1,493.4L437.5,493.3L436.6,494.6L435.2,494.9L435.3,497.1M435.3,497.1L434.9,499.1L434.6,500.3L434.8,501.8L436.5,503.5L435.6,504.8L435.7,506.4L437.3,507.6L439.2,507.9L439.7,509.3L439.8,511.8L438.9,513.4L439.7,514.8M430.7,542.9L429.5,540.9L430.5,540.0L430.9,538.5L431.0,537.0L430.2,535.9L429.8,533.7L430.3,532.7L431.0,531.3L430.1,529.1L428.8,527.1L427.4,526.4L426.3,525.2M439.7,514.8L438.7,515.9L438.1,517.2L436.1,517.7L434.0,518.7L434.0,520.0L433.5,521.8L431.6,521.6L430.5,522.3L428.8,522.1L428.4,524.0L426.3,525.2M405.3,523.4L407.3,522.2L408.1,521.5L409.6,520.9L411.3,519.8L412.7,519.6M426.3,525.2L424.0,525.5L422.3,526.3L421.1,525.0L420.0,524.2L419.0,523.7L418.2,521.7L416.8,520.3L415.2,519.5L412.7,519.6M477.8,375.5L477.8,376.9L477.5,378.5L477.3,380.0L476.2,380.9L474.9,381.5L474.7,383.2L475.4,384.3L474.9,386.1L473.3,387.5L472.5,389.1L472.9,390.6L473.8,392.6L473.4,393.8L473.3,395.4L474.4,396.2L475.0,397.5M477.8,375.5L479.7,375.2L481.2,374.9L482.7,374.6L484.2,374.3L486.3,374.9L488.5,374.5L490.4,373.8L491.8,373.5M497.0,375.9L495.4,375.9L493.5,375.6L492.7,374.7L491.8,373.5M502.7,398.9L501.4,400.0L499.6,400.2L498.5,399.3L496.9,399.8L494.8,400.0L493.6,402.1L491.8,402.8L490.6,403.6L490.2,405.0L488.8,406.0L487.0,405.5M487.0,405.5L487.7,403.3L486.6,402.4L486.2,401.2L484.8,399.6L482.3,399.8L480.2,399.0L478.8,398.7L476.8,398.4L475.0,397.5M474.2,373.2L476.6,373.3L477.8,375.5M451.0,394.5L450.8,392.9L451.7,391.2L452.3,389.1L451.0,387.3L451.6,385.7L450.9,384.6L452.4,382.6L453.3,380.8L452.8,379.6L453.3,378.2L453.2,376.6L453.4,375.0M451.0,394.5L453.0,395.8L454.7,396.3L454.6,397.9L456.1,399.4L458.4,399.1L459.8,401.0L461.0,401.9L463.0,402.5M463.0,402.5L464.2,401.0L466.0,399.4L467.2,398.3L468.9,398.0L470.3,398.8L472.4,398.6L473.3,397.7L475.0,397.5M391.0,498.5L390.2,497.6L389.0,496.8L389.3,494.7L386.9,494.4L385.1,493.7L384.2,491.8L383.2,490.6L381.2,490.6L379.0,490.5M379.0,490.5L377.0,491.2L375.7,492.7L374.3,492.7L372.9,493.2L372.4,494.7L370.8,495.0L368.8,494.8M388.7,516.6L388.6,514.3L389.8,513.7L390.6,512.8L389.5,512.0L389.5,510.4L389.3,508.6L388.1,508.1L389.8,506.6L391.2,505.7L391.1,503.9L390.8,502.1L389.5,500.7L390.6,500.1L391.0,498.5M365.5,513.9L364.3,512.2L364.6,510.4L364.2,508.9L362.9,508.4M368.8,494.8L369.6,496.5L368.4,498.4L366.3,498.8L364.6,499.2L364.1,500.7L364.0,501.9L364.7,503.3L365.0,505.3L363.6,506.4L362.9,508.4M327.2,531.5L328.6,531.6L329.7,530.2L331.0,528.8L331.6,527.2L330.8,525.0L331.4,523.5L332.7,521.9L333.5,520.2L333.9,518.3L335.4,517.3L336.8,516.4L337.8,514.9L338.7,513.7L338.6,511.2L339.4,509.6L340.1,507.6L342.1,506.7M342.1,506.7L344.2,506.2L345.2,505.1M362.9,508.4L361.7,508.3L360.1,508.4L357.8,509.1L356.6,509.5L355.1,508.9L353.2,507.3L351.6,505.6L349.8,505.2L347.5,505.1L345.2,505.1M609.7,388.4L608.1,389.8L606.7,390.8L605.5,389.4L604.2,389.3L601.9,390.2L601.0,391.7L599.4,392.4L598.3,393.4L597.6,394.8L595.2,394.6L593.5,396.2L591.9,395.1L590.4,395.3L590.2,396.8L589.1,398.1L587.5,399.3L585.7,400.6L584.1,402.0L581.8,401.5L580.5,400.8L579.3,401.1M583.7,418.8L584.2,417.6L584.1,416.1L582.6,415.3L582.3,413.9L582.4,412.4L582.0,411.3L581.7,409.1L581.3,407.7L580.2,407.0L580.0,404.6L580.1,402.4L579.3,401.1M583.7,418.8L585.4,418.1L587.3,418.0L587.8,419.6L589.4,420.1L590.4,421.8L591.5,423.8L593.7,423.9L596.0,424.6L597.5,425.2L598.6,424.4L599.4,426.4L600.6,427.5L601.7,428.0L603.3,428.4L605.6,428.8L607.7,428.8L609.0,428.4L610.6,429.6L611.4,430.5L612.8,430.9M574.7,398.9L577.0,399.6L577.9,400.3L579.3,401.1M550.6,334.6L551.1,333.0L552.0,331.8L552.1,330.7L552.1,328.7L551.9,327.2M551.9,327.2L553.1,326.9L554.6,327.4L556.4,327.3L558.2,327.1L560.5,327.7L562.4,328.8L563.6,329.1L565.3,329.5M565.3,329.5L567.2,330.0L567.2,331.4L567.9,332.5L569.7,333.6L569.6,335.4L570.9,336.8L572.3,337.7L573.5,338.9L573.2,341.3M566.1,349.6L567.4,348.3L568.4,347.6L569.8,347.0L570.2,345.7L571.1,343.8L570.9,342.3L573.2,341.3M542.0,346.9L540.7,347.7L539.4,347.0L537.0,346.6L534.6,347.1L533.1,346.3L532.6,344.4L530.7,343.7L528.3,343.4L526.3,343.5L524.9,342.9L523.6,342.5L522.6,342.1M542.0,346.9L543.8,345.9L544.5,344.4L544.1,342.0L544.3,340.4L545.2,338.7L544.6,337.2L546.2,335.4L547.6,336.4L549.1,336.2L550.6,334.6M522.6,342.1L523.2,340.6L523.6,339.3L525.4,337.7L526.5,336.3L526.5,335.0L525.9,332.7L526.6,331.1L526.1,329.8L525.8,328.4L525.1,327.0L525.0,325.8L526.3,325.1L527.5,323.8L526.5,322.3L527.1,320.8M549.0,321.3L550.4,322.0L550.8,323.5L552.1,324.1L552.5,325.3L551.9,327.2M549.6,366.8L549.6,365.4L549.7,364.3L548.4,362.6L547.5,361.4L546.2,359.7L545.2,358.0L544.4,356.5L543.0,356.2L543.2,355.0L542.4,353.5L541.9,351.6L542.3,349.7L541.9,348.6L542.0,346.9M565.6,352.4L565.4,350.6L566.1,349.6M596.0,339.0L595.0,337.9L593.5,337.4L592.3,337.5L590.9,337.6L589.1,336.6L587.9,337.1L587.1,338.6L585.2,338.1L583.6,338.1L581.3,337.7L579.7,338.1L578.7,339.6L577.5,340.7L576.4,342.0L574.7,341.0L573.2,341.3M583.7,418.8L582.2,418.0L580.4,418.7L579.4,419.5L578.6,420.7L577.5,422.8L577.3,424.6L577.0,426.4L575.1,427.7L573.7,428.1L572.2,427.9L570.3,429.2M559.0,405.5L559.1,407.7L558.0,409.0L556.6,409.3L557.3,410.6L558.6,411.0L558.8,412.8L558.7,414.4L557.0,415.2L556.7,416.7L556.4,418.9L557.5,420.3L557.6,421.5L556.7,423.6M556.7,423.6L558.1,425.3L558.6,426.8L559.4,427.7L561.1,427.4L563.1,428.6L564.8,429.3L566.1,429.0L567.3,429.0L568.6,429.4L570.3,429.2M579.3,449.1L577.7,448.9L576.8,447.9L574.7,446.9M612.2,435.3L609.9,435.7L608.5,436.9L607.5,437.8L605.5,439.0L603.7,439.6L601.8,439.5L599.7,439.7L598.1,440.7L596.1,442.1L595.2,443.7L593.7,443.9L592.3,443.3L590.6,443.3L589.9,445.6L588.0,446.8L587.0,447.5L585.4,448.1L584.0,447.6L582.9,447.7L580.9,448.0L579.3,449.1M570.3,429.2L571.3,431.0L572.3,432.1L572.1,434.0L571.1,436.1L572.3,438.1L571.8,439.7L571.0,440.7L571.8,441.8L571.9,443.5L573.1,445.5L574.7,446.9M127.1,273.9L125.7,272.0L124.2,270.7L122.2,270.0L120.9,270.7L119.5,270.0L117.6,270.9L116.0,271.2L114.8,270.9L114.3,269.7L113.2,268.5L111.4,269.0L109.8,267.8M127.1,273.9L129.1,272.6L131.4,272.7L132.2,270.4L133.7,269.7L134.2,268.2L134.5,266.9L135.8,266.2L136.3,263.7L138.4,264.5L140.1,263.1M109.8,267.8L111.5,266.5L112.1,264.9L113.6,264.6L115.0,264.9L115.6,263.8L117.2,263.1L117.0,261.5L116.8,260.0L118.0,260.3L119.8,260.3L122.2,260.1L123.9,259.1L125.0,257.6L126.4,257.1L127.5,256.4L127.7,254.8M107.0,267.9L108.6,268.1L109.8,267.8M127.3,249.0L127.5,250.3L126.3,251.4L127.1,253.4L127.7,254.8M151.0,364.6L151.3,362.7L150.1,361.7L149.1,360.6L147.6,360.4M151.0,364.6L151.3,365.7L151.2,367.1L151.5,368.9L151.6,370.1M140.2,357.8L141.9,357.0L144.0,356.7L145.2,357.2L146.8,358.2L147.6,360.4M124.0,374.0L125.3,373.9L126.4,372.9L127.6,371.5L128.8,370.9L130.6,369.1L131.9,368.7L132.6,367.6L133.7,366.3L133.8,364.5L135.5,363.1L137.3,362.6L137.5,361.1L138.0,360.0L139.0,359.0L140.2,357.8M151.6,370.1L150.3,371.8L150.3,373.3L150.1,374.4L148.8,375.4L149.0,377.0L147.5,378.1L146.1,378.4M169.0,361.0L167.8,361.5L166.8,362.4L165.3,361.8L164.4,361.0L164.1,362.4L162.7,363.1L160.7,363.2L158.9,362.6L157.6,362.3L155.6,361.8L154.7,363.3L153.4,363.5L152.3,364.4L151.0,364.6M169.0,361.0L169.8,359.0L169.0,357.3M169.0,357.3L169.5,356.1L169.4,354.3L170.7,353.0L172.5,352.4L172.2,350.5L174.0,348.8L175.5,348.8L176.3,347.4M176.3,347.4L175.0,347.9L173.3,347.6L172.2,346.5L171.5,345.1L169.6,343.7L167.8,343.1L167.6,340.7L166.8,339.6L165.1,339.3L164.0,339.7L162.7,340.3L161.4,338.8L159.7,338.2M155.7,339.6L158.1,339.6L159.7,338.2M96.6,289.5L98.2,291.3L100.6,291.4L103.0,290.9L104.8,291.0L105.8,290.0L106.3,288.9L108.7,288.8L109.8,288.5L111.3,288.8L113.0,289.7L114.4,290.3L115.9,290.9L118.0,290.2L120.3,290.7L122.2,290.8L124.6,290.6L126.8,291.4L129.2,291.5M102.0,315.9L104.3,316.3L105.3,315.4L106.8,315.9L109.0,315.1L110.5,314.3M110.5,314.3L112.1,314.4L113.9,313.6L114.6,312.2L115.7,310.4L116.6,309.8L117.6,308.7L118.4,307.2L118.9,305.8L119.8,304.8L120.7,303.3L122.4,302.5L124.8,302.2L126.3,300.8L128.6,300.1L130.1,301.3L131.0,299.3L132.2,298.5M132.2,298.5L132.0,296.5L131.6,295.3L131.9,293.8L130.8,291.9L129.2,291.5M127.1,273.9L128.4,275.8L128.8,276.9L129.4,278.2L129.1,279.8L129.8,282.1L131.1,283.1L131.9,284.0M129.2,291.5L129.5,289.7L128.8,288.4L128.9,287.0L130.6,285.4L131.9,284.0M149.0,384.8L148.3,383.3L147.9,382.2L146.8,380.6L146.1,378.4M157.2,388.2L158.3,387.6M157.2,388.2L156.9,386.6L156.3,385.7L154.7,385.5L153.5,384.1L151.6,384.1L150.4,385.0L149.0,384.8M169.0,361.0L167.7,361.9L167.9,363.7L168.8,365.9L170.3,367.5L170.2,369.1L171.8,370.1L173.3,369.5M176.3,347.4L178.3,346.3M178.3,346.3L178.4,348.5L180.0,349.6L180.2,351.0L181.7,351.8L182.8,352.0L184.7,352.0L186.9,352.9L188.9,353.9L190.1,354.8L191.1,356.2M173.3,369.5L174.9,370.6M155.1,406.1L156.8,407.8L158.3,407.7L159.7,408.2L160.9,408.1L162.6,408.6L163.7,407.7L165.3,407.1L166.4,406.5L167.9,406.5L169.1,406.2L170.5,405.8L172.2,405.3L174.1,403.7M174.1,403.7L173.5,402.1L173.1,400.6L172.4,398.9L170.9,396.9L171.2,395.0L170.6,393.7L170.4,392.6L169.6,391.4L169.7,390.0L170.4,388.6L171.5,388.1M155.1,406.1L156.2,405.5L157.6,405.1L158.3,403.3L158.1,401.0L157.9,399.3L157.9,397.9L158.4,396.5L157.6,395.1L157.1,394.1L156.6,392.5L157.8,390.4L157.2,388.2M171.5,388.1L169.8,389.1L168.5,390.9L167.1,390.5L165.3,390.0L162.8,389.9L161.0,388.9L159.5,389.1L158.3,387.6M194.4,370.9L192.9,369.9L192.7,367.7L192.4,365.6L192.2,363.3L192.7,361.8L193.2,360.3L192.4,358.6L193.2,356.4M194.4,370.9L195.2,372.7L195.7,374.2L197.3,374.8L198.6,376.0L200.8,375.2M208.4,376.0L207.1,376.1L205.7,376.3L204.2,375.1L202.3,375.0L200.8,375.2M208.4,376.0L207.3,374.2L207.2,372.4L208.7,370.8L209.8,368.8L210.2,366.8L209.3,365.4L210.7,363.5L211.3,361.3M211.3,361.3L209.6,359.7L208.3,357.9L208.1,356.4L207.0,355.6L205.4,354.2M193.2,356.4L194.6,355.6L196.0,354.7L196.9,353.3L196.9,352.0L198.1,351.7L199.6,351.2L201.8,352.3M201.8,352.3L203.2,353.7L205.4,354.2M140.4,393.1L142.3,394.6L142.0,396.2L142.8,397.1L143.0,398.5L144.6,399.3L144.6,401.0L144.0,402.4L145.8,402.5L147.1,403.3L146.9,404.7L147.7,405.9L148.0,407.3L147.9,408.5L148.5,410.2L149.4,411.3M149.4,411.3L148.2,412.2L148.1,413.6L147.5,415.5M117.2,376.7L119.3,376.6L120.9,375.7L123.1,375.6L124.0,374.0M149.0,384.8L148.6,386.0L147.2,387.0L145.5,387.5L144.8,389.4L144.0,390.5L142.5,391.2L141.3,391.6L140.4,393.1M155.1,406.1L153.5,406.2L152.7,407.3L151.3,408.5L150.6,409.8L149.4,411.3M146.0,430.1L144.9,428.8L144.6,426.9L144.4,425.5L144.4,424.3L145.2,422.2L144.8,421.0L145.0,419.4L144.6,417.6L146.6,417.4L147.5,415.5M180.7,408.1L178.8,407.1L177.3,407.4L176.0,406.7L174.8,406.2L174.5,405.2L174.1,403.7M410.3,186.0L411.0,188.4L411.5,189.9L412.7,190.3L412.1,191.9L410.5,193.8L409.5,195.1L407.3,196.2L406.7,198.1L407.3,200.1M429.5,192.5L428.9,190.9L427.5,189.6L427.6,187.8L427.9,186.0M418.6,210.7L416.9,209.6L414.6,210.4L414.2,209.3L414.0,207.8L412.1,207.5L411.0,206.8L409.7,205.1L408.6,204.7L407.1,204.0L406.8,202.0L407.3,200.1M389.3,197.4L390.4,199.3L391.3,200.0L392.9,200.3L394.1,201.4L396.1,200.7L397.5,200.2L398.4,199.4L400.4,200.0L401.8,201.2L403.7,201.5M385.2,216.9L387.1,216.7L388.1,215.5L389.5,215.5L390.7,215.3L392.2,216.9L394.2,217.7M387.2,188.6L388.1,186.6M403.7,201.5L405.6,200.3L407.3,200.1M358.3,166.3L359.4,166.8L360.8,166.1L363.2,166.2L363.3,164.4L364.2,163.3L366.6,163.0L367.6,161.5L368.2,160.1L370.0,159.5L371.3,160.1L372.5,159.4L374.0,159.0L375.4,159.3L376.5,158.6L378.0,159.0M358.3,166.3L357.5,168.1L358.6,169.9L358.0,171.6L358.1,173.5L359.5,174.6L359.3,176.6L361.0,177.4L361.3,179.2M368.9,180.8L370.0,178.6L370.0,176.8L371.3,175.6L372.8,175.9L374.2,175.0L375.4,174.8L376.9,174.5L378.0,173.1L380.1,173.2L381.4,172.2L382.7,172.2M368.9,180.8L366.8,180.9L365.5,181.8L365.2,180.4L364.3,179.5L362.8,179.3L361.3,179.2M378.0,159.0L379.0,159.9L380.1,161.6L380.5,162.9L379.8,164.4L382.1,165.0L383.7,166.0L384.1,167.3M384.1,167.3L383.2,168.3L382.7,169.9L382.7,172.2M357.8,166.0L358.3,166.3M378.0,157.8L378.0,159.0M354.5,187.0L355.4,186.1L357.0,185.7L358.7,184.5L359.7,183.1L360.7,182.1L360.4,180.6L361.3,179.2M388.1,186.6L389.1,185.8L390.1,184.8L389.6,183.3L389.4,181.9L388.3,180.4L386.9,180.6L386.4,178.5L385.6,176.8L385.6,175.5L384.4,174.0L383.6,172.7L382.7,172.2M373.9,190.8L372.4,190.8L371.2,189.7L370.8,188.1L370.3,186.8L370.9,185.4L370.4,183.3L370.0,182.1L368.9,180.8M491.8,373.5L491.9,372.0L490.4,370.8L490.5,369.5L490.6,367.7L491.0,365.3L490.9,363.4L490.6,361.3L491.9,360.4L491.5,359.2L490.7,358.1L492.1,357.8L493.3,356.9L493.9,355.6L493.6,354.2M518.9,368.3L520.2,367.4L520.5,365.9L519.4,364.6L519.8,362.9L519.8,361.8L519.2,360.3L520.0,358.5L519.1,357.4L518.1,356.6L517.3,355.3L518.0,353.4L517.3,351.2L516.4,350.1L516.4,348.5M493.6,354.2L494.8,354.9L496.1,355.9L497.6,355.3L498.9,355.9L500.1,355.3L501.8,355.6L503.0,354.1L505.3,353.4L506.6,352.1L508.8,352.0L510.2,350.5L510.9,349.3L513.3,349.4L514.9,348.9L516.4,348.5M522.6,342.1L521.1,343.1L519.0,342.5L518.2,343.9L517.3,345.9M517.3,345.9L517.2,347.3L516.4,348.5M267.1,106.8L268.4,108.6L267.7,110.1L268.4,111.5L269.7,112.5L271.4,113.3L271.2,114.6L271.9,116.1M256.1,124.0L254.9,123.3L253.9,122.7M265.8,92.3L267.7,93.1L268.1,95.1L268.5,96.9L268.1,98.6L266.9,99.1L267.1,100.7L267.9,101.8L267.9,103.3L268.1,104.4M268.1,104.4L267.3,105.3L267.1,106.8M119.5,231.5L121.8,231.7L122.7,232.9L123.3,233.7L125.3,233.7L126.3,232.0L128.8,231.8L130.8,232.5L132.0,231.5M127.3,249.0L129.4,248.7L131.3,249.2L132.6,247.8L134.6,248.2L135.1,246.7L137.0,246.2L138.0,244.8L139.7,243.5M139.7,243.5L141.7,244.1L142.8,245.2L145.0,245.9M87.1,209.5L87.7,207.7L89.7,207.4L91.3,206.6L92.7,206.6L93.9,207.0L95.2,206.1L96.4,205.2L98.7,204.7L100.0,205.3L101.4,204.8L102.8,204.7L104.3,204.3L105.7,204.0L107.8,203.7L110.0,202.8M116.9,225.0L116.3,223.2L115.3,222.2L115.1,220.5L116.3,219.7L117.5,218.2L119.0,216.4L120.3,214.9L120.2,213.6L120.3,212.2L121.8,211.1L123.4,209.7M110.0,202.8L111.2,201.7L112.7,200.8L113.9,202.0L115.9,202.2L117.3,202.3L119.3,202.2L120.1,203.0L120.7,204.5M123.4,209.7L124.2,208.0L123.7,206.5L122.4,205.1L120.7,204.5M278.3,202.5L277.5,203.9L276.0,204.0L274.6,204.1L272.5,204.2L270.9,204.6L269.9,203.9L269.2,202.8L268.7,201.4L267.0,200.0L265.1,199.5L263.8,200.5L263.1,202.9L261.8,203.8L260.6,204.1M257.2,224.1L257.0,222.2L257.7,220.7L256.3,219.7L255.2,218.1L256.0,216.8L255.9,215.1L257.7,213.8L259.2,213.0L259.8,211.9L260.3,210.4L259.8,209.2L259.2,207.6L260.2,206.4L260.6,204.1M276.4,186.0L275.3,185.8L274.0,185.0L272.3,185.9L271.4,185.2L270.3,183.8L269.4,183.0L267.9,183.3L266.3,183.0L265.0,183.1L263.1,181.9L262.2,180.2L261.5,178.5M261.5,178.5L262.7,177.1L262.4,176.0L262.2,174.6L263.1,172.5L262.7,170.5M456.5,206.9L455.1,204.9L453.2,204.4L451.9,203.7L450.8,203.5L449.5,202.5L448.0,202.5M456.5,206.9L457.6,205.8L458.8,204.7L460.1,203.9L460.5,202.2L461.3,200.9L463.1,200.1L464.5,200.2L465.8,201.3L467.1,200.3L468.7,200.7L470.0,199.5L470.0,197.9L471.1,196.3L472.2,195.4L472.8,194.3M472.8,194.3L473.4,193.0L473.4,191.4L472.5,190.0L472.6,188.6L470.7,187.5L469.4,186.5L468.9,185.6L468.7,183.8L468.5,182.7L469.2,181.3L467.8,180.7L466.7,180.5L465.5,178.4M465.5,178.4L463.9,178.2L463.0,177.4M480.0,196.9L478.3,197.9L476.4,198.0L475.6,196.5L475.6,195.0L474.0,195.5L472.8,194.3M458.5,220.9L458.1,219.2L457.0,218.4L458.1,216.8L457.5,214.5L455.6,213.3L454.8,212.1L454.9,210.5L456.4,208.9L456.5,206.9M441.7,203.6L443.8,203.6L445.1,202.3L446.3,202.5L448.0,202.5M429.5,192.5L431.0,193.2L432.4,192.8L433.6,194.5L434.0,196.9L434.9,199.1L435.8,200.8L436.5,202.3L437.1,203.4L439.0,204.5L440.2,203.3L441.7,203.6M454.4,167.4L455.8,168.4L457.3,168.1L457.9,169.6L459.4,171.4L459.5,173.1L460.0,174.3L461.9,175.1L463.0,177.4M478.4,168.4L476.9,168.8L475.9,168.8L474.1,168.5L473.8,169.8L472.5,170.6L471.9,172.4L470.2,172.6L469.1,174.7L468.1,175.7L466.9,176.7L465.5,178.4M397.4,243.3L398.8,243.2M402.2,263.6L402.1,261.5L400.8,260.4L400.0,258.1L400.6,256.9L401.0,255.4L400.2,253.5L398.9,252.3L399.1,250.3L397.2,248.9L398.5,248.0L399.2,246.6L398.1,244.8L398.8,243.2M435.5,257.6L433.8,257.1L432.8,255.0L430.8,254.7L428.6,254.9L426.7,254.6L425.8,253.3L424.1,253.2L422.1,253.1L420.9,254.1M340.8,123.4L338.9,124.2L336.9,123.1L334.9,123.1L333.6,123.3L332.3,124.0L330.7,123.2L329.3,121.5L327.4,121.4L326.3,122.0L324.7,121.6M324.7,121.6L324.1,122.0M350.2,92.8L349.6,94.3L348.2,94.7L346.5,95.1L345.7,96.0L344.8,97.3L343.3,97.1L342.5,98.4L341.7,99.8L340.2,101.5L338.6,102.3L337.1,102.6L335.4,103.1L334.5,103.9L333.0,103.5M304.3,133.1L305.6,131.4L307.0,130.4L306.9,129.1L308.0,127.4L307.9,125.5L308.7,123.9L309.4,121.9L310.5,120.4L311.4,119.1L313.0,119.2M324.1,122.0L322.6,122.4L321.3,121.7L320.0,121.6L318.8,121.3L316.9,121.7L315.4,121.6L314.9,120.2L313.0,119.2M276.0,119.1L277.9,117.6L278.9,115.7L279.2,114.1L280.9,113.0L282.8,113.4L284.5,112.1L285.9,112.4L287.2,110.9M287.2,110.9L286.9,109.0L286.8,107.3L286.5,105.0L285.1,104.3L283.5,103.4L283.1,100.9M280.4,88.9L281.2,91.2L282.7,92.2L284.1,94.2L284.6,95.9M284.6,95.9L283.2,97.3L282.9,98.6L283.1,100.9M355.4,298.6L356.0,297.1L355.5,295.4L355.2,293.9L356.8,292.7L356.5,291.0L355.7,289.5L354.3,288.6L353.8,286.6M355.4,298.6L355.6,301.0L357.1,301.0L358.2,302.3L359.8,302.0L361.0,302.2L363.3,301.9L364.4,303.5L365.3,304.5L367.1,305.4L368.4,307.5M375.9,298.2L375.4,300.2L373.7,301.7L372.8,303.5L371.9,304.7L371.4,306.3M375.9,298.2L374.8,297.3L373.6,297.2L372.2,295.9L372.1,294.1L370.4,292.6L368.8,291.5L368.7,289.6L368.8,288.2L367.3,288.1L366.0,287.0L364.8,285.8L363.4,284.9L361.2,283.7L359.9,281.8M353.8,286.6L355.6,285.8L356.5,283.5M368.4,307.5L370.2,307.1L371.4,306.3M359.9,281.8L357.9,282.0L356.5,283.5M385.3,292.1L384.0,291.4L383.2,290.5L383.0,288.6L381.7,287.2L380.6,285.8L379.0,285.6L378.7,283.9L377.7,283.0L377.2,280.7L377.4,279.1L377.1,277.4L376.9,275.9L377.0,274.6L374.9,274.7L373.7,273.2M385.3,292.1L384.6,293.4L384.4,294.6L382.5,294.7L381.3,295.9L379.5,296.2L378.1,295.6L376.3,296.4L375.9,298.2M366.7,271.3L366.0,273.2L364.4,273.7L363.9,275.4L363.3,277.4L362.6,279.1L363.0,280.4L361.8,281.6L359.9,281.8M311.2,452.5L309.8,453.1M325.8,462.1L325.6,460.2L325.1,458.3M325.8,462.1L325.1,463.7M309.0,464.0L310.9,463.9L312.4,463.1L314.1,464.0L315.9,465.3L317.4,465.0L318.5,464.6L319.5,465.5L320.9,467.0M325.1,463.7L324.0,464.3L322.6,464.5L322.0,466.1L320.9,467.0M304.0,472.5L305.8,472.7L307.5,472.7L309.2,473.7L309.6,475.2L311.7,476.3L313.1,476.3L314.5,476.1M314.5,476.1L315.7,475.0L317.9,474.9L319.1,474.1L320.2,473.5M320.9,467.0L320.3,468.1L320.7,469.7L322.4,471.1L320.4,471.9L320.2,473.5M574.7,542.9L573.4,541.0L572.3,540.2L571.0,538.7L571.6,536.9L572.3,535.5L571.6,533.9L571.7,532.7L572.2,531.5L571.1,530.5L569.8,529.2L569.5,527.3L570.3,525.2M591.1,517.9L590.1,516.9L588.8,516.8L586.5,516.8L584.5,516.0L583.7,514.8M570.3,525.2L571.3,523.4L570.7,521.1L573.0,520.3L573.4,518.7L575.5,518.2L576.2,517.1L577.1,516.2L579.0,514.8L580.9,515.3L582.2,515.6L583.7,514.8M570.3,525.2L568.6,525.8L566.9,524.9L565.0,523.8L563.4,524.0L561.9,524.3L560.5,523.2L558.6,521.8L557.3,521.3L556.7,519.6M556.7,519.6L555.4,519.1L554.1,518.5L552.1,519.8L551.5,522.2L550.3,522.9L549.3,523.4M559.0,549.5L558.3,547.8L558.2,545.6L556.0,544.8L554.1,544.4L552.3,543.2L550.0,542.7L548.7,541.9L547.0,541.5M549.3,523.4L549.0,525.7L548.4,526.9L547.5,528.0L547.4,530.2L546.0,531.7L546.4,533.5L547.6,534.6L547.7,535.7L548.2,537.4L548.3,539.2L548.1,540.5L547.0,541.5M547.0,493.5L548.7,494.2L550.3,494.9L551.2,496.3L552.0,498.4L553.8,500.1L555.4,499.7L556.6,499.2L557.6,500.7L559.0,501.5M547.0,493.5L545.7,494.3L544.6,496.0L542.8,495.7L541.5,495.1L540.1,495.5L538.9,496.6L537.3,497.1L535.9,497.8L535.0,498.5M556.7,519.6L556.5,517.9L557.5,516.8L557.2,515.3L556.9,514.1L557.5,512.4L557.1,510.9L557.3,509.8L558.1,508.6L557.9,507.2L557.5,505.1L558.7,503.9L559.0,501.5M535.0,498.5L533.9,500.5L534.1,502.5L533.6,503.6L532.4,504.8L532.5,506.3L532.0,507.5L532.4,508.9L532.0,510.2L530.3,511.7L530.5,513.1L531.5,514.6L532.7,516.6M549.3,523.4L548.0,523.9L546.7,524.6L545.0,524.7L543.6,524.3L542.5,523.2L541.9,521.7L539.4,521.8L537.7,521.0L537.6,519.5L535.6,519.0L534.9,517.2L532.7,516.6M531.1,578.0L529.9,577.8L528.7,577.0L528.1,575.7L527.9,574.2L528.2,571.8L529.0,570.3L529.7,569.2L530.0,567.4L531.8,566.0L531.6,564.4L531.3,562.2L532.4,561.3L532.4,559.8L532.6,558.2L531.5,557.0L532.9,557.2L534.5,556.3L535.2,554.0L535.9,551.9L534.2,550.2L535.0,548.8L535.0,546.5M535.0,546.5L536.9,546.8L537.8,546.3L538.9,545.1L539.2,543.3L540.6,542.8L542.7,542.3L544.0,540.8L545.3,540.8L547.0,541.5M570.3,477.2L570.6,479.7L572.7,480.9L571.3,482.7L572.1,483.8L572.4,485.5L573.5,487.2L573.0,489.6L572.9,490.9L573.1,492.3L573.9,493.3L574.7,494.9M570.3,477.2L571.2,475.7L570.9,474.4L572.1,473.4L573.9,472.8L574.9,472.4L576.2,471.7L577.2,472.3L578.4,473.2L579.6,472.3L580.8,470.9L582.1,470.2L583.3,470.8L584.3,468.7L583.7,466.8M583.7,466.8L585.4,467.1L587.0,466.0L587.7,467.3L589.3,468.2L590.9,467.3L592.1,467.8L593.8,468.5L594.7,469.3L596.0,470.7L598.2,470.5L599.6,471.1L600.7,471.1L601.9,472.8L602.8,474.4L604.0,475.3M579.3,497.1L577.9,497.0L576.6,497.4L575.9,496.2L574.7,494.9M579.3,497.1L580.4,496.2L581.3,494.5L582.5,493.9L584.2,492.8L586.5,492.9L587.8,492.4L588.8,490.9L591.1,491.4L592.6,492.5L593.8,491.9L596.2,491.4L596.9,489.4L598.3,489.2L599.5,488.6M579.3,449.1L580.7,450.0L581.3,451.4L581.5,453.5L581.1,455.7L580.4,457.5L579.9,458.8L579.4,460.5L580.7,462.3L582.2,462.7L583.3,463.3L584.1,465.3L583.7,466.8M583.7,514.8L582.5,513.2L582.9,512.0L582.9,510.8L582.8,509.0L582.0,508.0L580.8,505.9L582.4,504.3L582.1,501.9L582.3,500.5L581.8,499.3L579.9,498.7L579.3,497.1M559.0,501.5L560.2,500.9L561.2,500.0L562.4,500.4L564.2,500.4L565.3,498.6L567.6,498.0L569.9,497.6L571.2,496.6L573.5,496.8L574.7,494.9M453.3,472.4L451.2,472.7L449.1,471.9L447.0,471.1L445.7,469.9L443.9,468.7L441.9,469.8L441.1,468.3L439.7,466.8M435.3,449.1L436.0,451.2L434.7,452.1L434.3,453.2L435.7,453.4L436.5,454.9L436.9,456.5L437.6,457.6L438.3,460.0L439.4,460.7L440.5,461.9L441.6,463.1L441.4,464.9L440.8,466.0L439.7,466.8M460.7,468.6L460.5,467.3L460.9,465.8L459.2,464.6L458.6,462.2L459.1,460.5L460.3,459.6L459.5,458.3L459.5,456.8L461.0,456.0L461.1,454.8L462.9,453.1L462.5,451.8L463.0,450.5M435.3,449.1L436.9,447.3L438.6,447.3L440.1,447.2L441.3,447.1L441.7,446.0L443.1,445.3L444.5,444.1L445.6,443.0L446.3,442.2L448.0,442.3L449.1,441.0L451.0,442.5M451.0,442.5L452.9,443.4L453.4,444.8L454.9,443.9L457.0,445.0L457.8,447.2L458.3,448.1L459.6,449.0L461.2,450.4L463.0,450.5M502.7,494.9L501.1,495.1L498.7,494.5L498.2,495.7L496.9,496.6L495.5,496.1L493.8,496.5L493.3,498.6L492.4,499.7L490.7,499.6L489.1,500.8L487.0,501.5M502.7,494.9L501.8,492.9L503.2,491.9L503.2,490.4L501.7,489.7L501.5,488.4L501.3,486.9L500.6,485.5L499.1,483.8L499.1,481.3L498.2,479.8L497.6,478.4L498.3,477.2M477.3,475.4L478.2,474.9L479.6,474.3L481.0,473.6L482.5,474.7L483.2,473.1L484.7,471.6M498.3,477.2L497.9,475.8L496.3,474.9L494.6,473.6L492.8,473.0L491.0,472.8L490.0,473.8L489.4,472.5L488.0,472.1L486.0,472.1L484.7,471.6M414.5,325.7L416.0,326.0L417.2,326.4L418.0,325.6L419.6,325.7L420.8,327.0L422.3,327.6L423.9,327.9L425.2,328.7M414.5,325.7L413.3,324.4L412.3,323.7L411.2,321.9L411.4,320.1L411.9,318.7L412.0,317.2L412.1,314.8L411.4,313.3M429.9,308.7L427.8,307.6L426.1,307.2L425.2,305.4L424.0,305.7L422.7,306.3L420.3,306.5M429.9,308.7L431.9,309.5L432.8,311.3L433.7,312.7L434.7,314.3L435.3,315.5L434.7,317.3L434.9,319.2L434.8,320.9M434.8,320.9L433.8,322.6L432.3,323.0L430.5,323.7L429.9,325.5L430.2,327.0L428.7,328.2L427.1,327.9L425.2,328.7M411.4,313.3L413.0,312.3L414.6,313.2L416.3,311.4L416.5,309.6L418.6,308.8L420.0,308.0L420.3,306.5M403.0,336.4L404.5,335.8L405.7,335.5L407.0,335.7L408.1,337.2L409.0,338.5L410.0,339.1L410.4,340.9L411.7,341.5L413.4,343.1L415.4,342.9L416.7,343.5L417.6,344.7L416.9,346.4L418.0,348.2M403.0,336.4L404.6,335.1L405.8,334.5L407.1,333.8L407.9,332.3L409.2,331.3L410.5,331.0L411.7,331.2L413.5,329.7L414.7,327.8L414.5,325.7M426.7,341.5L426.9,343.0L426.0,345.0L424.5,345.2L423.6,346.4L421.9,347.4L421.0,348.9L420.0,348.1L418.0,348.2M426.7,341.5L425.0,340.5L424.0,338.5L424.2,336.5L424.1,335.1L422.7,333.8L422.8,331.9L424.0,330.6L425.2,328.7M399.0,336.6L400.8,336.5L403.0,336.4M392.5,318.2L393.5,319.5L394.2,320.5L394.3,321.9L394.2,323.6L395.6,325.4L397.5,326.3L398.5,328.0L399.1,329.4L400.3,331.6L400.4,333.1L398.9,334.3L399.0,336.6M399.3,310.1L399.4,312.0L398.3,313.3L397.2,314.4L395.7,314.8L395.6,316.4L394.4,317.3L392.5,318.2M399.3,310.1L401.5,309.0L403.1,310.1L404.2,309.8L405.8,309.9L407.7,309.0L409.5,310.1L409.4,312.2L411.4,313.3M426.7,341.5L428.3,341.6L429.3,342.5L431.0,343.8L432.1,345.3L433.8,344.7L435.2,345.5L437.0,346.0L438.2,344.9M442.0,323.6L441.1,322.8M441.1,322.8L440.2,321.2L438.3,320.5L436.5,319.9L434.8,320.9M408.8,378.8L409.7,377.3L408.4,375.4L407.7,373.6L406.6,372.2L406.2,370.3L405.3,369.3L404.1,368.4L404.4,366.9L403.3,365.0M408.8,378.8L410.9,378.4L411.9,377.6L412.4,376.4L413.1,377.3L414.1,378.4L415.4,377.5L417.0,378.1L417.5,376.8L419.3,376.6L421.6,376.1L423.3,375.7L425.1,376.3M429.3,370.4L427.7,369.4L427.9,367.7L427.1,366.2L427.3,364.9L425.7,365.1L424.6,364.4L423.8,362.6L422.2,362.6L421.3,361.4L420.7,359.3L419.9,357.3L418.1,356.6L417.9,355.1L417.5,354.1M429.3,370.4L427.6,372.1L426.1,372.8L426.3,374.5L425.1,376.3M403.3,365.0L403.8,363.5L405.1,362.6L406.7,363.2L408.1,362.1L408.8,359.8L408.1,357.9M408.1,357.9L408.5,356.2L409.0,355.1L410.3,354.6L412.2,354.4L413.1,353.9L414.5,353.2L415.4,354.4L417.5,354.1M418.0,348.2L418.8,349.6L417.8,351.5L417.3,352.7L417.5,354.1M442.2,366.3L440.7,365.8L439.3,366.9L437.3,367.4L435.4,366.6L434.6,368.4L433.4,369.8L431.8,369.7L430.8,369.0L429.3,370.4M398.1,337.5L399.0,336.6M416.6,293.6L417.1,291.9L416.7,289.6L418.0,288.7L418.2,286.8M416.6,293.6L415.1,294.0L413.9,294.6L412.3,296.0L411.0,295.2L409.2,296.2L408.4,297.9L407.5,298.7L406.1,298.7L405.1,299.3L403.8,299.0L402.6,298.4L400.4,299.2L398.6,298.3L397.2,299.2L397.2,300.9M418.2,286.8L417.4,285.5L416.2,284.0L414.2,283.2L412.7,282.6L410.9,283.2L409.4,282.2L407.6,281.5L406.0,282.4M406.0,282.4L404.7,282.7L403.5,283.7L401.9,283.5L399.9,282.4L400.1,284.5L399.7,285.8L398.0,286.3L395.7,285.7L393.9,286.7M397.2,300.9L396.5,298.9L394.5,298.5L395.4,296.7L395.1,295.3L393.5,295.3L392.6,293.6L391.8,292.5L390.2,291.9M393.9,286.7L393.1,288.2L393.6,289.7L391.3,290.6L390.2,291.9M420.3,306.5L419.1,304.4L419.9,302.4L419.4,300.9L420.3,298.8L418.9,298.6L417.3,297.6L417.1,296.0L416.6,293.6M421.1,284.8L419.2,285.7L418.2,286.8M435.1,302.7L433.3,302.7L431.9,304.3L431.2,305.4L429.6,305.9L429.7,307.6L429.9,308.7M435.1,302.7L433.2,301.7L432.5,300.4L431.9,299.3L432.4,297.1L432.7,295.6L433.0,294.2L432.3,291.9L433.3,290.0L432.6,288.8L431.8,287.7L429.6,287.0M399.3,310.1L399.2,308.3L399.1,307.0L400.2,305.9L398.3,304.2L398.1,302.8L397.2,300.9M406.0,265.5L406.8,267.1L407.9,269.0L407.4,270.9L407.7,272.0L407.2,273.4L406.3,275.3L405.4,276.2L404.9,277.4L405.2,278.7L406.5,279.6L406.7,281.3L406.0,282.4M402.2,263.6L404.6,263.5L406.0,265.5M382.5,316.2L380.6,315.3L379.1,313.4L377.5,313.4L376.5,311.8L376.8,309.7L375.6,309.0L375.5,307.4L373.9,307.1L372.7,307.9L371.4,306.3M392.5,318.2L391.0,318.2M382.5,316.2L383.9,318.3L385.7,317.7L387.1,318.1L389.4,318.7L391.0,318.2M385.3,292.1L387.4,292.1L388.5,292.3L390.2,291.9M459.7,310.5L457.7,310.0L456.3,309.8L454.9,309.4L453.7,310.4L452.2,309.9L450.9,309.0L449.6,308.7M459.7,310.5L460.6,309.3L461.7,309.0L463.7,308.3L464.9,306.7L464.8,304.3L466.3,302.3L466.6,300.7L467.3,299.3M467.3,299.3L467.3,298.0L466.4,296.7M466.4,296.7L464.8,294.8L463.4,293.9L461.2,294.1L459.0,293.9L457.8,293.2L456.8,291.6L455.3,290.6L454.8,289.5L455.0,288.0M451.3,289.1L453.5,289.5L455.0,288.0M451.3,289.1L451.2,291.6L450.0,292.8L449.6,294.8L448.0,295.3L446.9,296.4L445.7,296.5L444.8,298.1L444.7,300.4M444.7,300.4L446.5,302.0L447.6,303.1L448.6,303.4L448.2,304.8L448.0,306.2L448.3,307.7L449.6,308.7M462.6,325.1L462.9,324.0L463.1,322.6L463.8,320.7L463.1,319.2L462.5,317.3L460.9,316.6L460.2,314.8L460.4,312.9L459.7,310.5M475.0,303.8L476.7,303.5L478.8,304.3L480.0,303.0L481.8,303.4L483.2,302.6L484.6,302.9L485.5,301.6L486.4,300.0L487.7,299.5L488.9,298.7L490.8,298.8L491.9,299.6L492.9,297.8L494.6,297.3L495.2,295.8L496.7,294.8M481.7,281.4L480.0,281.7L478.3,281.4L477.2,283.4L476.4,285.1L477.0,286.3L476.8,287.8L475.5,289.0L475.4,290.2L474.3,291.2L472.9,291.5L473.1,292.6L472.3,293.9L471.2,295.1L469.8,296.3L468.0,296.7L466.4,296.7M475.0,303.8L474.5,301.8L473.7,300.9L472.6,299.9L471.3,300.6L470.1,300.8L469.1,300.0L467.3,299.3M460.0,272.1L458.8,272.7L457.5,273.7L458.3,275.2L457.7,276.3L455.8,277.6L455.4,279.8L454.3,281.9L454.4,284.3L454.0,286.0L455.0,288.0M439.5,283.3L440.5,284.7L442.7,284.9L444.3,286.4L444.9,287.9L446.6,286.4L448.7,286.9L450.1,288.4L451.3,289.1M435.1,302.7L436.5,302.7L437.9,302.8L438.7,301.8L440.1,300.7L442.5,301.0L444.7,300.4M348.1,440.4L349.7,438.9L351.3,438.7L352.8,438.5L353.5,437.2L355.0,439.0L356.5,438.1L358.2,438.6M358.2,438.6L360.0,437.8L361.0,438.7L362.3,439.1L363.1,441.1L364.4,442.0L365.3,443.1L365.0,444.8L365.1,446.4L366.7,447.6M366.5,448.3L364.9,448.3L363.0,448.5L361.4,449.9L359.8,449.8L358.7,451.1L357.6,451.9L357.2,453.1L355.6,453.7M366.7,447.6L366.5,448.3M344.9,448.1L345.6,449.4M366.5,448.3L367.4,449.4L367.1,450.8L367.4,453.2L368.2,455.2L368.8,456.6L369.8,458.8L369.4,461.0L369.1,462.4L369.6,463.7L369.4,465.1L369.2,466.6M369.2,466.6L367.6,466.6L366.7,465.2L364.3,465.7L362.6,465.5L361.6,464.2L359.6,463.8L358.2,463.7L356.9,463.7L355.7,465.3M355.7,465.3L354.2,464.0L352.5,462.4L352.2,460.7L352.6,459.2M355.6,453.7L355.2,455.3L353.9,455.6L354.0,457.8L352.6,459.2M335.3,453.9L336.1,455.5L336.0,457.8L337.7,457.9L338.7,459.3M325.8,462.1L327.8,462.8L329.3,463.8L331.2,465.1L332.8,464.9L334.0,464.0M338.7,459.3L338.4,461.1L337.8,462.2L335.7,461.8L334.2,462.5L334.0,464.0M342.1,506.7L341.5,504.9L340.2,503.0L338.3,502.4L337.5,501.7L336.3,500.5L335.5,499.3L333.7,499.3L332.2,498.5L330.7,496.7M341.0,487.6L340.9,489.9L342.3,491.0L342.3,492.5L342.7,494.0L343.4,495.4L344.1,497.2L345.9,498.7M341.0,487.6L338.9,488.0L337.9,488.9L336.1,489.1L334.6,490.7L332.9,491.3M345.2,505.1L346.5,504.0L346.7,502.5L346.4,500.9L345.9,498.7M330.7,496.7L331.4,495.1L330.5,493.4L331.2,492.3L332.9,491.3M301.1,506.5L302.6,504.6L304.4,504.2L304.9,502.7L306.0,502.0L308.0,501.1L309.4,500.8L310.3,499.4L311.0,497.0L313.0,497.5L314.9,496.7M330.7,496.7L328.9,497.4L326.9,497.1L325.0,496.8L323.4,498.8L323.3,497.5L321.7,496.7L319.7,496.7L317.6,497.7L316.7,496.5L314.9,496.7M314.5,476.1L314.9,478.1L316.2,479.5L315.3,481.4L316.2,482.6L316.9,483.8L316.6,485.7L317.7,487.1L318.7,488.2M314.9,496.7L315.6,494.7L315.0,493.8L315.1,492.2L316.8,490.7L317.6,489.7L318.7,488.2M430.7,494.9L429.2,495.7L429.1,497.4L427.8,498.0L426.5,497.2L424.1,497.1L422.4,498.0L420.5,499.2L420.0,500.9L417.7,501.7L416.4,500.9L415.0,501.5M430.7,494.9L431.0,493.0L430.1,490.6L429.6,489.1L429.1,487.9L429.3,486.5L430.6,485.2L430.8,483.8L430.3,482.6L429.3,481.2L429.4,479.8L427.9,478.1L426.3,477.2M415.0,501.5L412.7,501.6L411.8,500.2L410.7,499.6L410.4,497.8L409.2,495.8L407.3,495.8L405.2,496.3L404.4,494.4L403.0,493.5M403.0,493.5L403.4,492.4L402.9,490.7L404.5,490.0L405.0,488.5L405.4,487.3L404.7,485.5L403.6,484.6L402.7,483.9L404.2,482.0L404.9,480.5L405.7,479.6L405.7,477.7L405.3,475.4M426.3,477.2L423.9,476.9L422.5,475.0L421.1,474.3L419.4,474.8L417.3,474.1L415.3,473.9L414.5,472.5L412.7,471.6M412.7,471.6L411.7,473.0L410.3,473.3L407.9,473.2L406.3,474.3L405.3,475.4M435.3,497.1L433.0,496.5L432.3,495.1L430.7,494.9M412.7,519.6L413.1,517.1L412.8,515.9L412.4,514.5L412.0,513.0L412.3,511.8L413.1,510.1L413.6,509.0L414.4,508.0L413.8,506.1L413.3,503.6L414.4,502.5L415.0,501.5M439.7,466.8L439.2,469.0L438.0,470.5L436.8,471.0L434.4,471.2L433.2,470.9L431.6,471.4L431.4,473.3L430.5,475.3L429.4,475.8L428.0,475.2L426.7,475.5L426.3,477.2M391.0,498.5L392.8,498.0L393.9,496.9L395.3,496.3L396.3,495.9L397.7,494.4L399.7,494.9L401.4,493.5L403.0,493.5M388.7,468.6L390.1,469.3L391.7,468.7L392.8,470.5L394.7,469.4L396.0,470.6L397.2,470.4L398.5,472.4L400.8,472.9L401.4,474.1L402.3,475.2L403.6,475.2L405.3,475.4M388.7,468.6L387.3,468.1L385.6,467.7L385.0,469.3L383.7,469.5L382.1,470.5L381.3,472.4M381.3,472.4L382.3,474.7L381.7,476.0L382.0,477.3L381.8,479.5L380.5,481.0L379.6,482.7L378.2,483.3L378.2,485.7L379.0,487.1L380.0,488.0L379.7,489.0L379.0,490.5M435.3,449.1L434.1,447.9L433.4,446.9L432.1,447.5L430.7,446.9M412.7,471.6L413.5,470.4L414.4,469.3L415.1,467.5L415.7,466.1L416.8,465.5L416.3,464.3L416.1,462.9L415.2,461.8L414.3,460.9L413.6,459.6L414.3,457.7L414.2,456.4L414.0,455.1L415.0,453.5M430.7,446.9L429.6,448.9L428.7,450.3L428.8,451.4L427.1,451.2L425.8,451.3L423.8,452.3L421.9,453.5L420.4,454.6L419.1,454.0L417.4,454.5L415.8,454.5L415.0,453.5M358.2,438.6L357.9,436.4L357.6,435.1L358.1,433.4L358.6,432.2L359.0,430.8L360.3,429.2L360.5,427.1L360.0,426.0L359.4,424.3L359.0,423.2L358.3,421.9L357.9,420.5L358.4,419.0L359.8,417.5L359.5,415.4M342.2,419.9L342.9,418.6L344.8,418.4L346.1,417.5L347.4,417.6L349.1,418.5L349.8,417.1L350.9,415.8L352.3,416.1L353.6,415.0M353.6,415.0L354.7,413.5L356.2,413.2L358.4,414.0M359.5,415.4L358.4,414.0M368.8,494.8L367.6,493.2L365.9,492.1M370.0,467.8L369.3,468.7L367.9,469.6L366.5,470.2L364.9,470.9L364.2,471.8L363.4,473.4L361.4,474.0L362.4,475.6L361.4,477.2M370.0,467.8L371.0,467.0L372.6,467.8L374.2,467.8L375.5,468.5L377.8,469.0L377.7,470.3L378.4,471.6L380.2,471.8L381.3,472.4M361.4,477.2L362.1,479.3L363.1,480.8L363.7,482.5L363.3,484.0L361.4,485.5L362.9,486.7L363.7,488.3L363.9,490.2L364.2,491.5L365.9,492.1M345.9,498.7L347.3,497.7L347.8,495.6L348.7,494.0L348.7,492.2L349.5,490.8L350.9,490.2L352.6,489.8L353.5,488.7M353.5,488.7L355.3,488.7L356.5,489.1L358.7,488.7L360.0,489.7L361.9,489.8L363.8,489.4L364.1,491.4L365.9,492.1M535.0,402.5L534.1,403.3L532.6,403.9L532.5,406.3L532.7,407.7L532.7,408.9L533.5,410.6L533.4,412.2L533.3,414.2L531.4,415.8L531.7,417.2L532.0,418.6L532.7,420.6M556.7,423.6L555.6,424.1L555.1,425.8L553.0,426.5L551.2,427.8L549.3,427.4M532.7,420.6L534.2,422.1L535.8,422.8L536.9,423.3L539.2,422.9L540.3,422.5L542.2,422.5L543.6,423.3L544.3,424.2L545.7,423.8L546.9,424.5L548.1,425.8L549.3,427.4M316.2,254.7L314.6,256.4L313.9,258.3L312.5,258.8L312.2,260.7L310.9,261.7L309.9,262.1M294.0,239.4L293.3,241.4L292.7,243.0L291.5,243.8L290.7,245.7L288.7,246.6L288.1,248.4L289.3,250.1M309.9,262.1L309.2,260.4L307.5,260.1L306.3,261.4L304.0,261.2L302.6,260.5L301.9,259.3L300.0,258.1L299.7,256.0L298.1,256.0L296.1,256.6L294.6,255.7L294.0,254.4L292.4,252.8L290.2,252.9L289.2,251.7L289.3,250.1M220.9,260.4L222.2,261.2L223.8,262.5L225.3,262.0L226.6,262.0L227.6,263.1L229.0,262.9L229.9,264.3L231.7,264.8M220.9,260.4L219.3,261.5L219.1,263.1L218.5,264.1L218.5,265.2L218.0,266.8L216.7,268.9L217.5,270.0L216.9,271.8L217.0,273.4L215.6,274.5L215.1,275.5L215.3,277.1L213.8,278.1L213.4,279.3M101.5,335.8L103.9,336.1L105.2,337.3L106.7,335.8L108.5,336.0L110.0,336.6L111.1,335.8L112.2,335.8L113.6,335.9L114.7,334.1L115.4,332.5L117.1,332.4L118.3,331.7L119.8,332.5L121.3,332.2L122.9,331.4L124.4,330.8L125.5,331.1L127.4,331.5L128.5,332.2M155.7,339.6L154.1,337.9L152.4,337.9L150.1,338.3L148.8,337.1M140.2,357.8L140.8,355.7L140.2,354.0L139.2,353.2L140.0,351.7L139.4,350.3L138.4,348.6L137.8,347.3M148.8,337.1L147.2,338.4L145.9,339.1L145.3,340.1L144.5,341.3L143.9,342.9L141.9,343.1L140.9,344.2L139.6,346.0L137.8,347.3M132.2,298.5L134.0,299.0L135.1,301.0L135.9,301.9L137.6,302.0M137.6,302.0L138.0,303.0M128.5,332.2L130.3,332.3L131.4,331.6L131.6,329.6L133.2,328.6L134.4,328.0L134.8,326.3L135.5,324.5M148.8,337.1L147.9,336.2L147.6,334.9L149.1,333.7L148.9,331.7L147.8,330.6L148.1,328.8L146.7,328.2L145.4,326.5M145.4,326.5L143.8,326.6L142.9,327.4L141.0,327.5L139.7,327.3L138.3,327.4L136.7,326.7L135.5,324.5M138.0,303.0L139.5,304.3L141.8,303.8L142.6,305.2L142.8,307.1L144.0,306.6L145.6,307.1L147.1,309.0L148.1,310.9L149.7,311.3M145.4,326.5L146.8,325.9L148.6,325.8L149.7,324.6L149.8,323.3L151.2,321.6L151.5,320.1L150.8,319.0M149.7,311.3L148.8,313.0L149.1,314.9L150.8,316.3L151.2,317.5L150.8,319.0M181.8,256.6L184.0,257.0L186.3,257.4L188.1,258.8L189.9,258.2L191.3,257.4L193.2,258.4L195.1,258.5L196.6,258.4L197.5,257.4M181.8,256.6L181.7,255.5L182.3,254.0L183.1,252.8L182.8,251.4L182.0,250.0L182.6,248.0L180.7,246.5L179.6,245.3L179.3,244.2L179.1,242.5L178.1,241.7L177.4,240.5L178.0,239.0L179.7,237.2M179.7,237.2L179.8,236.7M160.4,250.7L160.9,252.3L162.6,253.3L162.6,255.1L163.1,256.6L162.3,257.6M160.4,250.7L159.3,249.7L158.5,248.7L157.2,248.3L155.9,247.2L154.1,245.8L152.7,244.5L152.3,243.1M152.3,243.1L151.4,242.5L150.2,241.5L148.4,242.3L147.3,243.1L145.8,243.2L145.9,244.7L145.0,245.9M140.1,263.1L141.6,263.0L142.7,263.8L143.5,265.8L144.7,266.8L145.9,267.6L147.3,267.6L148.7,268.1L149.8,269.2M149.8,269.2L151.3,268.9L152.4,269.6L154.4,269.0L155.2,267.7L154.5,266.2L155.6,265.5L156.7,264.9L157.3,263.7L157.2,262.2L158.4,261.3L158.1,259.3L159.9,258.7L160.9,257.6L162.3,257.6M149.8,269.2L150.5,270.6L150.5,271.9L150.4,274.0L150.4,275.7L150.1,277.9L151.7,278.4L152.0,280.0M181.8,256.6L180.4,257.2L179.3,256.9L178.3,257.5L178.0,259.0L177.2,261.1L176.6,262.3L175.3,263.5M162.3,257.6L164.4,258.2L164.4,259.8L165.3,260.6L166.6,260.0L167.7,259.5L169.7,259.4L170.0,261.0L171.7,261.7L174.1,261.9L175.3,263.5M213.1,419.4L214.5,419.6L215.9,419.0L217.6,417.9L219.1,417.2L219.8,415.3L220.4,413.0M198.5,411.2L199.5,409.9L199.8,408.3L199.6,406.1L201.2,404.2L202.5,403.1L203.1,401.0L204.0,399.5L205.1,399.0L206.9,398.4L208.6,396.8M208.6,396.8L209.6,396.1L211.2,396.3L212.5,396.6L213.6,397.5L214.4,398.5L215.3,400.3L216.1,401.5L217.7,401.6M217.7,401.6L219.2,403.4L218.9,404.8L219.1,406.6L218.0,408.1L218.4,410.3L218.9,412.1L220.4,413.0M234.1,427.3L233.6,425.8L232.6,424.1L231.3,422.1L232.0,420.4L233.2,419.4L233.1,417.6L232.8,416.5M220.4,413.0L222.4,412.6L224.2,413.8L225.7,415.4L226.3,416.9L228.0,416.9L229.9,417.6L231.2,416.2L232.8,416.5M255.7,432.2L256.6,431.0L257.9,429.8L257.4,427.9L257.4,426.3L256.3,424.7L254.7,424.1L254.0,423.0L254.2,421.4L254.6,419.4M254.6,419.4L252.5,418.3L251.7,416.4L251.0,418.0L249.5,418.2L247.6,418.5L246.3,417.3L244.6,415.8L243.2,414.4L241.9,413.4L240.9,412.3M240.9,412.3L239.6,411.0L237.5,411.5L236.2,412.0L235.6,413.6M232.8,416.5L234.3,415.7L235.6,413.6M182.3,375.3L180.1,374.2L178.6,374.4L177.0,374.4M177.0,374.4L177.7,376.5L178.2,378.1L177.7,379.3L176.4,380.3L175.7,381.1L176.1,382.8L174.5,384.4M174.5,384.4L176.4,384.7L178.6,385.1L179.8,386.7L181.1,387.3L181.9,387.9L183.1,388.3L184.3,389.0L184.5,390.9L185.8,392.1L187.8,391.6L189.1,392.4L189.9,392.9M189.9,392.9L190.5,391.7L192.0,391.3M174.9,370.6L176.4,372.5L177.0,374.4M191.1,356.2L193.2,356.4M194.4,370.9L192.7,370.7L190.8,372.0L189.4,371.7L188.4,371.5L186.9,372.7L185.1,374.1L183.6,374.5L182.3,375.3M171.5,388.1L173.6,387.3L173.6,385.8L174.5,384.4M183.8,407.5L185.7,406.4L186.1,405.3L187.0,404.0L186.4,402.1L186.2,400.5L186.9,399.4L186.9,397.9L188.1,397.1L187.9,395.3L188.2,393.6L189.9,392.9M211.2,380.4L211.6,382.1L210.4,383.3L210.8,385.1L210.3,386.5L208.5,387.8L207.8,389.8L206.9,391.2L207.2,392.9M207.2,392.9L205.3,392.2L203.2,393.5L201.2,394.7L200.1,393.7L198.7,393.4L197.0,392.8L195.6,390.7L193.6,390.2L192.0,391.3M211.2,380.4L210.4,378.4L209.5,377.3L208.4,376.0M208.6,396.8L208.9,395.4L208.3,394.2L207.2,392.9M480.2,319.4L481.6,319.5L483.4,320.2L485.8,320.4L486.8,319.4L487.5,318.5L489.0,318.1L490.1,318.6L490.6,319.6L491.5,320.8L493.2,322.3L495.0,322.5M480.2,319.4L478.2,319.5L477.2,321.0L475.2,321.5L473.9,323.0L472.2,324.6L470.3,325.1L469.1,324.3L467.3,324.7L466.2,326.9M466.2,326.9L468.6,327.1L469.6,328.6L469.4,330.2L470.1,331.2L470.4,333.5L471.6,334.4L472.5,335.3L474.9,335.1L476.4,336.4L477.4,338.2L477.1,340.0L478.4,341.2L478.9,342.5L478.0,344.1L477.9,345.6M495.0,322.5L496.2,323.4L496.8,325.1L497.3,327.3L495.8,329.1M495.8,329.1L495.5,330.2L494.6,331.4L494.0,332.6L492.3,332.8L491.3,333.8L490.3,334.8L490.7,337.2L489.9,338.1L488.4,338.6L488.6,340.9L487.5,342.9L486.0,344.5M477.9,345.6L479.6,346.3L480.6,345.3L481.9,345.2L484.2,344.3L486.0,344.5M475.0,303.8L476.1,305.9L475.4,308.0L475.7,309.9L475.5,311.6L475.8,312.7L476.1,314.1L477.1,315.9L477.9,318.0L478.6,318.9L480.2,319.4M500.2,316.1L498.6,317.2L498.1,318.8L496.8,320.3L496.2,321.7L495.0,322.5M464.4,326.7L466.2,326.9M517.3,345.9L517.1,344.8L517.3,343.3L515.8,341.4L513.9,341.0L512.2,340.6L511.4,339.4L511.3,337.4L509.0,336.6L507.0,336.5L505.4,335.1L503.6,334.8L501.9,333.4L500.3,333.4L499.4,332.1L498.7,330.0L497.2,329.1L495.8,329.1M493.6,354.2L494.1,352.0L492.5,350.7L490.1,350.0L488.2,349.8L488.0,348.2L487.2,347.5L487.0,345.6L486.0,344.5M253.9,122.7L251.7,123.2L250.2,124.3L247.8,124.4L246.0,125.2L244.1,123.7L241.8,124.1L240.7,125.2L239.3,125.9L238.1,125.6L236.6,126.3M236.6,126.3L236.5,125.9M215.7,215.7L216.5,214.6L217.9,214.5L219.0,213.4L219.5,212.1L220.5,211.3L220.1,209.5L221.1,207.5M221.1,207.5L222.4,208.5L224.4,207.8L225.5,208.7L226.2,209.8L228.2,209.7L229.3,210.9L230.3,212.2L231.4,213.4L233.2,214.0M231.4,227.5L229.9,227.8L229.3,229.3M254.2,227.5L253.5,225.9L251.7,224.8L249.8,226.3L248.1,225.8L246.5,225.1L245.2,225.7L242.7,225.5L241.8,226.0L240.5,226.9L239.2,227.5L237.9,228.0L236.5,227.5L234.9,227.5L233.0,226.7L231.4,227.5M254.2,227.5L254.2,227.5M240.3,210.2L238.3,211.1L237.0,211.5L236.5,213.1L234.5,213.5L233.2,214.0M257.2,224.1L255.9,225.4L255.2,226.6L254.2,227.5M260.6,204.1L259.9,203.5M240.3,210.2L240.9,208.9L241.3,207.4L241.8,205.5L242.9,203.5M259.9,203.5L257.8,203.5L256.3,203.2L254.8,202.9L253.3,203.0L252.3,204.1L251.9,205.1L250.4,205.9L249.2,206.9L247.1,205.8L244.8,205.3L244.3,204.0L242.9,203.5M273.5,147.7L272.0,148.7L270.4,147.9L269.5,149.5L268.8,151.1L266.9,152.2L264.6,151.3L263.0,152.9L260.8,153.0L258.8,153.6L256.9,155.1M262.7,170.5L262.7,169.0L262.2,167.5L262.0,165.7L261.3,164.7L260.1,163.8L259.7,162.7L259.2,161.2L257.5,160.5L257.5,159.1L256.5,158.1M256.9,155.1L256.9,156.4L256.5,158.1M110.0,202.8L109.4,201.3L109.6,199.4L108.6,198.8L107.9,197.4L107.6,195.6L108.6,194.6L109.1,192.7L109.3,190.8L108.9,189.4L108.4,188.3L108.0,186.6M161.9,199.9L160.5,201.6L158.7,202.5L158.4,203.8L157.4,204.8L156.9,206.5L156.9,207.8L155.9,209.8L154.5,210.4L154.1,212.0L152.6,213.0L151.2,214.9L150.1,215.5L149.6,217.0L147.7,217.4L145.9,217.7M139.8,211.2L140.7,213.5L141.9,214.6L142.9,215.1L144.4,216.1L145.9,217.7M161.5,198.0L161.9,199.9M161.5,198.0L160.0,197.0L160.2,195.5L158.1,195.0M158.1,195.0L156.5,196.2L154.6,196.2L152.6,195.2L150.9,196.4L149.4,195.7L148.2,196.5L147.2,195.8L146.2,194.5L144.4,193.9L142.6,195.0M173.8,188.8L173.5,186.5L172.2,184.9L173.8,183.7L174.4,181.8L172.6,180.7L171.7,178.9L170.7,178.0L170.5,176.4M189.4,174.0L187.4,174.4L186.0,174.2L184.4,174.6L182.0,175.0L180.1,175.6L178.5,174.4L176.4,173.1L174.4,172.1L173.2,172.2L171.5,172.9M171.5,172.9L170.4,174.2L170.5,176.4M161.9,199.9L162.1,201.3L163.3,202.8L164.5,203.8L164.6,205.7L166.7,205.8L168.6,206.6L169.9,207.8L170.8,208.8M181.7,209.8L179.4,210.5L177.3,210.4L176.6,211.7L175.1,210.6L173.9,210.1L172.4,208.7L170.8,208.8M186.7,195.0L185.4,196.3L184.7,198.0L183.0,199.2L183.0,200.5L183.3,201.9L182.8,203.7L183.9,205.3L182.0,206.8L182.2,208.3L181.7,209.8M161.5,198.0L163.8,197.5L165.1,196.7L167.1,196.7L168.5,195.0L169.5,194.6L170.7,193.7L172.2,193.6L173.1,192.9L173.3,191.1L173.8,188.8M157.3,183.5L158.4,182.8L158.5,181.3L159.2,179.9L160.0,179.2L161.9,178.7L163.8,179.5L165.6,180.0L167.7,179.8L169.4,179.4L170.1,178.4L170.5,176.4M402.1,240.8L403.9,240.8L404.6,239.5L406.3,239.9L407.0,241.0L408.9,241.7L410.4,241.3L411.7,241.5M402.1,240.8L403.2,240.6L404.4,239.7L404.2,237.8L404.5,236.5L402.9,234.9L402.6,233.4L403.4,232.3L402.5,230.9L401.3,230.8L401.2,229.3L400.2,228.2L401.2,227.0L401.1,225.7L401.3,223.9M411.7,241.5L412.6,239.9L414.3,239.7L416.0,240.3L418.2,240.2L419.8,240.1L420.9,238.7L420.6,237.3L421.0,235.8L421.8,234.5L423.4,234.6L424.8,234.0L425.1,231.8L425.4,230.4L426.2,228.4L427.8,228.5L429.3,227.2M401.3,223.9L402.9,223.7L404.0,222.5L405.1,221.4L405.3,219.7L407.4,220.4L409.0,219.6L410.5,220.1L411.6,219.3L412.5,217.6L413.6,216.8L414.8,215.5L416.4,215.9L417.5,215.6L418.8,215.3L420.3,215.0M420.3,215.0L421.8,216.8L423.8,218.0L425.8,219.0L427.4,220.1M427.4,220.1L428.4,222.3L429.3,223.5L429.6,225.3M429.3,227.2L429.6,225.3M420.9,254.1L418.6,253.7L418.6,251.8L417.6,250.9L415.9,250.3L414.2,248.5L414.5,246.6L412.7,245.3L412.6,243.3L411.7,241.5M398.8,243.2L399.9,241.9L402.1,240.8M394.2,217.7L394.7,219.1L394.2,220.3L394.8,221.6L396.0,222.4L397.6,222.5L399.1,221.8L400.2,222.6L401.3,223.9M441.1,247.9L441.9,246.2L441.1,245.0L439.9,244.4L439.1,242.8L438.3,241.3L438.5,239.8L437.4,238.5L436.0,237.8L434.6,236.4L434.9,234.5L432.9,233.1L432.5,231.3L431.8,229.5L430.8,228.2L429.3,227.2M418.6,210.7L419.7,211.5L420.6,212.4L420.9,213.8L420.3,215.0M441.7,203.6L442.0,205.6L440.9,206.7L438.7,206.5L437.5,207.8L436.1,208.8L435.9,210.0L434.7,211.0L433.4,211.1L433.4,212.9L433.2,214.8L432.6,216.0L431.3,216.8L429.7,218.6L428.3,219.1L427.4,220.1M333.0,103.5L331.4,103.4L329.8,102.8L328.8,104.3L327.1,104.2M313.0,119.2L312.6,117.7L311.2,116.9L311.5,115.4L311.4,114.1M311.4,114.1L312.2,111.8L313.2,110.8L313.9,109.5L315.3,108.9L316.9,109.4L318.1,108.6L319.5,108.6L320.7,107.9L322.0,107.4L322.6,105.9L322.1,104.5L324.1,103.8L326.0,103.3L327.1,104.2M312.0,95.2L312.2,96.9L312.0,98.6M312.0,98.6L313.7,99.2L315.2,99.6L317.0,99.4L319.1,100.4L320.8,102.2L322.4,102.8L323.8,101.7L324.6,103.8L325.9,103.3L327.1,104.2M293.8,114.8L292.1,114.0L290.9,111.9M293.8,114.8L295.8,114.9L297.4,114.8L298.4,114.1L300.0,113.0L301.7,112.4L303.3,113.2L305.4,112.2L307.5,111.6L309.5,112.0M308.2,104.8L307.0,106.6L307.6,108.8L308.8,110.5L309.5,112.0M287.2,110.9L289.1,110.6L290.9,111.9M311.4,114.1L310.2,113.1L309.5,112.0M312.0,98.6L310.0,99.6L309.2,101.2L308.6,103.3L308.2,104.8M391.0,318.2L389.0,319.5L388.3,320.8L388.9,322.0L389.2,323.4L387.9,324.6L386.8,326.1L385.8,327.2L384.4,327.6L383.0,327.8L381.1,329.2L380.4,330.7L380.6,331.9L379.6,332.9L378.6,334.7M378.6,334.7L378.0,332.9L378.0,331.5L376.2,330.8L374.3,329.5M398.1,337.5L396.7,338.1M396.7,338.1L395.7,338.2L394.2,338.4L393.2,337.1L392.3,336.3L390.9,336.0L389.7,336.6L388.2,337.4L387.3,338.0L385.0,338.0L384.0,336.5L382.9,335.7L380.6,336.6L379.1,335.7M378.6,334.7L379.1,335.7M365.8,311.3L367.8,309.8L368.4,307.5M374.3,329.5L372.7,328.8L371.6,328.4L370.0,328.9L368.4,327.8M326.5,477.5L326.5,476.3L327.7,475.0L328.8,474.7L330.2,473.8M326.5,477.5L326.0,479.8L326.5,482.0M329.9,483.7L329.0,482.2L326.5,482.0M329.9,483.7L332.2,483.6L333.3,484.7L334.6,482.9L336.5,482.0M337.6,477.7L335.1,477.4L333.5,476.8L332.7,475.3L331.4,473.6M337.6,477.7L337.9,480.0L336.5,482.0M331.4,473.6L330.2,473.8M325.1,463.7L325.0,465.8L326.5,466.7L325.9,468.9L327.7,469.1L329.5,470.5L329.4,472.1L330.2,473.8M320.2,473.5L321.2,475.1L322.1,476.2L322.9,477.6L324.2,477.6L326.5,477.5M318.7,488.2L319.2,486.4L321.1,485.8L322.6,486.3L323.6,485.7L324.1,483.4L324.9,482.3L326.5,482.0M332.9,491.3L332.3,490.0L331.6,489.0L332.9,487.9L333.2,486.4L331.7,486.8L330.7,485.9L329.9,483.7M341.0,487.2L341.0,487.6M341.0,487.2L339.3,486.1L337.6,485.6L336.6,484.1L336.5,482.0M335.7,468.4L334.7,467.4L333.9,466.4L334.0,464.0M335.7,468.4L334.0,469.8L334.4,471.1L334.3,472.6L332.7,473.0L331.4,473.6M498.3,525.2L499.7,526.1L501.2,526.5L501.0,527.7L501.5,529.4L502.0,530.7L502.6,531.8L502.1,532.8L500.9,534.0L500.3,535.2L499.4,536.3L500.5,538.4L500.3,540.2L501.4,541.0L502.7,542.9M498.3,525.2L499.3,524.9L500.6,524.2L501.7,522.3L503.0,522.5L504.4,522.8L506.2,521.9L507.1,521.3L507.9,519.7L509.1,520.5L510.6,519.8L511.7,517.8L511.9,516.5L511.7,514.8M511.7,514.8L511.5,516.5L513.3,517.9L515.3,517.9L516.9,519.5L518.3,520.8L520.4,521.3L521.7,520.5L523.1,520.3L525.3,520.4M525.3,520.4L525.8,522.6L526.0,524.1L526.5,525.2L524.9,526.9L525.0,528.3L524.7,530.1L524.3,531.3L524.1,532.7L524.1,534.8L524.4,536.6L523.0,538.5M523.0,538.5L521.6,540.1L519.7,541.3L518.5,541.9L517.1,541.9L515.4,542.1L514.3,543.3L512.7,542.8L511.0,542.8L510.2,541.7L509.8,543.9L508.6,544.0L507.3,545.1M507.3,545.1L505.5,545.1L504.0,545.0L502.7,542.9M487.0,549.5L488.3,547.8L489.6,548.3L491.1,548.2L492.4,549.0L493.8,548.6L495.8,547.8L497.8,546.5L499.8,545.9L500.4,543.7L502.7,542.9M484.7,519.6L485.7,521.3L487.3,521.9L489.2,520.9L491.3,521.4L492.9,522.5L495.1,521.9L496.1,522.5L496.8,524.0L498.3,525.2M502.7,494.9L504.1,494.2L505.3,494.6L505.9,496.2L507.3,497.1M507.3,497.1L506.7,498.4L506.3,499.4L506.4,501.1L505.3,502.8L505.9,504.2L507.4,506.2L507.2,507.4L506.5,508.9L507.2,510.7L508.4,512.0L510.7,512.6L511.7,514.8M535.0,498.5L533.0,498.3L531.4,497.2L531.3,495.8L530.3,494.1L528.5,492.5L527.5,491.2L527.5,490.1L526.2,490.0L524.8,490.3L523.0,490.5M507.3,497.1L508.5,496.3L510.0,495.7L512.5,495.6L512.2,493.5L513.6,493.4L514.3,491.8L515.7,492.7L516.9,492.8L519.0,492.7L520.0,492.3L521.1,491.2L523.0,490.5M532.7,516.6L531.1,517.9L529.7,518.7L527.9,520.3L526.7,520.2L525.3,520.4M535.0,546.5L534.3,545.4L533.7,544.0L532.3,544.3L531.1,543.4L529.2,544.6L527.7,543.8L525.9,543.0L525.1,541.1L524.3,539.6L523.0,538.5M514.9,575.5L513.6,573.7L513.0,571.3L512.3,569.3L511.2,567.8L510.0,567.3L509.5,565.7L509.1,563.5L510.0,561.5L511.0,559.5L510.1,558.3L508.2,557.1L507.0,555.5L507.3,553.0L507.7,551.6L507.3,550.3L507.9,549.2L509.1,548.3L507.9,546.4L507.3,545.1M345.6,449.4L344.1,450.9L344.4,453.1L345.5,454.5L344.7,456.6M352.6,459.2L350.3,459.4M344.7,456.6L346.6,456.8L348.1,458.0L349.5,458.4L350.3,459.4M338.7,459.3L340.6,459.6M344.7,456.6L344.8,457.9L343.3,458.9L341.6,458.8L340.6,459.6M426.3,429.2L424.6,428.1L422.7,426.9L420.6,426.1L419.3,427.0L418.2,425.9L417.2,424.4L415.2,425.1L414.0,424.8L412.7,423.6M426.3,429.2L426.7,427.2L428.3,426.3L429.2,424.9L430.7,424.7L432.8,424.2L433.5,422.1L435.3,420.4L437.2,420.2L439.1,420.1L439.7,418.8M412.7,423.6L413.8,422.3L414.8,421.5L415.0,420.1L414.5,418.7L414.0,416.6L413.1,414.7L413.7,412.4L414.8,411.4L415.8,410.7L415.4,408.4L414.6,407.2L415.0,405.5M439.7,418.8L438.6,417.7L437.2,417.7L438.0,416.0L436.9,414.2L438.0,412.1L438.7,409.9L438.7,408.4L437.8,407.5L435.6,406.6L436.3,405.5L436.3,404.0L436.0,402.5L435.3,401.1M415.0,405.5L416.7,406.5L417.9,407.0L418.8,406.2L420.3,405.7L421.6,404.4L423.8,403.8L424.9,403.5L426.4,403.7L428.1,402.7L429.1,401.0L430.4,400.5L430.7,398.9M435.3,401.1L433.9,400.7L432.8,400.4L431.9,399.2L430.7,398.9M430.7,446.9L429.3,445.1L427.9,444.7L427.4,443.3L426.3,442.7L426.1,440.8L426.7,438.6L425.5,438.1L425.3,436.5L426.3,435.1L426.3,433.7L425.8,432.6L425.1,431.3L426.3,429.2M451.0,442.5L450.8,441.4L451.5,440.1L452.1,438.5L450.7,436.8L450.6,435.3L450.6,433.7L450.9,431.6L452.0,429.7L452.8,428.7L453.1,427.4L453.9,425.7L453.3,424.4M453.3,424.4L451.2,424.1L450.3,423.1L450.0,421.8L448.8,421.6L447.4,420.5L446.7,418.9L446.3,417.6L445.2,417.0L443.5,417.3L441.3,417.7L439.7,418.8M453.3,424.4L454.7,424.7L456.0,424.7L457.9,423.6L459.1,422.4L459.8,421.3L460.7,420.6M463.0,402.5L464.3,404.0L464.2,405.7L463.8,407.1L463.0,408.4L463.1,409.9L463.6,410.9L464.0,412.6L463.2,414.6L464.5,415.3L464.5,416.9L463.3,417.6L463.0,419.2L461.8,419.3L460.7,420.6M451.0,394.5L449.1,395.3L447.0,395.7L445.2,397.1L444.3,398.4L443.7,399.5L442.8,400.5L441.2,400.8L439.0,400.5L436.8,400.9L435.3,401.1M404.9,382.5L405.0,384.1L404.1,385.0L405.1,386.6L406.1,388.2L405.2,389.6L405.6,390.7L404.4,392.2L403.0,393.4L402.5,395.5L403.0,397.5M404.9,382.5L405.5,381.2L407.5,380.9L408.8,378.8M425.1,376.3L425.5,377.7L426.3,379.2L425.6,380.7L426.5,382.7L426.3,384.4L425.6,386.2L425.5,387.8L426.3,388.7L426.1,389.8L426.5,391.3L427.5,392.4L427.5,393.6L428.0,395.1L427.4,396.8L428.9,398.5L430.7,398.9M403.0,397.5L404.8,396.7L406.8,397.6L408.3,398.4L409.9,399.6L410.4,401.5L411.7,402.7L412.8,403.7L414.0,403.6L415.0,405.5M405.3,427.4L406.0,428.9L406.0,430.3L406.5,432.2L405.1,433.1L405.1,434.4L404.9,435.9L404.2,437.0L403.1,439.2L401.7,440.0L401.3,441.7L402.7,443.0L402.7,444.4L403.0,445.5M405.3,427.4L404.5,428.5L402.7,428.9L401.3,429.1L399.8,428.3L398.6,427.3L398.0,426.4L396.2,425.3L394.3,425.3L393.0,423.2L391.1,422.3L390.1,421.4L388.7,420.6M381.3,424.4L382.9,424.8L384.0,424.1L385.5,422.4L386.7,421.3L388.7,420.6M381.3,424.4L382.4,426.0L381.6,426.9L382.0,428.5L381.5,430.0L381.6,431.7L382.1,433.1L381.4,434.2L381.2,436.6L379.2,437.5L380.0,439.6L379.3,441.0L379.0,442.5M379.0,442.5L380.1,442.4L381.4,441.7L383.0,443.2L384.3,444.8L385.8,446.7L386.8,448.5L388.1,449.6L389.4,450.0L391.0,450.5M391.0,450.5L393.4,450.2L395.7,450.5L396.8,449.0L397.7,447.3L398.6,445.6L400.8,445.3L403.0,445.5M412.7,423.6L411.0,425.2L409.0,426.3L407.1,426.0L405.3,427.4M415.0,453.5L413.7,452.4L411.5,453.3L409.3,452.1L408.2,450.6L407.3,448.9L406.2,448.6L404.7,448.6L403.1,447.2L403.0,445.5M391.0,402.5L389.0,403.4L388.1,404.8L388.6,406.4L387.7,407.5L387.6,409.4L387.9,410.8L389.5,412.1L389.5,414.0L389.5,415.7L388.5,417.2L388.7,418.5L388.7,420.6M403.0,397.5L401.6,398.6L399.6,399.1L398.0,398.7L396.6,399.7L395.2,399.9L394.0,401.2L392.9,402.0L391.0,402.5M361.2,401.9L360.7,403.4L361.5,404.5L361.2,406.4L360.8,407.6L359.9,408.7L359.8,410.5L358.6,412.1L358.4,414.0M361.2,401.9L363.2,401.2L365.3,400.4L366.9,400.2L367.8,399.3L369.3,398.1L370.1,397.0L371.7,396.7L372.8,396.0L373.7,395.2L374.5,394.1L375.7,393.3L377.2,393.9L379.0,394.5M379.0,394.5L379.5,395.9L380.5,396.9L382.0,398.3L383.7,399.8L385.3,399.3L387.0,399.5L388.3,399.3L390.0,400.5L391.0,402.5M359.5,415.4L360.8,415.3L362.5,415.5L363.7,417.6L364.7,419.0L365.9,420.0L367.8,420.2L369.2,420.7L370.6,421.3L372.5,422.1L374.1,422.1L375.6,422.4L376.8,422.8L377.9,423.5L379.4,422.2L380.9,422.8L381.3,424.4M366.7,447.6L368.6,447.6L370.0,445.8L371.2,445.0L372.2,444.3L373.7,445.3L375.5,445.2L376.9,444.8L377.7,443.9L379.0,442.5M369.2,466.6L370.0,467.8M388.7,468.6L389.4,467.1L388.6,465.9L388.7,464.0L389.7,462.0L390.4,460.7L389.9,459.4L389.9,457.0L389.9,454.8L390.7,452.7L391.0,450.5M358.4,477.4L356.8,477.7L354.9,477.9L354.6,479.1L353.3,480.0L352.1,481.3L352.3,483.1L351.9,485.2M358.4,477.4L356.3,477.9L354.7,476.5L353.3,475.3L353.0,474.1M353.0,474.1L350.6,474.2L348.9,475.6L347.1,476.3L345.9,476.7M345.9,476.7L347.0,478.0L347.6,479.5L347.0,481.2L347.0,482.8M347.0,482.8L348.4,483.2L348.8,485.3L350.5,485.4L351.9,485.2M361.4,477.2L360.0,476.8L358.4,477.4M353.5,488.7L353.5,486.6L351.9,485.2M355.7,465.3L353.7,465.8L353.0,468.0M353.0,468.0L351.8,469.1L351.5,470.4L351.3,472.4L353.0,474.1M341.0,487.2L342.0,486.7L342.9,485.5L344.6,484.4L345.3,483.3L347.0,482.8M507.3,401.1L507.7,402.9L508.5,404.4L510.2,404.4L511.4,405.1L511.7,406.6L510.7,407.6L511.1,409.8L510.5,410.9L511.1,412.6L509.0,413.7L508.6,415.1L509.5,416.3L510.4,418.1L511.7,418.8M532.7,420.6L531.3,421.8L530.3,422.5L528.7,422.1L527.6,422.1L526.2,422.5L525.3,424.4M511.7,418.8L513.1,420.3L513.1,422.6L514.3,423.4L516.0,423.1L517.2,423.7L518.5,423.7L520.4,424.4L521.6,425.6L522.9,424.5L525.3,424.4M574.7,446.9L573.3,448.0L573.4,449.5L572.1,451.5L570.0,451.9L567.8,451.7L566.4,451.4L564.9,452.1L562.7,452.6L561.0,453.7L559.0,453.5M549.3,427.4L549.6,428.6L550.9,429.4L550.4,431.7L548.8,432.6L548.6,434.4L548.2,435.9L547.2,436.5L548.0,438.0L548.5,439.1L548.7,441.5L549.2,443.6L548.2,444.5L547.0,445.5M559.0,453.5L557.2,453.4L555.4,451.9L553.5,451.6L552.8,449.6L550.7,449.5L549.2,449.5L547.9,448.7L547.6,447.4L547.0,445.5M570.3,477.2L569.1,475.2L567.2,474.5L566.6,476.0L565.1,476.7L563.8,475.6L562.3,475.8L561.3,475.4L560.2,474.4L558.3,474.5L557.7,472.5L556.7,471.6M559.0,453.5L557.0,454.9L556.5,456.3L556.1,457.7L556.7,459.3L555.3,460.8L556.8,462.7L556.3,463.8L556.7,465.2L555.7,466.7L554.4,467.6L554.6,470.0L555.5,470.5L556.7,471.6M547.0,493.5L546.7,492.3L546.4,490.7L546.0,488.5L546.7,487.5L547.3,486.3L547.6,485.0L546.5,483.8L546.5,482.7L547.3,481.5L548.3,480.6L549.8,480.6L550.2,479.0L550.9,477.5L549.9,476.6L549.3,475.4M556.7,471.6L554.7,473.0L553.2,472.5L551.8,473.0L550.6,474.6L549.3,475.4M283.8,226.2L282.6,227.6L281.2,229.1L280.7,230.9L281.9,232.1L281.6,233.3L280.4,234.5L278.2,235.0L276.6,235.5L275.6,236.9L275.6,238.2L274.0,238.9L272.8,240.7L270.9,242.2L269.7,242.5L268.0,242.0M289.3,250.1L288.5,250.6M241.8,247.3L243.1,245.4L244.0,244.2L245.0,243.3L245.0,241.8L245.5,240.7L245.7,238.7L247.8,237.5L249.4,236.4L250.2,235.3L251.0,234.4L251.5,233.0L252.9,232.5L253.6,231.1L254.5,229.5M254.5,229.5L256.6,229.4L258.6,230.1L260.0,231.2L260.8,232.3L261.0,234.0L260.4,235.1L262.1,235.3L263.6,235.5L264.8,236.2L265.4,237.6L266.9,238.6L266.9,240.0L266.5,242.4M246.2,257.1L244.7,255.5L243.9,254.3L243.4,253.3L244.3,251.6L244.0,249.5L243.2,248.2L241.8,247.3M246.2,257.1L247.6,258.3L248.8,259.3L250.1,259.2M250.1,259.2L251.2,257.6L253.7,257.4L254.8,257.1L256.3,256.8L257.6,257.9L259.5,257.3L261.4,256.4L262.3,255.0M262.3,255.0L264.2,254.8L265.5,252.8L265.3,250.6L265.7,248.6L266.1,246.7L265.3,245.5L265.3,243.4L266.5,242.4M254.2,227.5L254.5,229.5M268.0,242.0L266.5,242.4M246.2,257.1L244.7,258.5L243.8,259.6L241.9,260.0L239.5,260.3L237.3,260.9L235.3,261.5L234.2,262.0L232.5,262.2L232.0,263.7L231.7,264.8M250.1,259.2L250.7,260.4L250.1,261.9L251.9,263.2L251.6,265.5L250.3,266.9L250.6,268.7L249.7,269.9L251.4,271.6L251.4,273.2M254.6,419.4L255.0,417.0L255.9,415.5L257.0,414.0L258.2,413.5M248.2,401.9L249.1,403.1L250.5,404.8L251.8,405.6L254.2,406.0L254.3,408.2L255.0,409.4L254.7,410.7L256.2,411.8L257.0,412.4L258.2,413.5M217.7,401.6L219.7,402.0L222.1,401.1L223.5,399.9L225.1,399.9L225.7,398.6L226.5,397.0L228.7,396.8L228.8,395.2L229.8,394.6M232.8,396.9L231.3,395.1L229.8,394.6M248.2,401.9L247.0,401.0L247.1,399.2L248.4,397.8L248.9,396.3M232.8,396.9L233.4,394.7L235.8,393.8L237.5,394.0L238.4,392.9L239.1,394.1L240.4,394.5L242.3,395.2L244.0,395.1L245.2,395.2L246.8,395.3L248.9,396.3M211.2,380.4L212.3,379.7L213.2,378.7L215.5,379.6L217.5,379.5L218.4,378.3L220.3,378.4L221.6,379.1L222.7,379.0L223.8,380.7L225.2,379.8L226.5,379.0L227.5,380.1L229.3,380.6M229.8,394.6L230.0,392.7L230.6,391.5L231.6,389.3L230.5,387.2L228.7,386.3L228.6,384.0L229.6,382.6L229.3,380.6M215.1,360.9L213.5,361.6L211.3,361.3M215.1,360.9L216.4,361.7L217.4,362.9L218.1,364.9L219.5,364.5L220.8,365.7L222.3,365.7L223.9,366.2L225.3,366.8L226.3,367.9L227.0,366.8L228.7,366.6M228.7,366.6L230.0,368.1L230.6,369.6L230.0,371.7L230.9,373.2L230.4,375.1L229.8,376.4L229.0,377.9L230.2,379.7M229.3,380.6L230.2,379.7M178.3,346.3L179.5,344.9L180.8,344.7L180.7,343.2L180.7,341.2L181.0,339.7L180.9,338.3L181.8,336.4M201.8,352.3L201.3,350.0L199.5,349.1L198.7,347.5L199.2,346.4L200.0,345.5L199.5,343.9L201.5,342.6L200.3,340.8L200.5,338.8M200.5,338.8L198.2,338.6L197.2,336.8L195.2,337.6L193.7,338.1L191.9,337.6L189.9,338.1L188.6,337.3L186.4,337.4L184.2,337.4L182.9,336.9L181.9,336.3M181.8,336.4L181.9,336.3M159.7,338.2L161.4,337.5L161.7,336.2L162.1,335.0L163.1,333.7L163.7,332.8L163.3,331.8L164.2,330.4L165.6,329.6L167.2,329.1M181.8,336.4L180.9,335.6L179.4,335.1L177.1,336.1L175.4,335.5L174.4,333.8L173.1,332.7L172.0,330.5L170.7,330.4L169.4,330.8L168.0,330.0L167.2,329.1M181.9,336.3L182.3,334.7L183.1,332.9L184.5,332.4L184.9,331.0L185.4,328.8L186.3,327.8L186.6,325.9L187.6,323.9L186.9,322.7L186.7,321.3L186.2,319.0M184.0,317.0L185.5,317.7L186.2,319.0M225.8,338.9L224.1,338.3L221.8,338.8L220.2,338.1L219.0,337.3L218.5,335.4L217.0,334.9L215.5,333.1M200.5,338.8L201.3,337.6M215.5,333.1L214.2,334.6L213.0,335.8L210.9,335.7L208.7,334.8L206.8,336.4L205.2,337.3L203.7,338.0L201.3,337.6M199.5,259.2L198.9,257.7L197.5,257.4M199.5,259.2L200.6,260.2L201.9,260.1L202.7,258.7L204.4,258.2L205.5,257.7L207.2,257.5L209.0,256.2L208.8,254.5L210.1,254.8L211.4,254.3L212.9,253.2L215.1,254.2L216.3,253.6L217.8,254.1M217.8,254.1L218.0,252.5L218.6,251.0M241.8,247.3L239.4,246.7L236.9,246.6L235.7,245.8L235.0,244.9L233.3,243.9L232.6,242.8L232.5,241.5L230.9,241.6L229.7,240.7L228.0,240.3L226.5,240.3L225.6,240.8M220.9,260.4L219.6,258.9L219.3,257.0L219.3,255.0L217.8,254.1M218.6,251.0L220.1,249.7L221.1,248.8L221.9,247.3L222.0,245.5L222.8,244.1L223.9,243.4L225.3,242.3L225.6,240.8M229.3,229.3L227.7,229.4L226.9,231.0L227.3,232.9L226.0,234.0L224.5,235.5L224.5,236.9L225.2,238.5M225.6,240.8L225.2,238.5M149.7,311.3L150.3,309.9L152.0,309.0L153.9,307.6L156.1,308.2L157.2,306.2L158.8,305.4L158.6,303.9L159.6,302.3M159.6,302.3L160.7,302.4L162.3,302.3L164.1,302.0L165.3,303.2L166.8,304.5L167.9,304.0L169.4,303.9M137.6,302.0L137.5,299.6L137.8,298.0L139.1,296.6L141.2,295.7L143.3,294.5L144.2,293.5L145.7,293.5L146.7,291.6L148.4,290.5L149.9,290.9L150.9,289.9L152.3,290.0M159.6,302.3L158.5,301.0L156.7,299.8L156.9,298.1L156.3,295.8L154.9,294.9L154.6,293.3L153.0,291.6L152.3,290.0M152.0,280.0L153.5,281.6M152.3,290.0L151.4,288.4L151.9,287.2L152.3,286.0L153.7,285.5L152.9,284.0L153.5,281.6M184.0,317.0L182.9,315.0L183.5,314.0L182.9,312.4L181.7,311.1L180.1,309.5L180.0,307.1L179.0,305.7L179.6,304.5L178.7,303.0L178.6,301.3L177.5,300.7M169.4,303.9L171.0,303.5L171.8,302.4L172.6,300.1L174.1,299.8L175.4,299.9L177.5,300.7M184.5,227.7L183.2,225.8L183.7,224.0L184.2,222.4L183.0,221.1L184.1,219.2L185.6,218.5L185.1,217.2L185.4,215.5M184.5,227.7L186.3,227.7L187.2,226.4L188.8,226.6L189.4,227.8L190.9,227.8L192.0,228.3L192.6,229.7L193.4,231.0L195.2,231.2L196.0,232.3L197.3,231.4L199.1,232.0L201.1,232.5L202.7,232.2L203.5,231.3M208.7,219.0L207.4,219.7L207.4,221.5L207.9,223.6L207.9,225.4L207.4,226.6L207.2,228.9M203.5,231.3L204.0,230.0L205.5,229.6L207.2,228.9M179.7,233.9L179.0,235.3L179.8,236.7M179.7,233.9L180.9,232.1L181.1,230.4L182.3,228.3L184.5,227.7M225.2,238.5L223.7,236.8L221.7,235.4L220.4,234.7L218.7,233.7L217.6,233.2L216.6,232.2L214.3,231.5L212.1,231.7L210.8,231.1L209.4,231.0L208.6,229.7L207.2,228.9M215.7,215.7L214.4,216.2L213.9,217.8L212.1,218.3L210.7,219.0L208.7,219.0M186.7,195.0L188.1,193.6L189.5,193.6L190.9,193.8L192.2,193.6L193.5,195.0L195.1,195.7L196.2,195.0M181.7,209.8L183.5,210.2L184.6,211.7L184.3,213.5L185.4,215.5M203.8,200.0L202.6,199.2L201.5,199.0L200.5,197.5L200.4,195.9L198.4,195.9L196.2,195.0M189.4,174.0L190.7,174.3L192.0,173.5L193.0,172.6L194.1,171.3L195.7,169.4L197.2,168.5M204.5,178.4L205.2,176.5L204.8,175.0L204.5,173.3L202.9,171.7M197.2,168.5L198.4,170.1L199.6,172.1L201.0,171.6L202.9,171.7M168.4,230.0L167.3,232.1L166.0,233.0L164.4,232.1L163.1,234.0L162.7,235.0L162.0,236.2L159.8,237.0L158.4,237.6L156.3,238.1L155.0,239.3L153.2,238.8M153.2,238.8L152.4,237.2L151.1,236.3L150.8,235.1L149.5,233.7L149.4,232.3L148.9,231.2L148.1,229.5L147.3,227.7L148.3,226.8L148.2,225.2L146.4,223.5L145.9,222.5L145.4,221.0M145.4,221.0L146.3,220.1L146.1,218.4M179.7,233.9L178.5,232.7L177.1,232.5L175.8,231.3L174.9,230.4L173.1,230.5L171.9,231.1L169.7,230.6L168.4,230.0M152.3,243.1L152.6,241.7L152.3,240.5L153.2,238.8M145.9,217.7L146.1,218.4M132.0,231.5L132.8,230.2L133.8,229.1L134.3,227.0L136.5,226.4L138.1,225.5L139.0,224.5L140.2,224.2L142.6,224.1L143.9,222.2L145.4,221.0M139.8,211.2L138.4,209.3L136.3,209.0L135.0,207.9L133.4,208.1L132.2,209.3L131.0,209.2L129.3,207.4L127.9,207.4L126.7,207.5L126.3,208.6L125.4,209.7L123.4,209.7M259.9,203.5L258.7,201.3L259.2,200.1L259.5,198.7L258.6,197.8L257.8,196.6L258.7,194.5L258.2,192.2L258.7,190.5L258.1,188.8L258.2,187.3L256.5,185.6M246.5,188.4L248.6,187.5L249.9,186.9L251.2,186.4L253.3,185.3L254.9,184.9L256.5,185.6M261.5,178.5L259.7,179.8M236.0,169.2L235.9,171.1M259.7,179.8L258.2,180.1L257.4,181.6L256.4,183.2L256.5,185.6M236.6,126.3L235.1,127.8L233.8,128.2L233.0,129.2L233.9,130.8L233.5,132.5M256.9,155.1L256.4,154.5M341.1,288.1L341.5,286.9L340.5,285.5L339.6,284.0L337.6,283.4L335.5,283.4L334.6,281.9L334.1,280.5L332.5,280.1L331.2,278.6M341.1,288.1L340.0,289.8L339.2,291.4L340.3,292.1L341.2,293.0L341.0,295.0L339.9,296.7L341.0,298.7L339.8,300.5L339.1,301.6L337.7,302.0M337.7,302.0L336.6,302.3L335.1,302.4L332.9,301.6L332.1,300.8L331.1,299.7L329.5,299.0L328.0,299.9L327.3,299.0L326.2,297.6L325.8,296.2L324.8,294.4L322.9,294.9L321.6,294.1L319.6,293.2M330.9,278.5L328.9,279.5L328.0,278.4L326.3,278.4L325.0,278.5L323.1,279.3L322.3,281.6M330.9,278.5L331.2,278.6M322.3,281.6L321.7,283.8L320.6,285.0L320.8,286.5L321.0,288.3L319.7,289.8L319.3,291.4L319.6,293.2M353.8,286.6L352.0,286.5L350.7,285.9L348.6,285.6L347.3,286.7L345.4,286.2L343.8,287.4L342.2,287.5L341.1,288.1M355.4,298.6L355.7,299.9L354.6,301.3L352.8,301.1L351.6,302.1L350.4,302.4L349.0,302.7L347.9,304.5L347.0,305.5L345.3,305.4L345.1,306.9L344.2,308.2L341.9,308.0L339.9,308.0M339.9,308.0L339.4,306.2L337.6,305.5L337.5,303.8L337.7,302.0M331.9,260.0L332.5,262.3L333.2,264.7L332.5,266.0L330.9,266.0L330.4,267.3L330.8,269.3L332.2,271.1L332.7,273.1L333.3,274.5L332.6,276.3L331.9,277.4L330.9,278.5M309.9,262.1L309.8,264.3L310.0,266.2L309.9,267.7L308.4,267.9L307.8,269.5L308.2,271.5M308.2,271.5L308.5,272.7L309.1,274.1L310.3,274.5L311.4,275.9L313.6,276.2L315.8,276.7L316.7,278.7L318.6,280.3L320.6,280.7L322.3,281.6M294.4,285.0L295.8,284.2L296.2,282.4L296.6,281.0L298.4,280.6L299.3,279.4L301.4,279.2L302.8,277.2L302.0,276.3L301.8,274.8M294.4,285.0L295.4,285.7L295.7,287.4L296.1,288.5L296.7,289.9L297.2,291.1L298.0,292.7L299.1,294.1L298.5,295.8M298.5,295.8L300.5,295.8L302.0,296.1L303.5,296.7L304.9,298.4L305.1,300.4L306.6,300.7L308.2,300.3L310.1,301.7L311.8,301.2L312.9,300.5M312.9,300.5L314.4,299.4L315.2,298.2L316.6,297.5L317.0,296.2L317.7,295.0L318.2,293.6L319.6,293.2M308.2,271.5L306.6,271.9L304.9,272.5L303.5,273.3L301.8,274.8M339.9,308.0L339.7,309.2M313.7,304.4L314.0,302.1L312.9,300.5M313.7,304.4L314.7,306.2L315.8,305.8L317.4,306.2L318.9,305.2L320.4,305.9L322.0,306.8L322.5,308.2L323.0,310.5L323.9,312.0L325.1,312.8L326.8,313.6L327.2,315.2L328.7,315.6L329.7,316.1M329.7,316.1L330.8,314.8L333.0,315.1L335.2,315.2L336.5,314.3L337.6,312.7L339.1,312.1L340.1,310.7L339.7,309.2M365.8,311.3L364.4,310.4L362.3,311.4L360.8,312.8L358.6,313.8L357.2,314.4L355.8,313.6L354.7,314.2L352.9,314.4L352.4,316.7L350.6,318.2M339.7,309.2L341.3,309.4L343.0,309.8L344.4,311.5L345.8,313.1L346.3,314.8L347.8,315.2L348.5,317.0L350.6,318.2M368.4,327.8L367.5,328.6L366.5,329.6L365.1,329.2L363.7,328.9L362.9,330.8L361.6,332.0M361.6,332.0L361.3,330.5L359.9,329.2L358.6,328.2L357.3,327.3L356.0,328.5L353.9,328.6L353.0,326.8L350.7,326.6M350.6,318.2L350.9,319.6L349.6,320.7L349.8,323.1L349.6,325.2L350.7,326.6M343.4,464.6L344.5,465.0L345.8,465.5M343.4,464.6L342.0,465.5L341.9,466.9L340.2,467.3L338.8,469.2M338.8,469.2L338.0,470.4L338.8,471.8L340.2,473.1L341.9,473.8L342.8,475.1M347.0,467.1L345.7,467.6L345.5,469.2L343.8,471.0L344.0,472.8L344.8,473.8L344.2,475.4M347.0,467.1L345.8,465.5M342.8,475.1L344.2,475.4M350.3,459.4L348.8,460.4L346.5,461.2L345.4,463.0L345.8,465.5M340.6,459.6L341.5,460.8L340.8,462.4L342.5,462.8L343.4,464.6M335.7,468.4L337.1,468.5L338.8,469.2M337.6,477.7L339.0,477.3L339.6,475.4L340.9,475.3L342.8,475.1M353.0,468.0L351.8,469.3L349.7,469.1L348.5,467.8L347.0,467.1M345.9,476.7L344.2,475.4M487.0,453.5L488.6,452.7L489.3,451.5L490.3,450.8L491.8,451.5L493.2,450.7L495.4,449.9L497.3,448.9L499.3,448.3L501.4,448.3L502.7,446.9M487.0,453.5L486.0,451.7L486.1,450.1L483.7,450.1L482.6,448.1L480.9,447.0L479.2,446.1L478.4,445.2L477.0,444.7L475.0,445.5M502.7,446.9L502.0,445.2L501.4,444.1L501.9,442.5L500.4,440.8L499.5,438.9L498.2,437.1L499.0,435.2L498.4,433.9L498.7,432.7L499.5,431.5L499.3,430.1L498.3,429.2M475.0,445.5L475.9,443.6L477.3,442.3L477.1,440.1L477.7,438.1L476.9,436.9L478.1,434.9L477.7,432.7L477.8,431.4L478.8,430.1L478.0,428.5L477.3,427.4M498.3,429.2L496.5,428.3L496.1,426.7L494.6,425.8L492.6,424.3L490.8,425.1L488.8,424.4L487.0,423.7L484.7,423.6M484.7,423.6L482.7,424.6L481.2,426.3L478.8,425.8L477.3,427.4M463.0,450.5L464.2,449.6L465.7,448.7L467.5,449.3L469.0,448.9L470.8,448.0L471.7,446.6L473.0,445.9L475.0,445.5M484.7,471.6L486.7,470.0L486.4,468.7L486.1,466.8L485.3,464.7L484.4,463.4L484.1,462.0L484.9,460.4L484.5,459.1L485.4,456.9L486.6,455.4L487.0,453.5M460.7,420.6L461.9,421.7L461.7,422.9L463.6,423.6L465.2,424.5L466.7,424.5L467.8,425.1L469.2,424.1L470.3,424.0L472.0,425.3L473.7,424.9L475.3,426.4L477.3,427.4M511.7,418.8L510.7,419.5L508.9,419.8L509.1,421.0L508.3,422.6L506.8,423.3L504.8,424.5L502.8,425.8L500.9,426.4L499.8,428.0L498.3,429.2M487.0,405.5L487.7,407.4L488.5,408.9L488.4,410.3L486.7,411.9L487.2,414.4L486.5,416.6L485.7,417.6L484.3,418.1L483.9,419.3L483.5,420.8L484.5,422.1L484.7,423.6M535.0,450.5L535.3,452.9L535.1,454.6L535.3,456.1L534.0,457.4L533.6,459.8L533.2,461.7L532.9,463.4L533.4,464.8L533.9,466.5L532.7,468.6M535.0,450.5L532.8,450.6L531.2,448.7L530.5,447.4L528.8,447.4L527.5,446.2L525.6,445.4L523.8,444.1L523.0,442.5M507.3,449.1L509.7,449.2L511.1,448.1L512.7,447.5L513.6,446.6L513.6,444.2L514.6,443.6L516.3,443.6L517.6,443.2L519.1,443.8L521.1,444.1L523.0,442.5M507.3,449.1L506.4,450.1L505.9,451.4L506.6,453.3L507.5,454.7L507.6,456.4L508.5,458.4L510.4,459.8L510.0,462.3L511.0,463.1L511.7,464.3L511.4,465.7L511.7,466.8M511.7,466.8L513.9,466.9L515.3,468.5L515.5,470.4L517.0,471.4L519.1,471.9L520.8,473.0L523.1,472.3L525.3,472.4M525.3,472.4L526.7,470.6L528.1,470.6L529.7,470.3L531.2,469.1L532.7,468.6M547.0,445.5L545.4,445.9L543.8,446.3L542.2,445.7L540.4,446.9L539.4,448.3L537.5,448.9L536.7,450.0L535.0,450.5M549.3,475.4L548.0,474.9L546.7,474.6L545.4,473.3L545.7,471.9L544.6,473.1L543.1,473.2L540.9,472.4L541.0,470.5L539.7,469.7L538.0,470.1L536.7,469.2L535.0,469.6L533.7,469.4L532.7,468.6M525.3,424.4L525.6,425.7L525.0,427.3L525.8,429.3L526.4,431.7L525.3,433.8L524.6,435.2L525.4,436.4L523.6,437.9L522.8,439.3L523.6,440.7L523.0,442.5M502.7,446.9L503.9,446.9L505.2,447.2L505.7,448.4L507.3,449.1M498.3,477.2L500.2,476.5L502.3,475.6L502.0,474.2L501.8,472.5L503.0,471.6L504.1,470.3L504.9,468.3L506.8,467.1L508.5,466.5L509.6,465.8L511.7,466.8M523.0,490.5L522.2,488.5L520.8,487.9L521.2,486.7L521.5,485.4L521.6,483.5L522.2,482.6L522.1,481.0L523.4,478.9L523.8,477.5L525.0,476.7L524.2,474.9L524.7,473.6L525.3,472.4M270.9,261.9L273.1,261.1L274.6,259.7L275.9,261.1L277.8,261.2L279.6,261.8L281.2,261.0L282.8,259.9L284.2,259.7M284.9,261.3L284.2,259.7M288.5,250.6L287.6,251.6L286.7,252.6L287.0,254.6L286.1,255.9L284.2,257.2L284.1,258.2L284.2,259.7M262.3,255.0L263.3,257.0L262.6,258.4L263.9,258.7L265.6,259.8L265.8,261.1L267.4,261.8L269.2,262.1L270.9,261.9M251.4,273.2L252.2,275.1L254.0,276.2L255.4,277.4L256.4,278.6L257.6,277.9L259.0,278.6M301.8,274.8L299.9,273.3L298.3,272.4L298.3,270.6L296.2,270.4L295.2,269.3L295.2,267.7L294.4,266.6L293.2,266.1L291.6,265.3L291.8,263.5L290.6,262.4L289.1,262.8L287.4,263.2L286.1,262.1L284.9,261.3M294.4,285.0L294.0,283.5L292.8,282.8L291.3,281.9L289.2,282.9L287.2,283.3L286.2,284.9L284.1,283.7L282.1,283.4M258.6,289.5L259.1,287.7L260.5,287.3L261.3,285.7L260.7,284.2M258.6,289.5L260.1,290.0L261.3,291.0L260.6,293.2L261.5,294.8L262.1,296.2L263.3,297.4L263.2,298.9L263.1,300.0M260.7,284.2L262.9,284.6L263.6,285.7L264.7,286.7L267.0,287.1L268.8,285.9L270.6,287.3L272.6,288.0L273.7,286.5L274.8,285.9L276.2,286.5L278.2,286.9M278.2,286.9L277.1,287.3L276.1,288.5L275.3,290.0L275.9,291.7L277.0,292.6L276.6,294.2L276.2,295.2M244.6,293.8L246.2,295.3L247.2,294.8L248.9,294.3L250.5,293.4L252.1,292.6L253.7,292.6L254.8,291.3L257.2,291.3L258.6,289.5M259.0,278.6L259.5,280.7L261.2,281.3L260.9,282.8L260.7,284.2M282.1,283.4L281.3,284.4L281.6,286.0L280.3,286.6L278.2,286.9M228.7,366.6L229.1,365.1L230.6,364.6L229.7,362.7L230.6,360.8L232.5,360.1L233.6,358.7L235.7,357.5M235.7,357.5L234.5,355.8L233.1,354.9L232.7,353.1L233.0,351.0L230.9,349.9L229.3,348.4L227.8,348.2M225.8,338.9L226.0,338.9M227.8,348.2L227.6,347.0L228.7,345.7L227.9,344.6L228.0,343.3L227.9,341.7L226.7,341.1L226.0,338.9M296.3,434.2L298.2,434.8L299.7,434.1L301.1,432.8L301.7,431.1L301.7,429.2L303.1,427.7L304.4,427.0L305.1,425.3M316.4,425.2L314.8,424.6L313.4,425.5L312.8,424.0L311.2,423.5M305.1,425.3L307.0,425.6L307.9,424.5L309.4,424.6L311.2,423.5M248.9,396.3L250.8,396.2L251.4,394.9L252.5,394.0L252.5,392.1M230.2,379.7L230.5,378.2L231.6,377.4L232.6,376.4L234.5,376.9L236.2,377.2L238.2,377.7L239.7,378.1L241.3,377.4L243.4,377.2L245.2,377.1L246.5,377.5L247.3,378.6M247.3,378.6L248.4,379.8L248.3,381.0L247.8,382.7L250.1,383.6L250.8,385.3L251.0,386.5L251.6,387.8L250.6,389.4L251.9,390.9L252.5,392.1M248.1,306.2L250.4,307.1L252.0,308.2L251.2,310.5L252.2,312.6L252.9,314.4L253.6,316.6L254.9,317.3L256.4,318.5M248.1,306.2L247.7,306.0M255.7,324.9L255.3,322.7L256.5,321.4L256.6,319.7L256.4,318.5M255.7,324.9L254.3,325.0L252.7,324.1L251.5,325.5L250.0,326.3L248.0,327.2L246.7,327.0L245.4,325.9L243.1,324.9L241.3,325.4L240.0,325.2L238.6,323.5L237.8,322.3L236.0,321.5L234.6,322.1M234.6,322.1L234.3,321.3M266.4,309.5L266.8,307.7L267.0,306.5L266.4,304.3L265.9,302.0L263.7,301.7L263.1,300.2M266.4,309.5L264.5,310.1L263.2,309.3L261.8,310.9L260.6,312.4L259.7,314.2L258.8,315.3L257.2,316.6L256.4,318.5M263.1,300.2L263.1,300.0M244.6,293.8L244.4,295.6L243.2,296.3L242.6,298.5M242.6,298.5L243.4,300.7L245.1,302.1L246.8,303.9L247.7,306.0M257.6,328.2L256.4,329.6L255.0,331.6L255.8,333.3L255.4,335.2L254.3,336.6L252.8,338.0L251.8,340.1L251.6,341.3L251.3,342.9M231.0,335.3L232.3,335.2L234.0,335.9L234.7,337.2L235.3,338.2L237.3,337.9L239.0,339.1L240.5,339.7L241.3,341.0L243.3,340.5L244.3,339.2L245.6,340.2L247.3,341.0L249.6,341.4L251.3,342.9M257.6,328.2L257.2,325.9L255.7,324.9M231.0,335.3L230.4,333.7L230.7,332.0L230.7,330.2L231.7,328.6L233.0,328.0L233.2,326.5L235.0,325.8L235.3,324.2L234.6,322.1M242.6,298.5L241.1,298.6L239.3,298.7L238.0,299.3L236.2,298.8L235.1,299.9L233.9,299.9L232.1,300.1L230.4,300.5M228.5,299.6L230.4,300.5M234.3,321.3L233.8,320.8M230.4,300.5L230.5,302.8L230.1,304.2L229.2,305.3L228.0,306.3L228.2,308.2L229.7,309.1L230.1,310.4L230.0,312.1L228.5,313.6L229.0,314.7L229.9,316.1L230.5,317.1L230.4,318.8L232.2,319.2L233.8,320.8M266.4,309.5L267.5,310.7L268.7,310.8L270.1,310.6L272.1,310.4L273.5,311.8L275.4,312.5L277.3,312.2L278.2,313.4M276.2,295.2L276.5,297.1L275.1,298.2L276.7,300.0L278.6,301.0L279.8,301.9M278.2,313.4L279.1,311.8L279.8,310.7L280.0,308.3L279.0,306.4L279.5,304.8L280.4,303.3L279.8,301.9M298.5,295.8L297.5,296.8L296.7,298.1M189.4,319.0L189.2,320.6L190.4,321.8L192.0,322.3L194.1,322.6L195.7,324.5L197.4,323.9L198.6,323.9M198.6,323.9L199.6,323.0L201.1,322.8L203.0,322.1L204.7,320.6L205.4,318.8L207.4,318.2L208.8,316.9L210.8,316.3L213.1,315.4M199.9,307.1L201.5,308.3L203.4,308.4L204.4,309.6L206.1,310.3L208.0,311.2L209.6,310.7L210.7,311.7L212.1,311.3L213.0,313.1M213.0,313.1L213.3,314.9M213.1,315.4L213.3,314.9M186.2,319.0L188.1,318.1L189.4,319.0M201.3,337.6L200.9,336.2L199.6,334.7L199.7,333.5L199.4,332.2L200.3,330.1L199.0,328.4L198.3,327.1L199.2,325.7L198.6,323.9M228.5,299.6L226.9,299.1L225.6,299.5L223.6,299.4L222.1,299.9L220.4,300.2L219.5,301.3L218.2,301.6M218.2,301.6L217.6,303.2L217.3,304.5L215.5,304.8L215.0,306.2L213.5,307.2L212.3,309.2L213.8,311.1L213.0,313.1M233.8,320.8L232.6,320.2L231.2,319.7L230.3,318.4L229.4,317.2L227.7,317.5L226.6,317.7L224.6,317.7L223.1,316.5L221.6,316.4L220.7,315.1L219.3,314.9L218.0,314.6L215.5,314.8L213.3,314.9M231.0,335.3L231.1,337.0L229.7,338.2L228.0,338.2L226.0,338.9M180.1,295.6L179.4,293.4L180.5,291.5L181.6,289.9L181.0,288.4L179.6,287.0L178.9,284.7L177.7,283.5L177.3,281.6M180.1,295.6L181.9,297.2L183.8,297.5L185.5,298.0L187.5,297.0L188.1,298.1L188.7,299.3L190.2,299.8L191.7,299.5L193.7,298.6L195.9,297.8M195.9,297.8L196.0,296.1L197.5,294.2L198.9,292.3L200.5,291.7L202.6,290.3L205.0,290.5L206.3,288.5L208.5,288.6M177.9,280.5L177.3,281.6M177.9,280.5L179.6,280.0L180.0,278.6L181.0,276.9L182.5,276.8L184.0,276.5L185.1,275.7L186.6,277.1L188.4,277.6L189.8,275.8L191.7,276.1L194.2,276.0L195.5,276.4L197.1,276.1L197.9,274.6L199.5,274.4M199.5,274.4L200.9,274.9L201.6,276.4L203.2,275.7L205.0,276.8L206.1,278.1L208.4,278.4L208.8,280.0L209.3,281.4M209.3,281.4L210.8,283.2L210.4,284.5L210.9,286.0L210.4,288.0L208.5,288.6M153.5,281.6L154.8,280.9L156.4,281.2L158.0,281.7L158.6,283.9L160.3,285.0L162.2,284.9L164.4,284.2L165.0,282.4L166.6,283.3L168.1,282.5L168.9,281.4L170.2,279.7L172.4,280.3L174.7,280.1L176.3,280.7L177.3,281.6M177.5,300.7L178.9,300.1L180.4,298.6L179.6,297.1L180.1,295.6M199.9,307.1L198.4,305.1L198.3,302.8L198.4,301.5L198.6,299.9L197.7,298.8L195.9,297.8M218.2,301.6L217.2,300.3L216.9,298.2L214.5,298.3L213.8,296.6L212.7,295.9L211.5,294.2L210.1,293.2L210.7,290.9L209.0,290.5L208.5,288.6M175.3,263.5L175.8,265.9L175.4,267.1L174.0,267.8L174.7,269.7L176.0,270.5L176.5,272.7L175.7,274.0L175.2,275.2L176.2,277.4L177.7,278.6L177.9,280.5M199.5,259.2L201.1,260.7L201.8,262.2L200.9,263.2L200.2,264.2L200.4,266.0L200.3,267.4L200.6,269.5L200.3,271.5L199.9,272.9L199.5,274.4M213.4,279.3L211.1,279.8L209.3,281.4M236.5,125.9L236.5,124.2L235.0,123.4L234.9,121.9L234.8,120.7L234.1,119.2L232.8,118.3L231.0,116.8L229.7,116.5L228.7,115.1L226.5,114.3L226.6,112.6L226.2,111.0L224.8,110.0L222.7,108.7M222.7,108.7L222.0,107.1L222.3,105.1L222.2,102.8L220.6,102.2L219.7,101.3L219.5,100.1L218.9,98.9L218.4,96.8L219.4,95.0L220.2,93.7L221.0,93.0M221.0,93.0L221.7,91.5L221.3,89.4L220.1,87.7L218.1,86.8M129.4,126.6L129.0,128.6L130.5,130.6L131.6,131.8L131.2,133.8L131.1,136.1L132.0,137.6L133.2,138.3L133.9,140.2L135.7,139.4L137.2,140.3L138.6,142.3L137.7,143.5L137.8,144.9L139.1,146.5L138.9,148.5L138.2,150.3L138.6,152.3L140.0,153.0M145.3,120.5L145.5,122.3L145.8,123.9L148.0,124.4L148.9,126.1L147.8,128.2L147.6,129.7L149.0,130.9L150.1,132.5L150.9,134.2L151.2,135.9L152.1,136.8L152.9,138.5L152.9,140.6L151.7,142.3L152.5,143.7L152.1,145.0L152.8,146.5L154.6,147.1M204.5,178.4L205.8,179.4L207.0,179.5L208.9,179.9L210.1,181.0L210.9,182.8L210.9,184.2L210.5,185.4L212.0,187.2L212.8,188.2L214.4,189.3M203.8,200.0L204.9,199.3L206.3,199.5L207.4,197.7L209.4,196.9L210.4,197.9L212.0,197.8M214.4,189.3L215.2,191.3L214.2,193.4L212.1,194.5L212.6,195.9L212.0,197.8M221.1,207.5L220.9,206.1M220.9,206.1L219.4,206.1L218.4,204.9L216.7,204.9L215.7,202.8L214.2,201.6L213.5,200.4L212.3,199.6L212.0,197.8M157.3,183.5L156.2,182.3L155.0,180.6L153.9,180.6L152.3,180.6L151.9,179.4L150.5,178.1L148.9,177.6L148.3,176.0M142.6,195.0L141.4,193.3L140.1,191.7M148.3,176.0L147.0,175.9L145.3,176.0M145.3,176.0L146.2,178.1L144.8,180.1L143.0,179.5L141.7,180.4L140.8,182.7L141.6,184.5L141.7,185.9L142.6,187.1L142.9,188.4L142.6,189.6L141.6,190.7L140.1,191.7M137.2,164.3L137.3,165.7L136.4,167.0M137.2,164.3L136.7,162.4L136.8,160.4M136.4,167.0L134.6,167.0L133.4,166.7L131.5,166.7L130.1,164.7L128.9,165.6L126.8,165.3L125.2,165.7L124.0,165.1L122.5,167.0M122.5,167.0L121.0,166.1L120.8,164.4L119.5,163.9L118.3,163.9M140.0,153.0L138.5,153.9L137.0,153.7L136.5,155.3L136.3,156.4L136.4,158.8L136.8,160.4M85.0,162.9L86.5,162.6L88.1,163.8L90.2,164.9L91.9,166.5L93.1,167.6L94.5,167.8L96.2,168.3L96.6,169.9L98.0,170.7L99.8,170.5L100.9,171.7L102.8,171.6L104.3,171.1L105.2,170.4M105.2,170.4L107.3,169.8L108.8,170.0L110.1,169.0L112.1,168.0L113.3,167.1L114.6,166.3L115.6,164.2L117.0,163.9L118.3,163.9M404.9,382.5L404.1,381.6L402.4,380.9L400.8,380.8L399.3,380.3L399.4,378.8L397.9,377.8L395.5,377.7L394.3,378.5L392.5,378.1L390.1,378.5L388.6,378.2L387.2,378.9L387.1,377.7L386.1,376.5L384.2,376.5M379.0,394.5L380.5,392.5L380.8,390.9L380.9,389.2L381.7,388.5L382.1,386.8L381.7,385.3L382.7,383.9L382.0,382.8L381.2,381.7L381.3,379.4L381.1,377.9M381.1,377.9L382.4,376.9L384.2,376.5M403.3,365.0L402.2,363.9L401.0,362.3L399.8,363.1L398.2,362.6L396.2,363.2L394.0,362.5L392.8,363.3L391.2,362.4M384.2,376.5L385.4,376.4L387.0,376.6L387.4,375.1L388.4,374.3L387.9,372.5L388.7,370.7L389.1,368.6L388.4,366.7L388.3,364.2L390.0,363.9L391.2,362.4M396.7,338.1L395.5,338.7L394.2,339.1L392.9,340.5L392.8,341.7L392.2,342.9L391.0,344.4L389.3,345.0L388.1,346.6L386.3,348.3L385.4,349.3L384.7,350.8L385.6,352.5L385.2,354.0M390.8,361.2L390.5,359.8L389.7,358.7L388.1,357.5L386.8,356.4L385.6,356.0L385.2,354.0M390.8,361.2L391.2,362.4M379.1,335.7L378.8,337.8L376.7,338.9L376.7,340.2L376.0,341.7M385.2,354.0L384.0,353.8M361.6,332.0L361.0,333.6L361.4,335.8L361.4,337.0L361.8,338.3M376.0,341.7L373.5,341.3L371.4,342.3L370.2,343.9L368.3,344.8M361.8,338.3L363.4,340.2L364.9,340.9L366.0,341.2L366.5,342.5L367.4,343.3L368.3,344.8M269.8,353.7L268.5,353.2L267.2,353.6L266.0,353.4L265.2,351.9L263.9,351.1L262.2,351.3L261.2,350.7L260.0,350.0L257.7,349.7L256.0,349.7L255.0,348.9L254.2,347.8L252.5,346.9L251.8,344.6M269.8,353.7L270.8,355.0L271.2,356.4L269.7,357.2L269.5,358.9L267.5,360.3L266.9,361.8L265.4,362.7L263.7,364.2L262.8,366.3L261.1,367.3L260.0,368.3L259.8,369.7M251.8,344.6L251.5,346.8L249.4,348.2L248.0,349.2L247.7,351.1L248.4,352.4L248.5,353.7L247.1,355.4L245.8,357.5L243.9,357.5M243.9,357.5L243.6,359.8L243.5,361.5L245.3,361.3L246.6,362.8L247.7,364.9L247.0,366.5L248.2,368.3L249.2,370.2L249.9,371.3L251.7,371.4M251.7,371.4L254.1,371.6L256.2,372.3L258.4,371.3L259.8,369.7M251.3,342.9L251.8,344.6M235.7,357.5L237.3,357.0L239.6,356.7L241.6,357.7L243.9,357.5M247.3,378.6L249.1,377.3L250.9,376.9L251.8,375.4L252.2,373.3L251.7,371.4M258.2,413.5L259.7,413.4L261.4,412.6L263.7,412.2L264.6,410.8L266.5,410.0L267.5,408.6L268.1,407.3M252.5,392.1L254.0,391.9L255.0,391.6L257.1,392.0L258.8,392.8L260.8,392.1L261.4,393.3L262.8,394.3M262.8,394.3L261.6,396.4L262.5,398.4L263.8,400.0L263.3,401.5L264.5,401.8L265.9,401.8L267.8,403.4L268.4,405.1L268.1,407.3M277.2,420.3L277.2,418.4L277.4,416.2L278.6,414.1L277.6,412.8L277.9,411.7M277.9,411.7L276.0,412.0L275.0,410.8L275.3,409.2L273.9,407.7L273.0,407.0L271.6,406.2L269.7,406.6L268.1,407.3M192.0,110.9L191.0,109.9L190.6,108.3L189.2,106.9M174.9,137.0L176.5,138.4L178.6,138.2L179.9,137.8L181.4,136.9L183.4,136.8L184.6,137.4L185.7,138.2L187.5,137.4L189.1,139.2L190.7,140.3M168.2,114.8L168.8,117.2L168.2,119.0L169.7,120.9L169.3,121.9L168.8,123.4L169.4,124.5L169.8,126.1L169.8,127.7L170.4,128.7L171.8,130.2L172.0,131.9L172.8,132.8L173.8,134.5L173.7,136.0L174.9,137.0M192.0,110.9L192.2,113.1L191.6,114.6L193.0,116.2L192.7,117.9L192.3,120.1L193.2,121.6L194.6,123.3L195.8,124.5L197.5,124.5M221.6,186.5L221.1,185.2L222.3,183.9L223.8,182.6L222.8,181.5L223.2,179.6L223.8,177.9L225.0,177.0M225.0,177.0L226.0,175.6L226.9,174.2L228.4,174.7L229.9,174.5L231.9,173.0L233.5,172.6L235.3,172.1M238.2,183.9L237.7,182.5L237.4,180.8L237.2,179.5L238.2,178.0L237.6,176.3L237.4,174.6L236.2,173.2L235.3,172.1M214.4,189.3L215.8,187.8L216.9,186.9L218.0,186.0L219.5,185.8L221.6,186.5M246.5,188.4L245.5,187.3L244.4,186.8L242.9,186.9L241.5,186.4L239.2,186.0L238.2,183.9M235.9,171.1L235.3,172.1M124.2,193.0L126.1,191.5L127.5,190.3M124.2,193.0L123.1,191.5L121.6,191.5L121.0,189.5L119.6,188.9L118.0,187.8L116.1,187.0L115.8,185.4L115.1,184.4L113.8,183.4L112.2,183.4L110.7,184.0L109.9,185.1M109.9,185.1L109.6,183.1L110.1,181.8L110.7,180.5M145.3,176.0L144.7,173.8L144.2,172.5L143.2,171.4L143.1,169.7L141.2,168.7L140.3,169.5L138.9,169.6L137.3,168.9M140.1,191.7L138.2,192.3L137.0,191.1L135.6,190.9L134.1,192.1L132.5,191.8L131.5,191.0L129.8,191.2L127.5,190.3M137.3,168.9L136.4,167.0M105.2,170.4L107.1,171.8L108.9,172.0L109.0,173.9L110.1,174.8L110.6,176.3L111.9,177.1L112.2,178.8L110.7,180.5M120.7,204.5L121.3,203.1L122.3,202.1L123.4,200.5L123.0,198.1L123.8,197.3L124.5,195.9L123.8,194.3L124.2,193.0M108.0,186.6L109.9,185.1M330.2,417.1L329.6,415.4L329.9,413.4L330.1,411.3L329.8,409.8L331.1,407.8L331.3,405.4L331.6,403.8L331.2,402.8L329.9,402.3L328.5,401.3M353.6,415.0L351.6,414.0L350.1,412.6L350.0,410.5L349.0,409.2L347.4,407.5L345.2,408.0L343.8,407.8L343.0,406.3L341.3,405.7L339.8,404.8L338.6,404.5L336.8,402.9L335.2,402.4L333.9,401.4L333.9,400.0L331.7,399.8L331.6,397.5L330.7,395.3M328.5,401.3L329.7,399.7L330.0,398.0L330.7,396.9L330.7,395.3M311.2,423.5L309.7,421.6L309.8,419.2L311.9,418.0L312.5,416.7L311.8,415.3L312.5,413.8L311.7,412.7L312.0,410.7L311.2,408.7L310.5,407.4L309.9,406.3M328.5,401.3L327.1,402.5L325.6,402.8L324.3,402.6L323.0,402.6L321.4,402.8L318.9,402.5L317.5,403.3L316.4,404.2L315.0,404.4L314.2,406.0L312.5,406.6L311.0,406.3L309.9,406.3M278.2,313.4L278.6,314.0M296.7,298.1L295.6,299.0L295.7,300.8L295.7,302.1L296.5,303.7L295.4,304.3L294.5,305.3L292.8,306.3L291.1,307.6L291.2,309.2L290.6,310.2L291.6,311.3L292.5,312.5L292.7,314.7L291.8,315.9M291.8,315.9L290.0,315.9L288.9,316.3L287.5,315.5L286.4,314.8L284.8,314.9L283.2,314.2L282.1,315.1L280.0,314.6L278.6,314.0M257.6,328.2L259.2,326.8L261.1,326.6L263.0,327.4L264.1,328.2L265.7,329.0L266.6,330.8L268.8,331.0L270.4,330.2L272.2,329.6M278.6,314.0L278.1,316.1L276.2,317.1L275.4,318.7L275.3,319.9L275.4,321.4L275.0,322.5L275.3,323.9L275.2,326.0L275.3,327.6L274.3,328.5L272.2,329.6M271.0,353.4L271.4,352.4L271.4,350.9L273.0,350.4L274.3,349.7L274.3,347.6L272.9,346.6L273.3,345.3L274.2,343.9L275.0,342.7L274.4,341.0L276.4,339.6L275.5,338.8L275.3,337.3L275.4,336.1L276.2,334.6M271.0,353.4L269.8,353.7M272.2,329.6L273.5,331.0L275.1,331.3L274.7,333.3L276.2,334.6M361.2,401.9L360.8,400.4L359.9,399.2L359.3,397.8L358.1,397.1M330.7,395.3L330.7,394.5M330.7,394.5L331.9,392.9L333.5,392.5L333.9,391.1M333.9,391.1L335.1,391.7L336.8,391.5L338.1,391.2L339.6,392.1L340.6,393.6L342.3,394.2L343.9,393.7L345.4,395.1L346.8,395.6L348.0,395.1L349.2,393.6L351.0,394.1L352.3,394.6L353.0,396.8L355.1,397.8L356.8,397.7L358.1,397.1M368.3,344.8L367.4,347.0L366.9,348.9L367.8,350.8L366.2,352.8M384.0,353.8L383.1,355.2L381.9,355.1L380.2,356.3L380.1,357.9L378.6,356.7L377.1,356.8L375.3,358.3L373.7,358.4M366.2,352.8L367.5,353.7L368.5,354.0L370.2,354.4L370.6,355.7L372.2,356.6L373.7,358.4M381.1,377.9L379.7,378.0L378.4,378.8L376.9,378.3L375.9,377.6L374.6,376.7L373.1,376.1L373.7,374.4L372.7,373.0M373.7,358.4L374.0,360.0L372.8,361.8L372.2,364.1L371.5,365.9L371.3,367.7L370.7,369.1L370.4,370.2L372.0,370.9L372.7,373.0M176.0,154.8L174.7,153.7L175.0,152.1L174.0,150.4L175.4,148.9L175.9,147.0L174.9,145.3L175.4,143.8L176.3,142.7L175.7,141.1L174.1,139.5M176.0,154.8L173.9,154.5L172.4,154.3L171.8,155.9L170.5,156.6L169.7,157.6L169.1,158.7L170.2,159.9L169.8,161.4L167.5,161.2L166.4,162.7M166.4,162.7L164.1,162.1M164.1,162.1L163.5,160.9L162.6,159.2L161.0,157.8L159.0,157.0M159.0,157.0L157.9,155.6L157.7,154.5L156.8,152.8L156.3,151.2L155.2,150.6L155.0,149.0L155.3,147.8M174.9,137.0L174.9,138.6L174.1,139.5M154.6,147.1L155.3,147.8M148.3,176.0L149.8,175.5L150.8,173.5L152.1,173.0L153.1,172.3L154.6,171.9L156.0,171.8L157.7,170.1L158.3,167.7L159.5,166.4L161.0,165.4L161.9,164.1L162.6,163.3L164.1,162.1M171.5,172.9L170.6,171.1L169.1,170.3L169.3,168.9L168.6,167.4L168.1,165.9L167.2,165.0L166.4,162.7M197.5,124.5L199.6,125.4L199.2,126.7L200.4,128.0L201.8,128.4L203.6,129.0L204.8,131.2L205.7,132.6L208.1,133.0L210.0,133.1M210.0,133.1L210.9,131.7L213.0,131.8L214.6,131.2L215.7,132.0L217.1,133.1L218.5,132.9L219.4,132.1L220.5,131.1M233.5,132.5L232.4,133.1L231.4,134.1M220.5,131.1L221.5,131.9L223.0,131.9L224.6,132.2L225.7,133.1L227.2,133.2L228.8,132.3L230.2,133.6L231.4,134.1M256.4,154.5L254.9,152.9L252.7,153.2L251.6,153.0L250.1,153.1L248.7,152.1L247.3,150.4L245.4,150.5L243.6,150.1L243.2,151.1L242.0,152.1L239.9,152.2L238.4,152.1L237.4,152.2L236.2,150.4L234.4,150.9L232.1,151.1L230.1,150.8L229.5,149.1M231.4,134.1L231.2,136.4L230.5,138.1L232.0,139.6L232.7,141.0L232.5,142.2L232.1,143.5L232.2,144.9L230.3,145.6L230.9,147.5L229.5,149.1M236.0,169.2L234.5,168.2L234.4,166.4L234.8,165.3L235.1,163.6L233.0,162.6L232.0,161.3L230.7,161.1L230.7,159.0L230.0,158.2L229.8,156.6L228.7,154.6L227.5,153.0M229.5,149.1L229.5,151.1L228.4,152.3L227.5,153.0M227.5,153.0L226.4,153.0L225.1,153.7L223.4,154.1M191.4,141.8L193.0,142.3L193.6,143.9L195.9,144.6L197.4,145.7L199.4,146.3L200.8,147.9L202.2,147.4L203.8,148.1L205.5,146.5M196.5,165.5L198.6,164.5L200.7,163.2L200.8,161.6L200.6,159.7L201.6,158.3L202.4,157.3L202.8,155.8L203.4,154.7L205.0,154.5L205.7,153.2L204.9,151.0L205.3,149.7L206.2,148.4M196.5,165.5L195.8,164.0L194.3,163.1L194.2,160.9L192.6,159.3L191.2,159.5L190.3,158.4L189.9,156.5L188.4,155.7L187.0,156.0M206.2,148.4L205.5,146.5M190.7,140.3L191.4,141.8M176.0,154.8L177.4,154.3L178.8,153.6L179.9,154.2L181.2,154.4L182.2,156.2L183.8,156.2L185.3,155.4L187.0,156.0M197.2,168.5L196.6,167.1L196.5,165.5M223.4,154.1L222.1,155.2L220.8,154.8L219.4,153.6L217.1,152.7L215.1,152.0L213.8,152.1L212.8,150.7L211.5,149.8L211.2,148.3L209.7,148.4L208.7,147.7L207.8,148.4L206.2,148.4M309.9,406.3L308.3,404.8L308.0,403.0L307.2,401.8M305.1,425.3L303.8,423.4L302.3,422.5L300.3,421.8L298.8,421.4L297.5,420.4L296.0,419.4L295.0,418.3L294.7,416.2L293.2,415.8L291.8,414.6L291.3,413.1L291.2,411.7L290.2,410.3L288.4,410.4L287.7,408.2L285.9,407.2M277.9,411.7L278.8,409.4L280.3,408.2L281.8,408.5L283.7,408.2L285.6,407.1M285.9,407.2L285.6,407.1M366.2,352.8L364.1,353.5L362.2,355.0L360.8,355.8L359.1,355.5M359.1,355.5L357.7,355.7L356.6,354.6L354.8,353.1L353.1,353.8M353.1,353.8L351.9,352.2L349.7,351.8L349.5,350.4L348.4,349.1L349.0,346.8M350.7,326.6L349.5,326.9L348.7,328.3L348.6,330.1L347.2,330.8L346.2,331.2L345.6,333.5L344.3,334.0L343.1,334.5L342.6,336.0L342.3,337.6L341.0,338.2L339.8,338.6L338.1,339.3M338.1,339.3L338.8,340.9M349.0,346.8L348.0,345.4L347.5,343.7L345.8,344.5L343.9,343.1L341.9,341.8L340.4,341.2L338.8,340.9M330.7,394.5L328.5,394.4L327.3,394.8L326.2,395.6L325.0,394.6L323.1,395.0L322.1,392.9L320.5,392.0L320.5,390.1L319.3,389.8L318.0,389.8L316.2,390.3L315.1,389.8L314.0,389.0M307.2,401.8L308.3,400.8L309.6,400.1L309.7,397.6L309.0,396.1L308.2,394.4L307.8,393.3L307.7,391.8M314.0,389.0L312.2,389.9L311.0,391.8L309.1,391.8L307.7,391.8M276.2,334.6L278.1,335.7L279.9,336.0L281.7,335.2L283.4,335.0L285.0,335.5L286.8,335.4L288.4,335.3L289.9,335.3M277.3,356.4L276.0,355.9L274.2,355.3L272.7,354.2L271.0,353.4M294.5,347.2L294.0,345.5L292.4,344.2L291.5,343.1L290.4,341.9L290.2,340.5L289.4,339.1L290.6,337.7L289.9,335.3M291.8,315.9L293.6,317.5L294.8,318.5L296.3,319.2L298.2,320.4L298.9,321.6L298.6,323.4M289.9,335.3L290.7,333.8L291.8,333.2L293.0,332.6L294.3,331.8L295.5,331.3L297.1,330.1L297.1,328.7L299.2,327.5L298.7,325.2L298.6,323.4M313.7,304.4L313.4,306.6L314.2,308.0L312.7,308.9L311.7,310.1L310.6,311.9L309.2,312.8L308.2,314.0L307.5,316.2L306.5,317.6L307.6,318.8L307.8,320.2L307.4,322.1L306.1,323.2L303.6,323.4M303.6,323.4L302.1,322.6L300.9,322.2L299.2,322.3L298.6,323.4M353.1,353.8L352.0,355.3L350.3,356.0L349.7,357.6L350.4,358.7L350.7,360.4L349.7,362.5L347.7,363.0L346.1,364.3M359.1,355.5L359.6,357.0L360.0,358.4L361.7,358.8L363.2,359.1L363.6,360.9L363.0,362.2L362.8,364.5L363.3,365.4L363.7,366.8L363.1,368.8L363.2,370.0L363.9,371.5L363.0,372.5L362.5,373.9M346.1,364.3L347.0,365.6L348.4,366.9L349.6,367.9L349.6,369.3L351.6,369.4L352.4,370.5L354.3,370.4L356.5,369.7L358.1,370.9L359.1,371.6L360.5,372.3L362.5,373.9M333.9,391.1L333.7,389.3L335.1,387.4L335.7,385.8L336.2,383.9L337.3,382.0L337.5,380.3L337.6,377.8L336.1,376.3M358.1,397.1L357.1,395.0L357.9,393.6L358.0,392.4L358.1,390.9L358.0,388.9L358.5,386.7L358.3,384.6L357.3,383.2L357.0,381.5M357.0,381.5L355.1,380.2L353.0,380.5L351.8,379.4L349.6,378.7L348.3,378.5L347.4,377.2L346.1,376.4L344.6,377.3L343.1,376.2L341.5,375.6L339.9,375.0L338.2,375.1L336.1,376.3M372.7,373.0L371.2,373.2L370.2,373.2L369.0,373.5L367.6,373.1L366.1,373.3L364.9,373.4L362.5,373.9M357.0,381.5L357.2,380.1L356.4,378.7L357.8,377.3L358.5,376.1L359.9,375.5L361.0,375.0L362.5,373.9M362.5,373.9L362.5,373.9M315.7,353.2L316.9,355.3L316.0,357.6L315.3,359.4L313.6,360.3L312.1,361.5L311.7,363.8L311.4,365.3L310.1,366.7M310.1,366.7L311.4,367.5L311.4,369.1L312.2,371.0L313.7,370.8L315.2,370.2L316.1,371.7L318.0,372.7M318.0,372.7L320.2,373.6L321.8,372.3L323.4,373.3L324.8,373.6L325.9,372.9L327.0,372.2L328.0,371.5L329.2,371.0L330.8,371.8L332.2,372.9L334.4,371.9M332.4,358.8L333.0,360.2L333.6,361.1L333.2,362.8L334.1,364.6L334.5,365.7L336.0,366.2L335.1,367.2L335.4,369.1M334.4,371.9L334.7,370.1L335.4,369.1M336.1,376.3L336.3,374.8L335.1,373.9L334.4,371.9M314.0,389.0L315.0,386.8L315.6,385.0L315.0,382.8L315.8,380.8L315.2,379.1L315.1,376.7L316.0,375.6L316.6,374.6L318.0,372.7M346.1,364.3L344.7,364.6L343.1,365.8L341.7,365.9L340.9,367.2L339.8,368.2L338.5,368.2L337.2,368.9L335.4,369.1M338.8,340.9L340.0,342.2L339.6,343.5L339.0,345.1L338.5,346.7L337.1,347.8L336.2,348.7L335.0,350.4L334.7,352.6L333.2,354.6L331.7,356.3L332.1,357.4L332.4,358.8M277.3,356.4L278.9,357.4L279.6,359.0L281.0,360.1L281.7,362.2L282.3,363.5L284.1,364.2L283.9,366.2L284.0,368.4M294.5,347.2L295.8,348.0M295.8,348.0L295.0,349.3L293.9,350.4L294.4,352.1L295.0,353.6L295.0,355.0L294.8,356.9L296.1,357.0L297.2,358.1L298.2,359.9M298.2,359.9L296.4,361.5L294.3,361.4L293.3,362.8L291.4,364.3L290.0,365.3L287.6,365.2L286.4,365.4L284.8,365.8L283.8,366.7L284.0,368.4M314.4,347.8L313.6,346.5L312.9,345.6L311.2,344.8M311.2,344.8L312.7,343.0L312.6,340.9L313.5,338.8L312.4,337.4L311.9,336.2L312.4,334.5L313.1,332.7L311.3,331.2L311.3,329.1M311.3,329.1L312.8,329.9L314.6,330.2L315.2,328.9L316.5,328.2L318.6,328.5L319.5,326.8L320.8,326.7L322.0,326.0L324.0,325.3L325.8,325.0L327.0,325.9M327.0,325.9L329.0,326.5L329.9,328.2L331.8,328.2L333.0,329.0L333.2,330.3L334.7,332.0L334.4,333.7L334.8,335.9L335.6,337.2L336.6,338.5M310.1,366.7L308.4,367.0M298.2,359.9L299.7,360.5L301.3,360.3L302.6,361.9L302.7,364.3L303.2,365.5L304.5,366.8L306.7,367.2L308.4,367.0M295.8,348.0L297.0,348.9L297.7,349.6L300.1,349.1L301.8,348.8L303.6,348.0L304.8,347.3L306.8,346.7L308.9,346.5L310.1,345.5L311.2,344.8M315.7,353.2L315.9,351.6L314.3,350.3L314.4,347.8M338.1,339.3L336.6,338.5M303.6,323.4L305.6,323.2L307.0,323.3L309.0,324.7L309.4,326.0L310.6,327.2L311.3,329.1M329.7,316.1L328.9,317.4L328.4,318.6L328.2,320.0L328.2,321.4L328.5,323.0L328.9,324.3L327.0,325.9M299.9,386.9L300.9,384.8L301.7,383.5L301.7,381.9L300.8,379.8L300.5,378.6L299.1,377.3M299.9,386.9L298.3,387.3L297.3,389.1L295.5,390.4L294.3,390.3L292.8,389.5L291.6,388.6L290.4,388.8L288.5,390.4L287.7,391.5L286.2,392.5M299.1,377.3L296.9,377.3L295.2,376.9L293.9,376.6L292.6,375.4L290.4,374.5L288.7,374.0L286.3,373.5L285.7,371.6L284.0,370.3M286.2,392.5L284.8,391.8L282.8,391.2L283.0,388.8L282.3,387.4L281.0,387.3L280.7,385.0L279.2,383.2L277.7,382.0L275.5,382.5M284.0,370.3L282.9,371.5L281.5,373.4L279.7,373.9L278.6,376.1L278.9,377.9L277.8,379.9L277.1,381.3L275.5,382.1M275.5,382.1L275.5,382.5M307.7,391.8L305.8,390.6L305.1,389.3L304.0,388.9L302.6,387.1L301.1,386.9L299.9,386.9M308.4,367.0L306.6,367.8L305.5,369.5L303.8,370.2L302.4,370.8L302.1,373.1L301.6,375.1L300.5,376.9L299.1,377.3M285.6,407.1L283.9,405.5L283.9,404.1L283.4,402.9L283.1,401.3L283.6,399.3L283.8,397.8L284.6,396.3L284.4,394.0L286.2,392.5M284.0,368.4L284.0,370.3M262.8,394.3L264.4,392.5L265.5,392.3L266.9,392.9L268.3,392.3L269.5,390.9L270.1,389.5L269.6,387.7L271.0,386.2L273.2,384.9L274.7,384.5L275.5,382.5M259.8,369.7L261.9,370.2L263.0,371.3L264.0,372.3L263.9,373.7L265.0,375.1L266.6,376.3L267.7,377.1L269.9,377.0L271.8,378.4L272.9,380.5L274.3,380.8L275.5,382.1" fill="none" stroke="#0c1622" stroke-width="1"/>
<path d="M244.7,107.9L243.6,109.9L241.2,110.5L239.0,110.0L237.3,108.8L237.4,107.0L238.6,105.2L241.2,105.5L243.3,106.2Z" fill="#0485e4" stroke="#0c1622" stroke-width="0.8"/>
<path d="M202.6,130.5L202.9,132.7L199.9,133.7L197.1,132.7L194.9,131.5L195.0,129.5L196.7,127.8L199.9,127.2L201.7,129.0Z" fill="none" stroke="#0c1622" stroke-width="0.8"/>
<path d="M370.9,132.4L370.0,135.4L367.3,135.5L365.4,135.1L363.1,133.9L363.2,130.9L365.0,128.8L367.3,128.9L369.5,129.8Z" fill="none" stroke="#0c1622" stroke-width="0.8"/>
<path d="M424.4,165.4L423.9,167.8L421.2,168.8L418.2,168.8L416.1,166.7L417.2,164.4L418.8,162.9L421.4,161.2L423.5,163.3Z" fill="#0457a9" stroke="#0c1622" stroke-width="0.8"/>
<path d="M552.4,137.8L551.7,140.0L550.5,141.7L548.9,140.9L547.9,138.9L547.6,136.4L548.4,133.5L550.5,133.1L552.3,134.8Z" fill="#0485e4" stroke="#0c1622" stroke-width="0.8"/>
<path d="M566.4,220.8L565.4,223.4L562.2,224.9L558.3,224.7L556.1,222.2L555.7,219.3L559.3,218.3L562.0,217.2L565.7,217.9Z" fill="#0485e4" stroke="#0c1622" stroke-width="0.8"/>
<path d="M482.1,225.3L481.4,227.3L479.3,228.0L477.5,227.4L476.7,226.0L475.8,224.3L477.4,223.0L479.4,222.3L480.9,223.6Z" fill="none" stroke="#0c1622" stroke-width="0.8"/>
<path d="M300.1,220.3L298.4,222.7L295.5,224.9L291.8,223.3L288.2,221.8L288.7,218.9L291.8,217.3L295.4,216.0L298.1,218.1Z" fill="none" stroke="#0c1622" stroke-width="0.8"/>
<path d="M327.8,230.2L328.1,232.9L323.9,233.0L320.2,233.4L319.0,231.1L318.6,229.2L319.8,226.6L323.9,227.3L327.5,227.9Z" fill="none" stroke="#0c1622" stroke-width="0.8"/>
<path d="M386.1,270.8L385.0,273.8L382.4,274.8L379.2,275.7L378.6,272.1L377.7,269.1L379.2,265.8L382.4,266.9L385.2,267.6Z" fill="none" stroke="#0c1622" stroke-width="0.8"/>
<path d="M307.3,293.3L306.7,296.3L305.5,298.3L304.2,296.9L302.8,295.2L302.8,291.4L304.0,288.8L305.4,289.3L306.8,290.1Z" fill="#0485e4" stroke="#0c1622" stroke-width="0.8"/>
<path d="M150.3,254.5L149.5,257.1L146.9,259.1L143.8,257.8L141.9,255.8L141.7,253.1L144.1,251.6L146.8,250.6L149.6,251.8Z" fill="none" stroke="#0c1622" stroke-width="0.8"/>
<path d="M241.8,281.6L240.7,286.6L236.4,289.4L232.3,286.9L230.1,283.5L229.1,279.2L232.0,275.9L236.5,273.4L240.8,276.5Z" fill="none" stroke="#0c1622" stroke-width="0.8"/>
<path d="M163.7,321.6L163.5,324.3L161.4,325.8L158.9,325.5L158.2,322.7L158.2,320.4L159.5,318.8L161.3,318.2L163.5,318.8Z" fill="none" stroke="#0c1622" stroke-width="0.8"/>
<path d="M219.1,330.3L219.1,332.2L217.6,333.2L215.6,333.1L215.1,331.1L215.1,329.5L215.7,327.7L217.6,327.4L218.8,328.7Z" fill="#0485e4" stroke="#0c1622" stroke-width="0.8"/>
<path d="M179.3,411.2L175.7,412.7L173.3,414.4L169.7,413.3L165.5,412.4L167.9,410.4L168.8,408.2L173.3,408.1L177.4,409.0Z" fill="none" stroke="#0c1622" stroke-width="0.8"/>
<path d="M204.6,419.3L204.1,422.4L202.4,423.9L200.5,423.4L199.3,420.9L199.0,417.5L200.6,415.5L202.4,414.2L203.6,416.9Z" fill="none" stroke="#0c1622" stroke-width="0.8"/>
<path d="M292.6,430.1L292.0,433.0L288.7,434.8L285.5,433.1L282.6,431.6L282.7,428.6L285.1,426.5L288.4,427.0L290.6,428.1Z" fill="none" stroke="#0c1622" stroke-width="0.8"/>
<path d="M355.1,417.5L354.9,420.9L351.7,421.9L348.8,421.1L346.3,419.2L346.3,415.8L348.5,413.3L351.7,412.8L354.2,414.7Z" fill="none" stroke="#0c1622" stroke-width="0.8"/>
<path d="M329.0,460.8L328.3,464.0L325.9,465.2L323.6,464.6L322.3,462.2L321.4,459.0L323.8,457.4L325.8,457.2L327.6,458.3Z" fill="#0485e4" stroke="#0c1622" stroke-width="0.8"/>
<path d="M348.1,476.1L347.0,478.1L345.2,479.3L342.9,479.1L342.2,477.0L341.7,475.0L342.9,473.1L345.2,472.7L346.9,474.2Z" fill="#0485e4" stroke="#0c1622" stroke-width="0.8"/>
<path d="M349.9,502.2L348.0,505.1L346.3,506.3L343.7,507.9L343.1,503.8L343.2,500.7L344.0,497.2L346.4,497.3L348.9,498.1Z" fill="#0485e4" stroke="#0c1622" stroke-width="0.8"/>
<path d="M355.1,503.0L353.0,509.8L347.4,513.2L342.6,509.1L338.2,506.1L338.7,500.1L341.8,495.3L346.9,495.8L350.9,498.2Z" fill="none" stroke="#0c1622" stroke-width="0.8"/>
<path d="M565.1,314.6L564.2,316.4L561.0,316.6L557.6,317.2L556.8,315.3L555.9,313.7L558.5,312.9L561.2,311.9L563.1,313.3Z" fill="#0485e4" stroke="#0c1622" stroke-width="0.8"/>
<path d="M518.4,302.7L518.4,305.2L516.0,306.4L514.0,305.1L511.9,304.0L512.2,301.5L514.1,300.5L516.1,298.9L517.6,300.9Z" fill="none" stroke="#0c1622" stroke-width="0.8"/>
<path d="M409.0,319.8L407.5,321.4L405.7,322.3L403.4,322.5L402.6,320.6L401.6,318.7L403.3,317.0L405.7,317.5L408.0,317.8Z" fill="none" stroke="#0c1622" stroke-width="0.8"/>
</g>
<path d="M92.2,154.4L103.2,155.2L101.3,158.1L102.6,160.6L99.3,163.9L93.5,159.3Z" fill="#0485e4" stroke="#0c1622" stroke-width="0.9" stroke-linejoin="round"/>
<path d="M103.9,155.5L109.7,150.3L122.5,144.5L130.3,142.3L139.5,138.7L154.0,134.2L175.6,128.2L191.8,123.4L200.0,117.5L207.5,108.5L213.5,104.0L223.8,99.0L235.5,95.2L244.1,90.5L252.3,85.3L263.1,82.6L275.8,79.9L288.4,77.2L308.0,76.5L315.8,80.6L324.0,85.3L330.2,89.9L334.5,93.7L335.6,97.2L333.6,97.0L332.4,93.9L328.7,90.7L321.6,86.1L313.2,82.9L315.8,88.6L317.8,94.7L320.4,99.9L320.9,108.1L324.0,112.3L331.2,115.9L341.5,117.6L357.0,117.0L366.3,114.1L373.5,111.0L377.8,108.2L378.4,109.3L374.0,112.3L368.4,115.7L361.1,118.0L356.5,119.5L358.0,122.0L362.2,124.1L369.4,121.5L376.6,118.5L382.8,113.3L385.9,109.7L390.0,110.2L413.3,113.4L440.0,117.1L477.9,119.8L542.8,116.7L545.5,112.5L551.8,113.4L552.6,114.6L554.0,115.7L554.4,117.4L555.5,118.6L557.6,120.1L560.0,121.6L561.3,122.8L563.1,123.4L564.7,123.4L566.4,123.4L568.1,124.3L570.1,124.4L571.1,125.9L572.6,127.0L574.5,129.0L576.4,130.2L577.9,131.0L578.9,132.5L579.8,135.1L581.0,137.1L581.3,139.3L581.5,141.7L580.7,144.1L581.1,146.7L581.4,149.0L581.4,151.9L580.9,153.6L579.8,154.9L580.0,156.7L581.0,158.5L580.8,160.5L580.6,162.7L581.1,164.7L581.7,166.3L582.8,168.2L584.3,169.4L584.7,171.0L586.0,172.6L586.0,174.6L586.8,176.7L586.1,178.5L586.2,180.1L585.7,181.7L585.7,183.3L586.9,184.7L587.9,186.0L588.2,187.8L588.5,189.3L588.5,192.1L589.1,193.6L589.7,195.0L590.8,196.4L591.9,197.7L594.0,199.8L594.6,201.5L595.3,203.0L596.1,204.9L595.7,206.9L596.4,208.5L597.5,209.5L598.5,210.7L599.7,211.5L599.3,213.2L599.2,215.0L599.9,216.7L600.5,218.4L601.2,220.4L602.3,222.4L601.9,225.3L603.1,227.8L603.4,230.0L603.2,232.6L602.3,234.6L602.3,236.5L601.6,238.3L601.6,239.9L601.4,241.9L600.7,244.2L600.6,246.2L601.7,248.1L601.8,250.6L603.2,252.7L602.2,254.1L601.6,256.0L600.2,256.9L599.0,258.1L598.3,259.8L597.5,261.2L596.5,262.5L595.1,263.5L593.3,264.1L592.0,265.7L589.7,266.6L587.6,267.0L586.6,268.4L584.7,269.3L582.6,269.5L580.7,270.8L579.9,272.7L578.9,274.5L577.4,275.1L575.9,276.3L574.8,277.7L574.0,279.4L572.2,280.7L569.9,281.6L567.8,283.7L566.5,284.7L565.7,286.5L564.9,288.5L563.6,289.7L562.7,291.3L562.7,293.3L564.6,294.3L566.0,296.5L568.0,297.1L570.3,298.1L572.0,299.4L574.0,300.0L575.3,301.1L576.2,302.3L578.9,303.0L581.1,303.5L583.5,304.0L584.1,305.6L585.1,307.2L586.3,308.8L588.1,309.5L588.4,311.7L589.6,313.1L589.2,315.1L589.5,317.5L590.2,319.3L589.8,321.0L588.5,322.3L588.3,323.8L587.7,325.8L586.3,327.3L586.4,329.0L586.4,330.9L584.3,332.1L583.2,334.0L581.9,335.6L579.5,336.5L580.6,338.7L582.2,340.0L582.6,342.1L582.6,343.8L583.0,345.9L584.3,347.5L583.9,349.7L584.7,351.6L585.5,353.4L586.3,355.0L587.0,356.2L588.0,357.4L589.0,359.2L589.7,361.4L589.3,363.4L589.9,365.3L589.6,367.0L590.0,368.5L590.1,370.5L589.1,372.3L589.0,374.6L589.7,376.8L590.4,378.8L592.0,380.0L600.0,400.0L607.0,420.0L600.0,440.0L585.0,470.0L570.0,500.0L560.0,530.0L545.0,548.0L540.0,556.5L547.5,564.0L547.8,570.0L534.0,567.0L528.0,562.5L522.0,562.5L510.0,555.0L490.0,545.0L470.0,548.0L450.0,540.0L430.0,545.0L415.0,540.0L400.0,554.5L385.0,545.0L375.0,535.0L361.0,527.1L358.4,527.2L356.4,528.3L356.4,530.4L356.2,532.2L355.3,533.7L354.1,535.1L351.9,536.1L349.4,536.9L347.5,537.4L345.1,537.3L344.8,535.3L344.4,533.6L343.8,531.2L342.8,529.4L341.3,528.7L340.2,527.9L338.5,527.6L337.1,527.1L337.6,525.5L337.3,523.6L336.3,520.8L336.1,518.1L334.9,515.8L333.4,515.1L332.5,513.7L330.8,513.2L329.4,511.8L327.7,511.1L326.5,509.5L325.2,508.4L324.7,506.7L323.4,504.3L322.3,501.9L321.5,500.3L321.1,498.6L321.2,497.1L321.3,495.4L319.4,493.9L317.4,492.0L314.8,491.6L312.4,490.2L310.1,490.3L307.8,490.4L305.3,489.8L303.1,489.7L300.8,488.6L298.3,487.9L297.6,486.6L296.5,485.5L294.0,484.0L292.5,484.8L290.8,485.2L289.9,486.5L288.4,487.4L285.5,486.9L282.7,487.4L281.5,484.9L279.8,482.6L277.7,480.8L277.2,479.1L276.0,478.0L275.0,476.7L274.0,475.1L272.7,473.1L271.4,471.6L271.5,469.1L272.5,466.8L273.1,465.0L273.2,462.6L270.5,463.3L268.3,462.9L266.0,464.0L263.2,464.4L261.6,463.0L260.6,460.9L258.9,459.3L256.9,458.9L254.8,458.6L253.1,457.9L251.8,455.9L250.1,454.4L248.2,453.8L246.7,452.9L244.8,452.7L242.5,453.5L240.5,454.0L238.2,453.0L235.9,452.9L233.5,451.7L233.8,454.0L235.2,456.2L236.9,457.7L238.9,458.9L239.3,460.8L239.5,462.6L240.1,464.2L240.3,466.2L238.8,467.6L237.2,469.0L235.2,469.0L233.5,469.8L232.9,471.6L232.4,473.3L230.5,474.1L229.3,475.9L226.5,476.3L225.0,477.0L223.6,477.9L222.6,476.7L221.6,475.6L220.9,472.9L218.1,471.9L216.5,471.2L215.4,469.8L213.4,468.3L211.9,466.9L210.3,465.8L208.6,464.2L207.8,462.5L207.3,461.0L206.5,459.1L206.4,457.1L205.1,456.3L204.3,454.8L202.8,454.1L200.9,453.6L200.2,452.2L199.6,450.6L197.4,449.0L198.1,447.2L199.4,446.1L200.8,445.2L202.5,444.3L204.4,443.0L206.3,442.1L207.6,440.5L209.1,439.1L209.0,437.4L210.0,435.8L210.2,433.8L210.0,431.9L207.5,431.5L205.0,432.3L203.0,431.5L201.0,431.9L199.2,431.5L197.1,430.9L195.5,429.8L193.8,429.2L192.3,430.6L190.7,431.7L189.2,433.0L188.4,435.1L186.0,434.1L184.3,432.2L183.1,431.1L182.3,429.7L181.1,428.5L179.4,428.3L177.3,426.9L175.2,426.7L173.9,425.0L172.2,423.8L170.4,422.7L168.6,422.1L166.1,421.8L164.3,420.4L162.3,420.9L160.5,420.4L158.2,419.6L155.9,419.3L154.1,418.1L152.7,416.5L151.4,414.1L150.5,412.1L150.0,410.0L150.0,408.1L149.5,406.3L149.6,404.8L147.7,404.8L145.7,404.5L144.0,403.4L142.4,402.1L140.6,402.1L139.2,401.1L137.8,401.3L136.1,401.2L136.1,402.9L135.7,404.7L134.4,406.6L133.4,408.4L130.9,408.7L128.5,409.4L126.4,410.4L124.4,412.1L124.4,410.0L125.4,408.3L126.3,407.0L126.3,405.1L126.9,403.3L128.2,401.5L129.4,400.5L130.7,399.4L132.1,398.1L132.9,396.5L133.9,394.7L134.1,393.0L134.1,391.2L133.6,389.8L133.3,388.2L133.5,386.6L133.8,384.8L133.6,383.2L132.6,381.3L131.8,379.6L132.4,377.5L133.3,375.9L133.4,373.9L134.1,372.2L134.3,370.5L133.6,369.0L133.9,366.3L133.0,364.6L132.8,363.0L130.5,361.3L128.8,360.9L127.6,359.7L125.9,359.2L124.6,358.5L123.0,357.5L121.9,356.1L119.7,354.1L119.9,351.9L120.9,350.2L120.8,348.7L120.4,347.0L119.4,344.3L118.5,343.0L117.9,341.5L116.2,339.1L115.5,337.6L114.5,336.0L113.5,333.4L113.4,330.7L114.5,328.8L114.9,327.0L116.4,325.4L118.1,324.2L117.6,322.1L117.6,320.0L118.6,318.2L118.8,316.2L118.6,314.5L118.6,312.5L118.1,310.5L118.2,308.7L117.6,306.4L116.4,304.7L116.3,302.5L117.0,300.0L115.7,298.4L114.2,296.3L113.7,294.1L113.4,292.3L113.4,289.5L112.0,287.5L110.8,285.3L109.8,283.4L109.9,280.9L110.4,278.5L111.2,276.4L111.0,274.3L112.2,273.1L113.1,271.3L114.4,269.4L114.3,267.1L112.0,265.2L111.5,263.5L110.5,262.2L109.8,260.9L108.3,260.1L106.8,259.9L105.3,259.0L104.6,257.6L103.3,256.7L101.8,256.0L100.8,254.7L98.9,252.9L97.5,250.7L95.6,248.8L94.5,247.9L93.6,246.6L91.4,246.1L89.0,245.5L87.9,243.1L88.3,240.8L88.5,238.6L89.0,236.5L90.6,235.6L91.4,234.1L93.4,233.1L94.4,231.5L95.1,229.9L96.8,228.9L97.9,227.1L98.9,225.7L99.6,223.3L101.0,221.1L100.7,218.8L100.4,216.7L101.1,214.8L101.5,212.8L102.3,210.8L103.4,209.4L102.6,207.0L102.6,204.5L103.0,202.1L102.2,200.1L101.2,198.5L101.2,196.2L101.6,193.9L100.8,191.6L99.2,189.7L98.1,187.7L98.6,185.9L98.6,184.3L98.5,182.4L97.9,180.8L97.7,179.2L97.6,177.5L97.0,176.1L96.1,174.8L96.7,173.3L96.6,171.6L97.4,169.0L98.5,170.5L99.5,172.2L100.7,173.8L102.8,174.6L104.5,175.5L105.9,176.4L107.8,177.2L109.7,177.4L110.8,178.8L111.5,180.7L112.7,181.6L114.2,182.5L112.7,180.0L110.8,178.3L111.1,175.6L110.3,173.5L110.5,171.9L111.0,170.3L110.9,167.7L112.0,166.3L112.9,164.5L112.0,162.6L112.2,160.6L110.6,160.2L108.9,159.4L107.1,159.0L105.1,159.3Z" fill="none" stroke="#3a4048" stroke-width="1" stroke-linejoin="round"/>
<path d="M121.4,145.8L119.3,152.3L118,153.6L119.7,147.6Z" fill="#fff" stroke="#6a7078" stroke-width="0.7"/><path d="M122.3,144.8L119.6,150.4L116.2,156L114.7,163.2" fill="none" stroke="#6a7078" stroke-width="1"/>
<path d="M318.0,82.6L324.0,86.0L329.5,90.2L333.2,93.8L334.6,96.8" fill="none" stroke="#0a4f94" stroke-width="1.3" stroke-linecap="round" stroke-linejoin="round"/>
<path d="M359.0,117.3L364.0,116.2L369.0,114.3L374.0,111.5L378.0,108.6" fill="none" stroke="#0a4f94" stroke-width="1.2" stroke-linecap="round" stroke-linejoin="round"/>
</svg>
<div id="tip">
<div class="r" id="t1" style="top:13px;transform:scaleX(1.064);transform-origin:100% 0;">powiat Ruda Śląska,</div>
<div class="r b" id="t2" style="top:35px;color:#1b1b1b;transform:scaleX(1.064);transform-origin:100% 0;">Liczba zakażonych:</div>
<div class="r b" id="t3" style="top:59px;font-size:31px;color:#1b1b1b;transform:scaleX(1.07);transform-origin:100% 0;">52</div>
<hr>
<div class="r" id="t4" style="top:117.5px;transform:scaleX(1.09);transform-origin:100% 0;">Liczba przypadków śmiertelnych: <span class="b" style="color:#1b1b1b">1</span></div>
<div class="r" id="t5" style="top:138.5px;transform:scaleX(1.10);transform-origin:100% 0;">choroby współistniejące: 1</div>
<div class="r" id="t6" style="top:160px;transform:scaleX(1.017);transform-origin:100% 0;">COVID: 0</div>
</div>
<svg id="arr" width="12" height="23" viewBox="0 0 12 23"><path d="M12 0.5L1 11.5L12 22.5z" fill="#fff"/></svg>
</body>
</html>
